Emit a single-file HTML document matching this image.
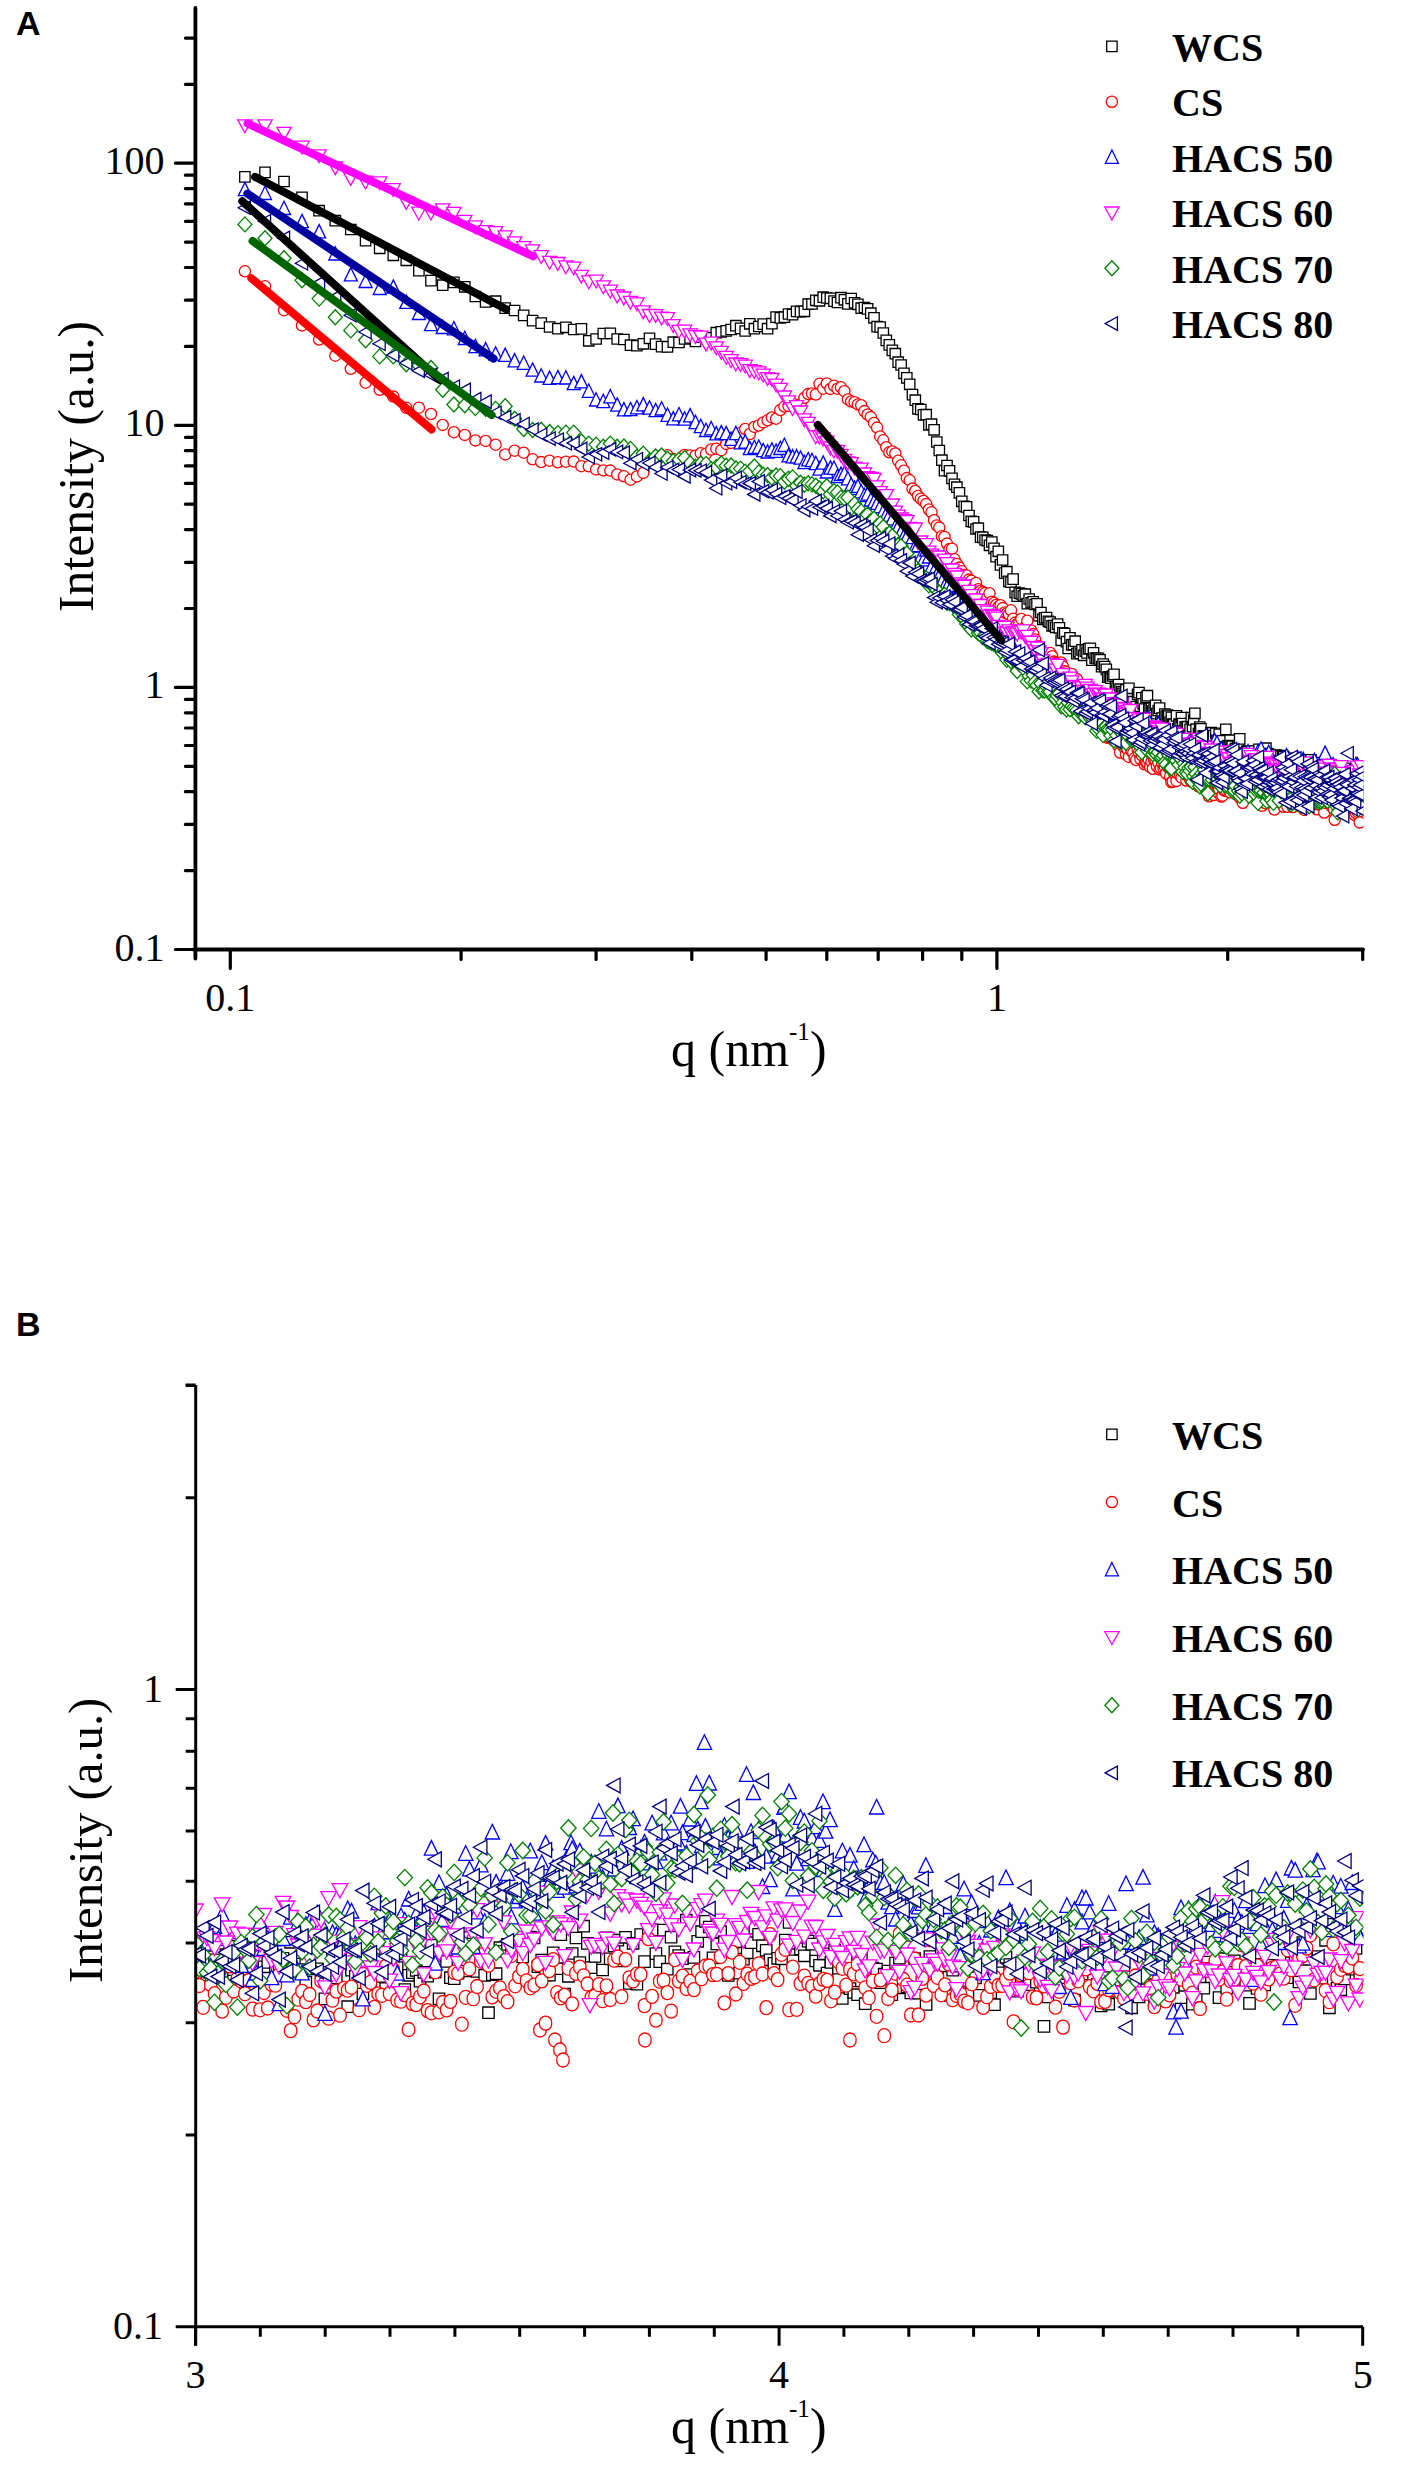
<!DOCTYPE html>
<html><head><meta charset="utf-8"><style>
html,body{margin:0;padding:0;background:#fff;}
body{width:1404px;height:2480px;overflow:hidden;}
svg{display:block;}
.tk{font-family:"Liberation Serif",serif;font-size:40px;fill:#000;}
.lg{font-family:"Liberation Serif",serif;font-size:40px;font-weight:bold;fill:#000;}
.ti{font-family:"Liberation Serif",serif;font-size:50px;fill:#000;}
.pl{font-family:"Liberation Sans",sans-serif;font-size:34px;font-weight:bold;fill:#000;}
.mk path{fill:#fff;stroke-width:1.3;}
.mb path{fill:#fff;stroke-width:1.3;}
</style></head><body>
<svg width="1404" height="2480" viewBox="0 0 1404 2480">
<defs>
<clipPath id="ca"><rect x="195" y="0" width="1168.5" height="950"/></clipPath>
<clipPath id="cb"><rect x="195" y="1380" width="1168.5" height="947"/></clipPath>
</defs>
<rect x="0" y="0" width="1404" height="2480" fill="#fff"/>
<rect x="0" y="1242" width="1404" height="1238" fill="#fefefe"/>
<text class="pl" x="16" y="35">A</text>
<text class="pl" x="16" y="1335.5">B</text>
<!-- Panel A -->
<g class="mk" clip-path="url(#ca)">
<g stroke="#000"><path d="M239.7 171.7h10.4v10.4h-10.4z"/><path d="M259.8 167.2h10.4v10.4h-10.4z"/><path d="M278.8 176.3h10.4v10.4h-10.4z"/><path d="M296.8 192.2h10.4v10.4h-10.4z"/><path d="M313.9 205.5h10.4v10.4h-10.4z"/><path d="M330.1 215.4h10.4v10.4h-10.4z"/><path d="M345.6 224.3h10.4v10.4h-10.4z"/><path d="M360.4 235.4h10.4v10.4h-10.4z"/><path d="M374.5 243.1h10.4v10.4h-10.4z"/><path d="M388.1 250.1h10.4v10.4h-10.4z"/><path d="M401.1 255.1h10.4v10.4h-10.4z"/><path d="M413.7 265.5h10.4v10.4h-10.4z"/><path d="M425.8 275.4h10.4v10.4h-10.4z"/><path d="M437.5 280h10.4v10.4h-10.4z"/><path d="M448.7 277.2h10.4v10.4h-10.4z"/><path d="M459.6 281.6h10.4v10.4h-10.4z"/><path d="M470.2 291.3h10.4v10.4h-10.4z"/><path d="M480.4 296.7h10.4v10.4h-10.4z"/><path d="M490.4 296h10.4v10.4h-10.4z"/><path d="M500 302.9h10.4v10.4h-10.4z"/><path d="M509.4 305.3h10.4v10.4h-10.4z"/><path d="M518.5 310.2h10.4v10.4h-10.4z"/><path d="M527.4 315.4h10.4v10.4h-10.4z"/><path d="M536 317.9h10.4v10.4h-10.4z"/><path d="M544.4 321.8h10.4v10.4h-10.4z"/><path d="M552.7 323.5h10.4v10.4h-10.4z"/><path d="M560.7 322.1h10.4v10.4h-10.4z"/><path d="M568.5 324.3h10.4v10.4h-10.4z"/><path d="M576.2 323.7h10.4v10.4h-10.4z"/><path d="M583.6 335.6h10.4v10.4h-10.4z"/><path d="M590.9 333.8h10.4v10.4h-10.4z"/><path d="M598.1 328.3h10.4v10.4h-10.4z"/><path d="M605.1 328.2h10.4v10.4h-10.4z"/><path d="M612 333.8h10.4v10.4h-10.4z"/><path d="M618.7 334.3h10.4v10.4h-10.4z"/><path d="M625.3 340h10.4v10.4h-10.4z"/><path d="M631.7 340.5h10.4v10.4h-10.4z"/><path d="M638.1 338.6h10.4v10.4h-10.4z"/><path d="M644.3 333.1h10.4v10.4h-10.4z"/><path d="M650.4 338.9h10.4v10.4h-10.4z"/><path d="M656.4 341.4h10.4v10.4h-10.4z"/><path d="M662.3 341.7h10.4v10.4h-10.4z"/><path d="M668.1 337h10.4v10.4h-10.4z"/><path d="M673.8 337.3h10.4v10.4h-10.4z"/><path d="M679.4 333.8h10.4v10.4h-10.4z"/><path d="M684.9 332.7h10.4v10.4h-10.4z"/><path d="M690.3 336.2h10.4v10.4h-10.4z"/><path d="M695.6 331.9h10.4v10.4h-10.4z"/><path d="M700.8 332.6h10.4v10.4h-10.4z"/><path d="M706 332.7h10.4v10.4h-10.4z"/><path d="M711.1 327.5h10.4v10.4h-10.4z"/><path d="M716.1 326.7h10.4v10.4h-10.4z"/><path d="M721 325.7h10.4v10.4h-10.4z"/><path d="M725.9 324.3h10.4v10.4h-10.4z"/><path d="M730.7 320.5h10.4v10.4h-10.4z"/><path d="M735.4 323.2h10.4v10.4h-10.4z"/><path d="M740 325.8h10.4v10.4h-10.4z"/><path d="M744.6 318.6h10.4v10.4h-10.4z"/><path d="M749.2 323.5h10.4v10.4h-10.4z"/><path d="M753.6 321.3h10.4v10.4h-10.4z"/><path d="M758 318.9h10.4v10.4h-10.4z"/><path d="M762.4 323.5h10.4v10.4h-10.4z"/><path d="M766.7 318.5h10.4v10.4h-10.4z"/><path d="M770.9 311.9h10.4v10.4h-10.4z"/><path d="M775.1 312.7h10.4v10.4h-10.4z"/><path d="M779.2 312h10.4v10.4h-10.4z"/><path d="M783.3 308.8h10.4v10.4h-10.4z"/><path d="M787.4 309.4h10.4v10.4h-10.4z"/><path d="M791.4 306.2h10.4v10.4h-10.4z"/><path d="M795.3 306.5h10.4v10.4h-10.4z"/><path d="M799.2 306.1h10.4v10.4h-10.4z"/><path d="M803 299h10.4v10.4h-10.4z"/><path d="M806.8 298.8h10.4v10.4h-10.4z"/><path d="M810.6 295.1h10.4v10.4h-10.4z"/><path d="M814.3 295.6h10.4v10.4h-10.4z"/><path d="M818 292h10.4v10.4h-10.4z"/><path d="M821.6 292.8h10.4v10.4h-10.4z"/><path d="M825.2 293.1h10.4v10.4h-10.4z"/><path d="M828.8 295.9h10.4v10.4h-10.4z"/><path d="M832.3 297.3h10.4v10.4h-10.4z"/><path d="M835.8 292.5h10.4v10.4h-10.4z"/><path d="M839.2 294.6h10.4v10.4h-10.4z"/><path d="M842.7 298.7h10.4v10.4h-10.4z"/><path d="M846 293.3h10.4v10.4h-10.4z"/><path d="M849.4 297.6h10.4v10.4h-10.4z"/><path d="M852.7 299.1h10.4v10.4h-10.4z"/><path d="M856 303h10.4v10.4h-10.4z"/><path d="M859.2 302.3h10.4v10.4h-10.4z"/><path d="M862.4 303.7h10.4v10.4h-10.4z"/><path d="M865.6 308h10.4v10.4h-10.4z"/><path d="M868.8 312.6h10.4v10.4h-10.4z"/><path d="M871.9 321.4h10.4v10.4h-10.4z"/><path d="M875 321.8h10.4v10.4h-10.4z"/><path d="M878.1 327.8h10.4v10.4h-10.4z"/><path d="M881.1 335.2h10.4v10.4h-10.4z"/><path d="M884.1 339.7h10.4v10.4h-10.4z"/><path d="M887.1 345.2h10.4v10.4h-10.4z"/><path d="M890.1 348.5h10.4v10.4h-10.4z"/><path d="M893 357h10.4v10.4h-10.4z"/><path d="M895.9 359.8h10.4v10.4h-10.4z"/><path d="M898.8 368.1h10.4v10.4h-10.4z"/><path d="M901.6 372.6h10.4v10.4h-10.4z"/><path d="M904.5 379.1h10.4v10.4h-10.4z"/><path d="M907.3 389.4h10.4v10.4h-10.4z"/><path d="M910.1 395h10.4v10.4h-10.4z"/><path d="M912.8 403.6h10.4v10.4h-10.4z"/><path d="M915.6 404.3h10.4v10.4h-10.4z"/><path d="M918.3 409.6h10.4v10.4h-10.4z"/><path d="M921 409.5h10.4v10.4h-10.4z"/><path d="M923.7 419.6h10.4v10.4h-10.4z"/><path d="M926.3 419h10.4v10.4h-10.4z"/><path d="M928.9 424.6h10.4v10.4h-10.4z"/><path d="M931.6 436.8h10.4v10.4h-10.4z"/><path d="M934.1 445.3h10.4v10.4h-10.4z"/><path d="M936.7 455h10.4v10.4h-10.4z"/><path d="M939.3 465.5h10.4v10.4h-10.4z"/><path d="M941.8 460.3h10.4v10.4h-10.4z"/><path d="M944.3 465.6h10.4v10.4h-10.4z"/><path d="M946.8 473.2h10.4v10.4h-10.4z"/><path d="M949.3 479.1h10.4v10.4h-10.4z"/><path d="M951.7 482h10.4v10.4h-10.4z"/><path d="M954.2 487.6h10.4v10.4h-10.4z"/><path d="M956.6 496.1h10.4v10.4h-10.4z"/><path d="M959 501.1h10.4v10.4h-10.4z"/><path d="M961.4 501.7h10.4v10.4h-10.4z"/><path d="M963.8 510.3h10.4v10.4h-10.4z"/><path d="M966.1 516.2h10.4v10.4h-10.4z"/><path d="M968.4 516.6h10.4v10.4h-10.4z"/><path d="M970.8 523.8h10.4v10.4h-10.4z"/><path d="M973.1 523h10.4v10.4h-10.4z"/><path d="M975.4 531.9h10.4v10.4h-10.4z"/><path d="M977.6 532.1h10.4v10.4h-10.4z"/><path d="M979.9 534.8h10.4v10.4h-10.4z"/><path d="M982.1 535.5h10.4v10.4h-10.4z"/><path d="M984.3 540.1h10.4v10.4h-10.4z"/><path d="M986.6 536.8h10.4v10.4h-10.4z"/><path d="M988.8 543.1h10.4v10.4h-10.4z"/><path d="M990.9 551.5h10.4v10.4h-10.4z"/><path d="M993.1 546.1h10.4v10.4h-10.4z"/><path d="M995.3 559.7h10.4v10.4h-10.4z"/><path d="M997.4 554.8h10.4v10.4h-10.4z"/><path d="M999.5 567.9h10.4v10.4h-10.4z"/><path d="M1001.6 566.5h10.4v10.4h-10.4z"/><path d="M1003.7 576.1h10.4v10.4h-10.4z"/><path d="M1005.8 576.9h10.4v10.4h-10.4z"/><path d="M1007.9 573.9h10.4v10.4h-10.4z"/><path d="M1010 587.2h10.4v10.4h-10.4z"/><path d="M1012 591h10.4v10.4h-10.4z"/><path d="M1014.1 587.9h10.4v10.4h-10.4z"/><path d="M1016.1 588.7h10.4v10.4h-10.4z"/><path d="M1018.1 590.6h10.4v10.4h-10.4z"/><path d="M1020.1 589h10.4v10.4h-10.4z"/><path d="M1022.1 598.4h10.4v10.4h-10.4z"/><path d="M1024 593.8h10.4v10.4h-10.4z"/><path d="M1026 597.6h10.4v10.4h-10.4z"/><path d="M1028 596.7h10.4v10.4h-10.4z"/><path d="M1029.9 599.3h10.4v10.4h-10.4z"/><path d="M1031.8 598.6h10.4v10.4h-10.4z"/><path d="M1033.8 610.5h10.4v10.4h-10.4z"/><path d="M1035.7 607.3h10.4v10.4h-10.4z"/><path d="M1037.6 614.2h10.4v10.4h-10.4z"/><path d="M1039.4 612.7h10.4v10.4h-10.4z"/><path d="M1041.3 612.3h10.4v10.4h-10.4z"/><path d="M1043.2 616.1h10.4v10.4h-10.4z"/><path d="M1045 616.9h10.4v10.4h-10.4z"/><path d="M1046.9 620.6h10.4v10.4h-10.4z"/><path d="M1048.7 620.4h10.4v10.4h-10.4z"/><path d="M1050.5 622.1h10.4v10.4h-10.4z"/><path d="M1052.4 618.9h10.4v10.4h-10.4z"/><path d="M1054.2 622.6h10.4v10.4h-10.4z"/><path d="M1056 635.1h10.4v10.4h-10.4z"/><path d="M1057.7 627.7h10.4v10.4h-10.4z"/><path d="M1059.5 628.3h10.4v10.4h-10.4z"/><path d="M1061.3 636.5h10.4v10.4h-10.4z"/><path d="M1063 643.3h10.4v10.4h-10.4z"/><path d="M1064.8 632.7h10.4v10.4h-10.4z"/><path d="M1066.5 639.6h10.4v10.4h-10.4z"/><path d="M1068.3 639.3h10.4v10.4h-10.4z"/><path d="M1070 636h10.4v10.4h-10.4z"/><path d="M1071.7 648.4h10.4v10.4h-10.4z"/><path d="M1073.4 646.6h10.4v10.4h-10.4z"/><path d="M1075.1 648.2h10.4v10.4h-10.4z"/><path d="M1076.8 644.7h10.4v10.4h-10.4z"/><path d="M1078.4 650.1h10.4v10.4h-10.4z"/><path d="M1080.1 645.9h10.4v10.4h-10.4z"/><path d="M1081.8 647.8h10.4v10.4h-10.4z"/><path d="M1083.4 643.6h10.4v10.4h-10.4z"/><path d="M1085.1 643.2h10.4v10.4h-10.4z"/><path d="M1086.7 654.9h10.4v10.4h-10.4z"/><path d="M1088.3 647.6h10.4v10.4h-10.4z"/><path d="M1090 653h10.4v10.4h-10.4z"/><path d="M1091.6 653.3h10.4v10.4h-10.4z"/><path d="M1093.2 653.1h10.4v10.4h-10.4z"/><path d="M1094.8 654.6h10.4v10.4h-10.4z"/><path d="M1096.4 661.5h10.4v10.4h-10.4z"/><path d="M1097.9 658.9h10.4v10.4h-10.4z"/><path d="M1099.5 661.3h10.4v10.4h-10.4z"/><path d="M1101.1 664.2h10.4v10.4h-10.4z"/><path d="M1102.6 672h10.4v10.4h-10.4z"/><path d="M1104.2 672h10.4v10.4h-10.4z"/><path d="M1105.7 673h10.4v10.4h-10.4z"/><path d="M1107.3 670.8h10.4v10.4h-10.4z"/><path d="M1108.8 669.2h10.4v10.4h-10.4z"/><path d="M1110.3 681.7h10.4v10.4h-10.4z"/><path d="M1111.8 683.2h10.4v10.4h-10.4z"/><path d="M1113.4 679.3h10.4v10.4h-10.4z"/><path d="M1114.9 684h10.4v10.4h-10.4z"/><path d="M1116.3 686.5h10.4v10.4h-10.4z"/><path d="M1117.8 688.1h10.4v10.4h-10.4z"/><path d="M1119.3 689.9h10.4v10.4h-10.4z"/><path d="M1120.8 684.6h10.4v10.4h-10.4z"/><path d="M1122.3 695.6h10.4v10.4h-10.4z"/><path d="M1123.7 683.1h10.4v10.4h-10.4z"/><path d="M1125.2 694.5h10.4v10.4h-10.4z"/><path d="M1126.6 693.6h10.4v10.4h-10.4z"/><path d="M1128.1 696.5h10.4v10.4h-10.4z"/><path d="M1129.5 702.4h10.4v10.4h-10.4z"/><path d="M1131 701.4h10.4v10.4h-10.4z"/><path d="M1132.4 689.2h10.4v10.4h-10.4z"/><path d="M1133.8 687.4h10.4v10.4h-10.4z"/><path d="M1135.2 700.9h10.4v10.4h-10.4z"/><path d="M1136.6 692.6h10.4v10.4h-10.4z"/><path d="M1138 698.6h10.4v10.4h-10.4z"/><path d="M1139.4 703.8h10.4v10.4h-10.4z"/><path d="M1140.8 692.1h10.4v10.4h-10.4z"/><path d="M1142.2 690.5h10.4v10.4h-10.4z"/><path d="M1143.6 703.6h10.4v10.4h-10.4z"/><path d="M1144.9 703.5h10.4v10.4h-10.4z"/><path d="M1146.3 703.2h10.4v10.4h-10.4z"/><path d="M1147.7 705.9h10.4v10.4h-10.4z"/><path d="M1149 702.4h10.4v10.4h-10.4z"/><path d="M1150.4 700.2h10.4v10.4h-10.4z"/><path d="M1151.7 708.4h10.4v10.4h-10.4z"/><path d="M1153.1 705.3h10.4v10.4h-10.4z"/><path d="M1154.4 702.9h10.4v10.4h-10.4z"/><path d="M1155.7 715.4h10.4v10.4h-10.4z"/><path d="M1157 712.9h10.4v10.4h-10.4z"/><path d="M1158.4 715.9h10.4v10.4h-10.4z"/><path d="M1159.7 708.9h10.4v10.4h-10.4z"/><path d="M1161 711.1h10.4v10.4h-10.4z"/><path d="M1162.3 709.8h10.4v10.4h-10.4z"/><path d="M1163.6 710.8h10.4v10.4h-10.4z"/><path d="M1164.9 717.1h10.4v10.4h-10.4z"/><path d="M1166.2 712.2h10.4v10.4h-10.4z"/><path d="M1167.5 718.8h10.4v10.4h-10.4z"/><path d="M1168.7 719.2h10.4v10.4h-10.4z"/><path d="M1170 728.8h10.4v10.4h-10.4z"/><path d="M1171.3 710.7h10.4v10.4h-10.4z"/><path d="M1172.5 723.6h10.4v10.4h-10.4z"/><path d="M1173.8 718.8h10.4v10.4h-10.4z"/><path d="M1175 719.7h10.4v10.4h-10.4z"/><path d="M1176.3 712.4h10.4v10.4h-10.4z"/><path d="M1177.5 718.4h10.4v10.4h-10.4z"/><path d="M1178.8 725.6h10.4v10.4h-10.4z"/><path d="M1180 721.6h10.4v10.4h-10.4z"/><path d="M1181.2 723.1h10.4v10.4h-10.4z"/><path d="M1182.5 721.5h10.4v10.4h-10.4z"/><path d="M1183.7 730.1h10.4v10.4h-10.4z"/><path d="M1184.9 724.1h10.4v10.4h-10.4z"/><path d="M1186.1 712.5h10.4v10.4h-10.4z"/><path d="M1187.3 721.4h10.4v10.4h-10.4z"/><path d="M1188.5 714.8h10.4v10.4h-10.4z"/><path d="M1189.7 708.1h10.4v10.4h-10.4z"/><path d="M1190.9 724h10.4v10.4h-10.4z"/><path d="M1192.1 735.1h10.4v10.4h-10.4z"/><path d="M1193.3 728.3h10.4v10.4h-10.4z"/><path d="M1194.5 721.8h10.4v10.4h-10.4z"/><path d="M1195.7 723.7h10.4v10.4h-10.4z"/><path d="M1196.8 736h10.4v10.4h-10.4z"/><path d="M1198 731h10.4v10.4h-10.4z"/><path d="M1199.2 730.8h10.4v10.4h-10.4z"/><path d="M1200.3 730.8h10.4v10.4h-10.4z"/><path d="M1201.5 731.8h10.4v10.4h-10.4z"/><path d="M1202.7 736.7h10.4v10.4h-10.4z"/><path d="M1203.8 735.8h10.4v10.4h-10.4z"/><path d="M1205 734.3h10.4v10.4h-10.4z"/><path d="M1206.1 727.5h10.4v10.4h-10.4z"/><path d="M1207.2 737h10.4v10.4h-10.4z"/><path d="M1208.4 730.5h10.4v10.4h-10.4z"/><path d="M1209.5 741.5h10.4v10.4h-10.4z"/><path d="M1210.6 728.1h10.4v10.4h-10.4z"/><path d="M1211.7 735.2h10.4v10.4h-10.4z"/><path d="M1212.9 736.5h10.4v10.4h-10.4z"/><path d="M1214 729.1h10.4v10.4h-10.4z"/><path d="M1215.1 747.7h10.4v10.4h-10.4z"/><path d="M1216.2 746.6h10.4v10.4h-10.4z"/><path d="M1217.3 735.7h10.4v10.4h-10.4z"/><path d="M1218.4 743.5h10.4v10.4h-10.4z"/><path d="M1219.5 741.6h10.4v10.4h-10.4z"/><path d="M1220.6 724.2h10.4v10.4h-10.4z"/><path d="M1221.7 741.8h10.4v10.4h-10.4z"/><path d="M1222.8 740.4h10.4v10.4h-10.4z"/><path d="M1223.9 741.7h10.4v10.4h-10.4z"/><path d="M1224.9 735h10.4v10.4h-10.4z"/><path d="M1226 740.3h10.4v10.4h-10.4z"/><path d="M1227.1 741.2h10.4v10.4h-10.4z"/><path d="M1228.1 749.9h10.4v10.4h-10.4z"/><path d="M1229.2 745.1h10.4v10.4h-10.4z"/><path d="M1230.3 743.4h10.4v10.4h-10.4z"/><path d="M1231.3 753.1h10.4v10.4h-10.4z"/><path d="M1232.4 740.7h10.4v10.4h-10.4z"/><path d="M1233.4 742.1h10.4v10.4h-10.4z"/><path d="M1234.5 733.7h10.4v10.4h-10.4z"/><path d="M1235.5 754.9h10.4v10.4h-10.4z"/><path d="M1236.6 751.5h10.4v10.4h-10.4z"/><path d="M1237.6 751.6h10.4v10.4h-10.4z"/><path d="M1238.6 750.4h10.4v10.4h-10.4z"/><path d="M1239.7 747.3h10.4v10.4h-10.4z"/><path d="M1240.7 748.3h10.4v10.4h-10.4z"/><path d="M1241.7 745.8h10.4v10.4h-10.4z"/><path d="M1242.8 746.4h10.4v10.4h-10.4z"/><path d="M1243.8 748.4h10.4v10.4h-10.4z"/><path d="M1244.8 757.9h10.4v10.4h-10.4z"/><path d="M1245.8 752.2h10.4v10.4h-10.4z"/><path d="M1246.8 748.7h10.4v10.4h-10.4z"/><path d="M1247.8 745.8h10.4v10.4h-10.4z"/><path d="M1248.8 745.8h10.4v10.4h-10.4z"/><path d="M1249.8 760.2h10.4v10.4h-10.4z"/><path d="M1250.8 753.6h10.4v10.4h-10.4z"/><path d="M1251.8 751.1h10.4v10.4h-10.4z"/><path d="M1252.8 748.8h10.4v10.4h-10.4z"/><path d="M1253.8 744.2h10.4v10.4h-10.4z"/><path d="M1254.8 751.1h10.4v10.4h-10.4z"/><path d="M1255.8 757.4h10.4v10.4h-10.4z"/><path d="M1256.8 749.6h10.4v10.4h-10.4z"/><path d="M1257.7 751h10.4v10.4h-10.4z"/><path d="M1258.7 751.3h10.4v10.4h-10.4z"/><path d="M1259.7 753.7h10.4v10.4h-10.4z"/><path d="M1260.7 743h10.4v10.4h-10.4z"/><path d="M1261.6 752h10.4v10.4h-10.4z"/><path d="M1262.6 748.3h10.4v10.4h-10.4z"/><path d="M1263.5 759.8h10.4v10.4h-10.4z"/><path d="M1264.5 749.4h10.4v10.4h-10.4z"/><path d="M1265.5 758.4h10.4v10.4h-10.4z"/><path d="M1266.4 764.8h10.4v10.4h-10.4z"/><path d="M1267.4 753.2h10.4v10.4h-10.4z"/><path d="M1268.3 751.6h10.4v10.4h-10.4z"/><path d="M1269.2 757h10.4v10.4h-10.4z"/><path d="M1270.2 756h10.4v10.4h-10.4z"/><path d="M1271.1 749.8h10.4v10.4h-10.4z"/><path d="M1272.1 759.6h10.4v10.4h-10.4z"/><path d="M1273 770.1h10.4v10.4h-10.4z"/><path d="M1273.9 755.5h10.4v10.4h-10.4z"/><path d="M1274.9 756.2h10.4v10.4h-10.4z"/><path d="M1275.8 751h10.4v10.4h-10.4z"/><path d="M1276.7 760.3h10.4v10.4h-10.4z"/><path d="M1277.6 750.3h10.4v10.4h-10.4z"/><path d="M1278.5 751.6h10.4v10.4h-10.4z"/><path d="M1279.5 767.7h10.4v10.4h-10.4z"/><path d="M1280.4 753.5h10.4v10.4h-10.4z"/><path d="M1281.3 767.1h10.4v10.4h-10.4z"/><path d="M1282.2 770.4h10.4v10.4h-10.4z"/><path d="M1283.1 762.3h10.4v10.4h-10.4z"/><path d="M1284 764.6h10.4v10.4h-10.4z"/><path d="M1284.9 774.3h10.4v10.4h-10.4z"/><path d="M1285.8 760.2h10.4v10.4h-10.4z"/><path d="M1286.7 757.9h10.4v10.4h-10.4z"/><path d="M1287.6 753.1h10.4v10.4h-10.4z"/><path d="M1288.5 762.8h10.4v10.4h-10.4z"/><path d="M1289.4 772.8h10.4v10.4h-10.4z"/><path d="M1290.3 769.6h10.4v10.4h-10.4z"/><path d="M1291.1 757.1h10.4v10.4h-10.4z"/><path d="M1292 758h10.4v10.4h-10.4z"/><path d="M1292.9 760.7h10.4v10.4h-10.4z"/><path d="M1293.8 766.4h10.4v10.4h-10.4z"/><path d="M1294.7 763.4h10.4v10.4h-10.4z"/><path d="M1295.5 766.5h10.4v10.4h-10.4z"/><path d="M1296.4 767.3h10.4v10.4h-10.4z"/><path d="M1297.3 763.5h10.4v10.4h-10.4z"/><path d="M1298.1 765.5h10.4v10.4h-10.4z"/><path d="M1299 767.5h10.4v10.4h-10.4z"/><path d="M1299.9 765.7h10.4v10.4h-10.4z"/><path d="M1300.7 770h10.4v10.4h-10.4z"/><path d="M1301.6 779.7h10.4v10.4h-10.4z"/><path d="M1302.4 771.2h10.4v10.4h-10.4z"/><path d="M1303.3 767.7h10.4v10.4h-10.4z"/><path d="M1304.1 756h10.4v10.4h-10.4z"/><path d="M1305 770.5h10.4v10.4h-10.4z"/><path d="M1305.8 754.6h10.4v10.4h-10.4z"/><path d="M1306.7 758.6h10.4v10.4h-10.4z"/><path d="M1307.5 774.6h10.4v10.4h-10.4z"/><path d="M1308.4 773.8h10.4v10.4h-10.4z"/><path d="M1309.2 768.1h10.4v10.4h-10.4z"/><path d="M1310 757.4h10.4v10.4h-10.4z"/><path d="M1310.9 767h10.4v10.4h-10.4z"/><path d="M1311.7 765.1h10.4v10.4h-10.4z"/><path d="M1312.5 774.6h10.4v10.4h-10.4z"/><path d="M1313.3 786.2h10.4v10.4h-10.4z"/><path d="M1314.2 772.1h10.4v10.4h-10.4z"/><path d="M1315 765.4h10.4v10.4h-10.4z"/><path d="M1315.8 762.9h10.4v10.4h-10.4z"/><path d="M1316.6 771h10.4v10.4h-10.4z"/><path d="M1317.5 770.3h10.4v10.4h-10.4z"/><path d="M1318.3 763.7h10.4v10.4h-10.4z"/><path d="M1319.1 772.9h10.4v10.4h-10.4z"/><path d="M1319.9 764.2h10.4v10.4h-10.4z"/><path d="M1320.7 780.5h10.4v10.4h-10.4z"/><path d="M1321.5 780.4h10.4v10.4h-10.4z"/><path d="M1322.3 780.8h10.4v10.4h-10.4z"/><path d="M1323.1 769.9h10.4v10.4h-10.4z"/><path d="M1323.9 777.2h10.4v10.4h-10.4z"/><path d="M1324.7 772.8h10.4v10.4h-10.4z"/><path d="M1325.5 771.2h10.4v10.4h-10.4z"/><path d="M1326.3 771.7h10.4v10.4h-10.4z"/><path d="M1327.1 765h10.4v10.4h-10.4z"/><path d="M1327.9 764.1h10.4v10.4h-10.4z"/><path d="M1328.7 780.3h10.4v10.4h-10.4z"/><path d="M1329.5 773.4h10.4v10.4h-10.4z"/><path d="M1330.3 776.5h10.4v10.4h-10.4z"/><path d="M1331 782.3h10.4v10.4h-10.4z"/><path d="M1331.8 762.8h10.4v10.4h-10.4z"/><path d="M1332.6 769.8h10.4v10.4h-10.4z"/><path d="M1333.4 776.9h10.4v10.4h-10.4z"/><path d="M1334.2 778.6h10.4v10.4h-10.4z"/><path d="M1334.9 773.2h10.4v10.4h-10.4z"/><path d="M1335.7 783.6h10.4v10.4h-10.4z"/><path d="M1336.5 777.8h10.4v10.4h-10.4z"/><path d="M1337.3 767.6h10.4v10.4h-10.4z"/><path d="M1338 769.8h10.4v10.4h-10.4z"/><path d="M1338.8 782.6h10.4v10.4h-10.4z"/><path d="M1339.6 780.3h10.4v10.4h-10.4z"/><path d="M1340.3 763.2h10.4v10.4h-10.4z"/><path d="M1341.1 787.1h10.4v10.4h-10.4z"/><path d="M1341.8 781.8h10.4v10.4h-10.4z"/><path d="M1342.6 787.4h10.4v10.4h-10.4z"/><path d="M1343.3 774.9h10.4v10.4h-10.4z"/><path d="M1344.1 775.7h10.4v10.4h-10.4z"/><path d="M1344.9 769.8h10.4v10.4h-10.4z"/><path d="M1345.6 796.9h10.4v10.4h-10.4z"/><path d="M1346.4 777.1h10.4v10.4h-10.4z"/><path d="M1347.1 790.2h10.4v10.4h-10.4z"/><path d="M1347.8 773.9h10.4v10.4h-10.4z"/><path d="M1348.6 780.1h10.4v10.4h-10.4z"/><path d="M1349.3 766.6h10.4v10.4h-10.4z"/><path d="M1350.1 776.3h10.4v10.4h-10.4z"/><path d="M1350.8 786.6h10.4v10.4h-10.4z"/><path d="M1351.5 770.2h10.4v10.4h-10.4z"/><path d="M1352.3 787.6h10.4v10.4h-10.4z"/><path d="M1353 782.3h10.4v10.4h-10.4z"/><path d="M1353.8 772.2h10.4v10.4h-10.4z"/><path d="M1354.5 776.4h10.4v10.4h-10.4z"/><path d="M1355.2 776.8h10.4v10.4h-10.4z"/><path d="M1355.9 780h10.4v10.4h-10.4z"/><path d="M1356.7 776.5h10.4v10.4h-10.4z"/><path d="M1357.4 774.5h10.4v10.4h-10.4z"/></g>
<g stroke="#f00"><path d="M239.3 271.3a5.6 5.6 0 1 0 11.2 0a5.6 5.6 0 1 0 -11.2 0z"/><path d="M259.4 286.3a5.6 5.6 0 1 0 11.2 0a5.6 5.6 0 1 0 -11.2 0z"/><path d="M278.4 310.2a5.6 5.6 0 1 0 11.2 0a5.6 5.6 0 1 0 -11.2 0z"/><path d="M296.4 325.4a5.6 5.6 0 1 0 11.2 0a5.6 5.6 0 1 0 -11.2 0z"/><path d="M313.5 339.6a5.6 5.6 0 1 0 11.2 0a5.6 5.6 0 1 0 -11.2 0z"/><path d="M329.7 355.7a5.6 5.6 0 1 0 11.2 0a5.6 5.6 0 1 0 -11.2 0z"/><path d="M345.2 368.8a5.6 5.6 0 1 0 11.2 0a5.6 5.6 0 1 0 -11.2 0z"/><path d="M360 382.7a5.6 5.6 0 1 0 11.2 0a5.6 5.6 0 1 0 -11.2 0z"/><path d="M374.1 389.8a5.6 5.6 0 1 0 11.2 0a5.6 5.6 0 1 0 -11.2 0z"/><path d="M387.7 396.6a5.6 5.6 0 1 0 11.2 0a5.6 5.6 0 1 0 -11.2 0z"/><path d="M400.7 407.8a5.6 5.6 0 1 0 11.2 0a5.6 5.6 0 1 0 -11.2 0z"/><path d="M413.3 407.7a5.6 5.6 0 1 0 11.2 0a5.6 5.6 0 1 0 -11.2 0z"/><path d="M425.4 414a5.6 5.6 0 1 0 11.2 0a5.6 5.6 0 1 0 -11.2 0z"/><path d="M437.1 424.9a5.6 5.6 0 1 0 11.2 0a5.6 5.6 0 1 0 -11.2 0z"/><path d="M448.3 432.2a5.6 5.6 0 1 0 11.2 0a5.6 5.6 0 1 0 -11.2 0z"/><path d="M459.2 434.9a5.6 5.6 0 1 0 11.2 0a5.6 5.6 0 1 0 -11.2 0z"/><path d="M469.8 440.4a5.6 5.6 0 1 0 11.2 0a5.6 5.6 0 1 0 -11.2 0z"/><path d="M480 440.9a5.6 5.6 0 1 0 11.2 0a5.6 5.6 0 1 0 -11.2 0z"/><path d="M490 444.7a5.6 5.6 0 1 0 11.2 0a5.6 5.6 0 1 0 -11.2 0z"/><path d="M499.6 454.4a5.6 5.6 0 1 0 11.2 0a5.6 5.6 0 1 0 -11.2 0z"/><path d="M509 450.7a5.6 5.6 0 1 0 11.2 0a5.6 5.6 0 1 0 -11.2 0z"/><path d="M518.1 452.7a5.6 5.6 0 1 0 11.2 0a5.6 5.6 0 1 0 -11.2 0z"/><path d="M527 459.3a5.6 5.6 0 1 0 11.2 0a5.6 5.6 0 1 0 -11.2 0z"/><path d="M535.6 462.1a5.6 5.6 0 1 0 11.2 0a5.6 5.6 0 1 0 -11.2 0z"/><path d="M544 460.7a5.6 5.6 0 1 0 11.2 0a5.6 5.6 0 1 0 -11.2 0z"/><path d="M552.3 462.3a5.6 5.6 0 1 0 11.2 0a5.6 5.6 0 1 0 -11.2 0z"/><path d="M560.3 461.7a5.6 5.6 0 1 0 11.2 0a5.6 5.6 0 1 0 -11.2 0z"/><path d="M568.1 461.6a5.6 5.6 0 1 0 11.2 0a5.6 5.6 0 1 0 -11.2 0z"/><path d="M575.8 466.2a5.6 5.6 0 1 0 11.2 0a5.6 5.6 0 1 0 -11.2 0z"/><path d="M583.2 466.3a5.6 5.6 0 1 0 11.2 0a5.6 5.6 0 1 0 -11.2 0z"/><path d="M590.5 469.4a5.6 5.6 0 1 0 11.2 0a5.6 5.6 0 1 0 -11.2 0z"/><path d="M597.7 470.4a5.6 5.6 0 1 0 11.2 0a5.6 5.6 0 1 0 -11.2 0z"/><path d="M604.7 470.6a5.6 5.6 0 1 0 11.2 0a5.6 5.6 0 1 0 -11.2 0z"/><path d="M611.6 474.4a5.6 5.6 0 1 0 11.2 0a5.6 5.6 0 1 0 -11.2 0z"/><path d="M618.3 476.3a5.6 5.6 0 1 0 11.2 0a5.6 5.6 0 1 0 -11.2 0z"/><path d="M624.9 479.7a5.6 5.6 0 1 0 11.2 0a5.6 5.6 0 1 0 -11.2 0z"/><path d="M631.3 476.4a5.6 5.6 0 1 0 11.2 0a5.6 5.6 0 1 0 -11.2 0z"/><path d="M637.7 472.9a5.6 5.6 0 1 0 11.2 0a5.6 5.6 0 1 0 -11.2 0z"/><path d="M643.9 462.3a5.6 5.6 0 1 0 11.2 0a5.6 5.6 0 1 0 -11.2 0z"/><path d="M650 459.9a5.6 5.6 0 1 0 11.2 0a5.6 5.6 0 1 0 -11.2 0z"/><path d="M656 455.7a5.6 5.6 0 1 0 11.2 0a5.6 5.6 0 1 0 -11.2 0z"/><path d="M661.9 455.3a5.6 5.6 0 1 0 11.2 0a5.6 5.6 0 1 0 -11.2 0z"/><path d="M667.7 459a5.6 5.6 0 1 0 11.2 0a5.6 5.6 0 1 0 -11.2 0z"/><path d="M673.4 460.9a5.6 5.6 0 1 0 11.2 0a5.6 5.6 0 1 0 -11.2 0z"/><path d="M679 454.9a5.6 5.6 0 1 0 11.2 0a5.6 5.6 0 1 0 -11.2 0z"/><path d="M684.5 455.4a5.6 5.6 0 1 0 11.2 0a5.6 5.6 0 1 0 -11.2 0z"/><path d="M689.9 455.7a5.6 5.6 0 1 0 11.2 0a5.6 5.6 0 1 0 -11.2 0z"/><path d="M695.2 453.2a5.6 5.6 0 1 0 11.2 0a5.6 5.6 0 1 0 -11.2 0z"/><path d="M700.4 453.7a5.6 5.6 0 1 0 11.2 0a5.6 5.6 0 1 0 -11.2 0z"/><path d="M705.6 449.5a5.6 5.6 0 1 0 11.2 0a5.6 5.6 0 1 0 -11.2 0z"/><path d="M710.7 448.7a5.6 5.6 0 1 0 11.2 0a5.6 5.6 0 1 0 -11.2 0z"/><path d="M715.7 450.2a5.6 5.6 0 1 0 11.2 0a5.6 5.6 0 1 0 -11.2 0z"/><path d="M720.6 443.9a5.6 5.6 0 1 0 11.2 0a5.6 5.6 0 1 0 -11.2 0z"/><path d="M725.5 442.9a5.6 5.6 0 1 0 11.2 0a5.6 5.6 0 1 0 -11.2 0z"/><path d="M730.3 436.6a5.6 5.6 0 1 0 11.2 0a5.6 5.6 0 1 0 -11.2 0z"/><path d="M735 433a5.6 5.6 0 1 0 11.2 0a5.6 5.6 0 1 0 -11.2 0z"/><path d="M739.6 429a5.6 5.6 0 1 0 11.2 0a5.6 5.6 0 1 0 -11.2 0z"/><path d="M744.2 434a5.6 5.6 0 1 0 11.2 0a5.6 5.6 0 1 0 -11.2 0z"/><path d="M748.8 426.9a5.6 5.6 0 1 0 11.2 0a5.6 5.6 0 1 0 -11.2 0z"/><path d="M753.2 425.5a5.6 5.6 0 1 0 11.2 0a5.6 5.6 0 1 0 -11.2 0z"/><path d="M757.6 422.4a5.6 5.6 0 1 0 11.2 0a5.6 5.6 0 1 0 -11.2 0z"/><path d="M762 420.3a5.6 5.6 0 1 0 11.2 0a5.6 5.6 0 1 0 -11.2 0z"/><path d="M766.3 417.4a5.6 5.6 0 1 0 11.2 0a5.6 5.6 0 1 0 -11.2 0z"/><path d="M770.5 418.7a5.6 5.6 0 1 0 11.2 0a5.6 5.6 0 1 0 -11.2 0z"/><path d="M774.7 410.1a5.6 5.6 0 1 0 11.2 0a5.6 5.6 0 1 0 -11.2 0z"/><path d="M778.8 406.6a5.6 5.6 0 1 0 11.2 0a5.6 5.6 0 1 0 -11.2 0z"/><path d="M782.9 405.9a5.6 5.6 0 1 0 11.2 0a5.6 5.6 0 1 0 -11.2 0z"/><path d="M787 403.5a5.6 5.6 0 1 0 11.2 0a5.6 5.6 0 1 0 -11.2 0z"/><path d="M791 406.1a5.6 5.6 0 1 0 11.2 0a5.6 5.6 0 1 0 -11.2 0z"/><path d="M794.9 404.3a5.6 5.6 0 1 0 11.2 0a5.6 5.6 0 1 0 -11.2 0z"/><path d="M798.8 397.8a5.6 5.6 0 1 0 11.2 0a5.6 5.6 0 1 0 -11.2 0z"/><path d="M802.6 394.1a5.6 5.6 0 1 0 11.2 0a5.6 5.6 0 1 0 -11.2 0z"/><path d="M806.4 393.4a5.6 5.6 0 1 0 11.2 0a5.6 5.6 0 1 0 -11.2 0z"/><path d="M810.2 394.5a5.6 5.6 0 1 0 11.2 0a5.6 5.6 0 1 0 -11.2 0z"/><path d="M813.9 383.8a5.6 5.6 0 1 0 11.2 0a5.6 5.6 0 1 0 -11.2 0z"/><path d="M817.6 388.7a5.6 5.6 0 1 0 11.2 0a5.6 5.6 0 1 0 -11.2 0z"/><path d="M821.2 383.5a5.6 5.6 0 1 0 11.2 0a5.6 5.6 0 1 0 -11.2 0z"/><path d="M824.8 388.9a5.6 5.6 0 1 0 11.2 0a5.6 5.6 0 1 0 -11.2 0z"/><path d="M828.4 385.8a5.6 5.6 0 1 0 11.2 0a5.6 5.6 0 1 0 -11.2 0z"/><path d="M831.9 388.7a5.6 5.6 0 1 0 11.2 0a5.6 5.6 0 1 0 -11.2 0z"/><path d="M835.4 387.3a5.6 5.6 0 1 0 11.2 0a5.6 5.6 0 1 0 -11.2 0z"/><path d="M838.8 391.2a5.6 5.6 0 1 0 11.2 0a5.6 5.6 0 1 0 -11.2 0z"/><path d="M842.3 399.4a5.6 5.6 0 1 0 11.2 0a5.6 5.6 0 1 0 -11.2 0z"/><path d="M845.6 401.5a5.6 5.6 0 1 0 11.2 0a5.6 5.6 0 1 0 -11.2 0z"/><path d="M849 402.2a5.6 5.6 0 1 0 11.2 0a5.6 5.6 0 1 0 -11.2 0z"/><path d="M852.3 404.4a5.6 5.6 0 1 0 11.2 0a5.6 5.6 0 1 0 -11.2 0z"/><path d="M855.6 405.2a5.6 5.6 0 1 0 11.2 0a5.6 5.6 0 1 0 -11.2 0z"/><path d="M858.8 411.1a5.6 5.6 0 1 0 11.2 0a5.6 5.6 0 1 0 -11.2 0z"/><path d="M862 414.5a5.6 5.6 0 1 0 11.2 0a5.6 5.6 0 1 0 -11.2 0z"/><path d="M865.2 417.1a5.6 5.6 0 1 0 11.2 0a5.6 5.6 0 1 0 -11.2 0z"/><path d="M868.4 422.9a5.6 5.6 0 1 0 11.2 0a5.6 5.6 0 1 0 -11.2 0z"/><path d="M871.5 427.6a5.6 5.6 0 1 0 11.2 0a5.6 5.6 0 1 0 -11.2 0z"/><path d="M874.6 436.4a5.6 5.6 0 1 0 11.2 0a5.6 5.6 0 1 0 -11.2 0z"/><path d="M877.7 440.3a5.6 5.6 0 1 0 11.2 0a5.6 5.6 0 1 0 -11.2 0z"/><path d="M880.7 447.2a5.6 5.6 0 1 0 11.2 0a5.6 5.6 0 1 0 -11.2 0z"/><path d="M883.7 452.3a5.6 5.6 0 1 0 11.2 0a5.6 5.6 0 1 0 -11.2 0z"/><path d="M886.7 451.4a5.6 5.6 0 1 0 11.2 0a5.6 5.6 0 1 0 -11.2 0z"/><path d="M889.7 453.5a5.6 5.6 0 1 0 11.2 0a5.6 5.6 0 1 0 -11.2 0z"/><path d="M892.6 460.8a5.6 5.6 0 1 0 11.2 0a5.6 5.6 0 1 0 -11.2 0z"/><path d="M895.5 465.3a5.6 5.6 0 1 0 11.2 0a5.6 5.6 0 1 0 -11.2 0z"/><path d="M898.4 470.7a5.6 5.6 0 1 0 11.2 0a5.6 5.6 0 1 0 -11.2 0z"/><path d="M901.2 478.1a5.6 5.6 0 1 0 11.2 0a5.6 5.6 0 1 0 -11.2 0z"/><path d="M904.1 480.3a5.6 5.6 0 1 0 11.2 0a5.6 5.6 0 1 0 -11.2 0z"/><path d="M906.9 488.6a5.6 5.6 0 1 0 11.2 0a5.6 5.6 0 1 0 -11.2 0z"/><path d="M909.7 491a5.6 5.6 0 1 0 11.2 0a5.6 5.6 0 1 0 -11.2 0z"/><path d="M912.4 496a5.6 5.6 0 1 0 11.2 0a5.6 5.6 0 1 0 -11.2 0z"/><path d="M915.2 498.8a5.6 5.6 0 1 0 11.2 0a5.6 5.6 0 1 0 -11.2 0z"/><path d="M917.9 501a5.6 5.6 0 1 0 11.2 0a5.6 5.6 0 1 0 -11.2 0z"/><path d="M920.6 504.1a5.6 5.6 0 1 0 11.2 0a5.6 5.6 0 1 0 -11.2 0z"/><path d="M923.3 509.5a5.6 5.6 0 1 0 11.2 0a5.6 5.6 0 1 0 -11.2 0z"/><path d="M925.9 512.3a5.6 5.6 0 1 0 11.2 0a5.6 5.6 0 1 0 -11.2 0z"/><path d="M928.5 520.2a5.6 5.6 0 1 0 11.2 0a5.6 5.6 0 1 0 -11.2 0z"/><path d="M931.2 525.4a5.6 5.6 0 1 0 11.2 0a5.6 5.6 0 1 0 -11.2 0z"/><path d="M933.7 527.6a5.6 5.6 0 1 0 11.2 0a5.6 5.6 0 1 0 -11.2 0z"/><path d="M936.3 536.2a5.6 5.6 0 1 0 11.2 0a5.6 5.6 0 1 0 -11.2 0z"/><path d="M938.9 537a5.6 5.6 0 1 0 11.2 0a5.6 5.6 0 1 0 -11.2 0z"/><path d="M941.4 543.6a5.6 5.6 0 1 0 11.2 0a5.6 5.6 0 1 0 -11.2 0z"/><path d="M943.9 549.1a5.6 5.6 0 1 0 11.2 0a5.6 5.6 0 1 0 -11.2 0z"/><path d="M946.4 548.7a5.6 5.6 0 1 0 11.2 0a5.6 5.6 0 1 0 -11.2 0z"/><path d="M948.9 559.3a5.6 5.6 0 1 0 11.2 0a5.6 5.6 0 1 0 -11.2 0z"/><path d="M951.3 564a5.6 5.6 0 1 0 11.2 0a5.6 5.6 0 1 0 -11.2 0z"/><path d="M953.8 567.6a5.6 5.6 0 1 0 11.2 0a5.6 5.6 0 1 0 -11.2 0z"/><path d="M956.2 571.3a5.6 5.6 0 1 0 11.2 0a5.6 5.6 0 1 0 -11.2 0z"/><path d="M958.6 575.1a5.6 5.6 0 1 0 11.2 0a5.6 5.6 0 1 0 -11.2 0z"/><path d="M961 575.4a5.6 5.6 0 1 0 11.2 0a5.6 5.6 0 1 0 -11.2 0z"/><path d="M963.4 579.6a5.6 5.6 0 1 0 11.2 0a5.6 5.6 0 1 0 -11.2 0z"/><path d="M965.7 580.8a5.6 5.6 0 1 0 11.2 0a5.6 5.6 0 1 0 -11.2 0z"/><path d="M968 584.7a5.6 5.6 0 1 0 11.2 0a5.6 5.6 0 1 0 -11.2 0z"/><path d="M970.4 582.9a5.6 5.6 0 1 0 11.2 0a5.6 5.6 0 1 0 -11.2 0z"/><path d="M972.7 589.2a5.6 5.6 0 1 0 11.2 0a5.6 5.6 0 1 0 -11.2 0z"/><path d="M975 590.9a5.6 5.6 0 1 0 11.2 0a5.6 5.6 0 1 0 -11.2 0z"/><path d="M977.2 592.1a5.6 5.6 0 1 0 11.2 0a5.6 5.6 0 1 0 -11.2 0z"/><path d="M979.5 593.1a5.6 5.6 0 1 0 11.2 0a5.6 5.6 0 1 0 -11.2 0z"/><path d="M981.7 598.1a5.6 5.6 0 1 0 11.2 0a5.6 5.6 0 1 0 -11.2 0z"/><path d="M983.9 593.3a5.6 5.6 0 1 0 11.2 0a5.6 5.6 0 1 0 -11.2 0z"/><path d="M986.2 601.7a5.6 5.6 0 1 0 11.2 0a5.6 5.6 0 1 0 -11.2 0z"/><path d="M988.4 603a5.6 5.6 0 1 0 11.2 0a5.6 5.6 0 1 0 -11.2 0z"/><path d="M990.5 604.9a5.6 5.6 0 1 0 11.2 0a5.6 5.6 0 1 0 -11.2 0z"/><path d="M992.7 606.9a5.6 5.6 0 1 0 11.2 0a5.6 5.6 0 1 0 -11.2 0z"/><path d="M994.9 605.2a5.6 5.6 0 1 0 11.2 0a5.6 5.6 0 1 0 -11.2 0z"/><path d="M997 608.1a5.6 5.6 0 1 0 11.2 0a5.6 5.6 0 1 0 -11.2 0z"/><path d="M999.1 612.5a5.6 5.6 0 1 0 11.2 0a5.6 5.6 0 1 0 -11.2 0z"/><path d="M1001.2 613.4a5.6 5.6 0 1 0 11.2 0a5.6 5.6 0 1 0 -11.2 0z"/><path d="M1003.3 614.3a5.6 5.6 0 1 0 11.2 0a5.6 5.6 0 1 0 -11.2 0z"/><path d="M1005.4 610.3a5.6 5.6 0 1 0 11.2 0a5.6 5.6 0 1 0 -11.2 0z"/><path d="M1007.5 618.7a5.6 5.6 0 1 0 11.2 0a5.6 5.6 0 1 0 -11.2 0z"/><path d="M1009.6 622.6a5.6 5.6 0 1 0 11.2 0a5.6 5.6 0 1 0 -11.2 0z"/><path d="M1011.6 623.9a5.6 5.6 0 1 0 11.2 0a5.6 5.6 0 1 0 -11.2 0z"/><path d="M1013.7 623.1a5.6 5.6 0 1 0 11.2 0a5.6 5.6 0 1 0 -11.2 0z"/><path d="M1015.7 618.9a5.6 5.6 0 1 0 11.2 0a5.6 5.6 0 1 0 -11.2 0z"/><path d="M1017.7 629.1a5.6 5.6 0 1 0 11.2 0a5.6 5.6 0 1 0 -11.2 0z"/><path d="M1019.7 627.1a5.6 5.6 0 1 0 11.2 0a5.6 5.6 0 1 0 -11.2 0z"/><path d="M1021.7 620.7a5.6 5.6 0 1 0 11.2 0a5.6 5.6 0 1 0 -11.2 0z"/><path d="M1023.6 633.7a5.6 5.6 0 1 0 11.2 0a5.6 5.6 0 1 0 -11.2 0z"/><path d="M1025.6 630.4a5.6 5.6 0 1 0 11.2 0a5.6 5.6 0 1 0 -11.2 0z"/><path d="M1027.6 634.1a5.6 5.6 0 1 0 11.2 0a5.6 5.6 0 1 0 -11.2 0z"/><path d="M1029.5 639.4a5.6 5.6 0 1 0 11.2 0a5.6 5.6 0 1 0 -11.2 0z"/><path d="M1031.4 649.1a5.6 5.6 0 1 0 11.2 0a5.6 5.6 0 1 0 -11.2 0z"/><path d="M1033.4 646.3a5.6 5.6 0 1 0 11.2 0a5.6 5.6 0 1 0 -11.2 0z"/><path d="M1035.3 651.6a5.6 5.6 0 1 0 11.2 0a5.6 5.6 0 1 0 -11.2 0z"/><path d="M1037.2 658.6a5.6 5.6 0 1 0 11.2 0a5.6 5.6 0 1 0 -11.2 0z"/><path d="M1039 659.3a5.6 5.6 0 1 0 11.2 0a5.6 5.6 0 1 0 -11.2 0z"/><path d="M1040.9 654.5a5.6 5.6 0 1 0 11.2 0a5.6 5.6 0 1 0 -11.2 0z"/><path d="M1042.8 655.3a5.6 5.6 0 1 0 11.2 0a5.6 5.6 0 1 0 -11.2 0z"/><path d="M1044.6 652.9a5.6 5.6 0 1 0 11.2 0a5.6 5.6 0 1 0 -11.2 0z"/><path d="M1046.5 656.2a5.6 5.6 0 1 0 11.2 0a5.6 5.6 0 1 0 -11.2 0z"/><path d="M1048.3 661.6a5.6 5.6 0 1 0 11.2 0a5.6 5.6 0 1 0 -11.2 0z"/><path d="M1050.1 662.8a5.6 5.6 0 1 0 11.2 0a5.6 5.6 0 1 0 -11.2 0z"/><path d="M1052 663a5.6 5.6 0 1 0 11.2 0a5.6 5.6 0 1 0 -11.2 0z"/><path d="M1053.8 667.5a5.6 5.6 0 1 0 11.2 0a5.6 5.6 0 1 0 -11.2 0z"/><path d="M1055.6 662.4a5.6 5.6 0 1 0 11.2 0a5.6 5.6 0 1 0 -11.2 0z"/><path d="M1057.3 666.6a5.6 5.6 0 1 0 11.2 0a5.6 5.6 0 1 0 -11.2 0z"/><path d="M1059.1 671.2a5.6 5.6 0 1 0 11.2 0a5.6 5.6 0 1 0 -11.2 0z"/><path d="M1060.9 672.2a5.6 5.6 0 1 0 11.2 0a5.6 5.6 0 1 0 -11.2 0z"/><path d="M1062.6 675.6a5.6 5.6 0 1 0 11.2 0a5.6 5.6 0 1 0 -11.2 0z"/><path d="M1064.4 674.6a5.6 5.6 0 1 0 11.2 0a5.6 5.6 0 1 0 -11.2 0z"/><path d="M1066.1 674a5.6 5.6 0 1 0 11.2 0a5.6 5.6 0 1 0 -11.2 0z"/><path d="M1067.9 680.1a5.6 5.6 0 1 0 11.2 0a5.6 5.6 0 1 0 -11.2 0z"/><path d="M1069.6 678.3a5.6 5.6 0 1 0 11.2 0a5.6 5.6 0 1 0 -11.2 0z"/><path d="M1071.3 679.2a5.6 5.6 0 1 0 11.2 0a5.6 5.6 0 1 0 -11.2 0z"/><path d="M1073 691.4a5.6 5.6 0 1 0 11.2 0a5.6 5.6 0 1 0 -11.2 0z"/><path d="M1074.7 692.2a5.6 5.6 0 1 0 11.2 0a5.6 5.6 0 1 0 -11.2 0z"/><path d="M1076.4 696.2a5.6 5.6 0 1 0 11.2 0a5.6 5.6 0 1 0 -11.2 0z"/><path d="M1078 690.7a5.6 5.6 0 1 0 11.2 0a5.6 5.6 0 1 0 -11.2 0z"/><path d="M1079.7 698.5a5.6 5.6 0 1 0 11.2 0a5.6 5.6 0 1 0 -11.2 0z"/><path d="M1081.4 700.1a5.6 5.6 0 1 0 11.2 0a5.6 5.6 0 1 0 -11.2 0z"/><path d="M1083 701.5a5.6 5.6 0 1 0 11.2 0a5.6 5.6 0 1 0 -11.2 0z"/><path d="M1084.7 698.3a5.6 5.6 0 1 0 11.2 0a5.6 5.6 0 1 0 -11.2 0z"/><path d="M1086.3 708.5a5.6 5.6 0 1 0 11.2 0a5.6 5.6 0 1 0 -11.2 0z"/><path d="M1087.9 716a5.6 5.6 0 1 0 11.2 0a5.6 5.6 0 1 0 -11.2 0z"/><path d="M1089.6 716.3a5.6 5.6 0 1 0 11.2 0a5.6 5.6 0 1 0 -11.2 0z"/><path d="M1091.2 714.7a5.6 5.6 0 1 0 11.2 0a5.6 5.6 0 1 0 -11.2 0z"/><path d="M1092.8 719.5a5.6 5.6 0 1 0 11.2 0a5.6 5.6 0 1 0 -11.2 0z"/><path d="M1094.4 725.1a5.6 5.6 0 1 0 11.2 0a5.6 5.6 0 1 0 -11.2 0z"/><path d="M1096 712.2a5.6 5.6 0 1 0 11.2 0a5.6 5.6 0 1 0 -11.2 0z"/><path d="M1097.5 724.9a5.6 5.6 0 1 0 11.2 0a5.6 5.6 0 1 0 -11.2 0z"/><path d="M1099.1 729.5a5.6 5.6 0 1 0 11.2 0a5.6 5.6 0 1 0 -11.2 0z"/><path d="M1100.7 731.8a5.6 5.6 0 1 0 11.2 0a5.6 5.6 0 1 0 -11.2 0z"/><path d="M1102.2 737.8a5.6 5.6 0 1 0 11.2 0a5.6 5.6 0 1 0 -11.2 0z"/><path d="M1103.8 737.1a5.6 5.6 0 1 0 11.2 0a5.6 5.6 0 1 0 -11.2 0z"/><path d="M1105.3 735.4a5.6 5.6 0 1 0 11.2 0a5.6 5.6 0 1 0 -11.2 0z"/><path d="M1106.9 737a5.6 5.6 0 1 0 11.2 0a5.6 5.6 0 1 0 -11.2 0z"/><path d="M1108.4 740.8a5.6 5.6 0 1 0 11.2 0a5.6 5.6 0 1 0 -11.2 0z"/><path d="M1109.9 736.8a5.6 5.6 0 1 0 11.2 0a5.6 5.6 0 1 0 -11.2 0z"/><path d="M1111.4 740.6a5.6 5.6 0 1 0 11.2 0a5.6 5.6 0 1 0 -11.2 0z"/><path d="M1113 746.3a5.6 5.6 0 1 0 11.2 0a5.6 5.6 0 1 0 -11.2 0z"/><path d="M1114.5 752.5a5.6 5.6 0 1 0 11.2 0a5.6 5.6 0 1 0 -11.2 0z"/><path d="M1115.9 744.4a5.6 5.6 0 1 0 11.2 0a5.6 5.6 0 1 0 -11.2 0z"/><path d="M1117.4 746a5.6 5.6 0 1 0 11.2 0a5.6 5.6 0 1 0 -11.2 0z"/><path d="M1118.9 748.1a5.6 5.6 0 1 0 11.2 0a5.6 5.6 0 1 0 -11.2 0z"/><path d="M1120.4 754.2a5.6 5.6 0 1 0 11.2 0a5.6 5.6 0 1 0 -11.2 0z"/><path d="M1121.9 749.2a5.6 5.6 0 1 0 11.2 0a5.6 5.6 0 1 0 -11.2 0z"/><path d="M1123.3 756.9a5.6 5.6 0 1 0 11.2 0a5.6 5.6 0 1 0 -11.2 0z"/><path d="M1124.8 747.2a5.6 5.6 0 1 0 11.2 0a5.6 5.6 0 1 0 -11.2 0z"/><path d="M1126.2 751.7a5.6 5.6 0 1 0 11.2 0a5.6 5.6 0 1 0 -11.2 0z"/><path d="M1127.7 752.7a5.6 5.6 0 1 0 11.2 0a5.6 5.6 0 1 0 -11.2 0z"/><path d="M1129.1 758.1a5.6 5.6 0 1 0 11.2 0a5.6 5.6 0 1 0 -11.2 0z"/><path d="M1130.6 760.1a5.6 5.6 0 1 0 11.2 0a5.6 5.6 0 1 0 -11.2 0z"/><path d="M1132 749.3a5.6 5.6 0 1 0 11.2 0a5.6 5.6 0 1 0 -11.2 0z"/><path d="M1133.4 752.7a5.6 5.6 0 1 0 11.2 0a5.6 5.6 0 1 0 -11.2 0z"/><path d="M1134.8 759a5.6 5.6 0 1 0 11.2 0a5.6 5.6 0 1 0 -11.2 0z"/><path d="M1136.2 755.2a5.6 5.6 0 1 0 11.2 0a5.6 5.6 0 1 0 -11.2 0z"/><path d="M1137.6 751.9a5.6 5.6 0 1 0 11.2 0a5.6 5.6 0 1 0 -11.2 0z"/><path d="M1139 764.3a5.6 5.6 0 1 0 11.2 0a5.6 5.6 0 1 0 -11.2 0z"/><path d="M1140.4 762.5a5.6 5.6 0 1 0 11.2 0a5.6 5.6 0 1 0 -11.2 0z"/><path d="M1141.8 763.2a5.6 5.6 0 1 0 11.2 0a5.6 5.6 0 1 0 -11.2 0z"/><path d="M1143.2 759.4a5.6 5.6 0 1 0 11.2 0a5.6 5.6 0 1 0 -11.2 0z"/><path d="M1144.5 767a5.6 5.6 0 1 0 11.2 0a5.6 5.6 0 1 0 -11.2 0z"/><path d="M1145.9 761.8a5.6 5.6 0 1 0 11.2 0a5.6 5.6 0 1 0 -11.2 0z"/><path d="M1147.3 768.7a5.6 5.6 0 1 0 11.2 0a5.6 5.6 0 1 0 -11.2 0z"/><path d="M1148.6 759.9a5.6 5.6 0 1 0 11.2 0a5.6 5.6 0 1 0 -11.2 0z"/><path d="M1150 760.7a5.6 5.6 0 1 0 11.2 0a5.6 5.6 0 1 0 -11.2 0z"/><path d="M1151.3 766.3a5.6 5.6 0 1 0 11.2 0a5.6 5.6 0 1 0 -11.2 0z"/><path d="M1152.7 762.5a5.6 5.6 0 1 0 11.2 0a5.6 5.6 0 1 0 -11.2 0z"/><path d="M1154 769.6a5.6 5.6 0 1 0 11.2 0a5.6 5.6 0 1 0 -11.2 0z"/><path d="M1155.3 768.2a5.6 5.6 0 1 0 11.2 0a5.6 5.6 0 1 0 -11.2 0z"/><path d="M1156.6 763.1a5.6 5.6 0 1 0 11.2 0a5.6 5.6 0 1 0 -11.2 0z"/><path d="M1158 768.4a5.6 5.6 0 1 0 11.2 0a5.6 5.6 0 1 0 -11.2 0z"/><path d="M1159.3 766.9a5.6 5.6 0 1 0 11.2 0a5.6 5.6 0 1 0 -11.2 0z"/><path d="M1160.6 773.5a5.6 5.6 0 1 0 11.2 0a5.6 5.6 0 1 0 -11.2 0z"/><path d="M1161.9 766.6a5.6 5.6 0 1 0 11.2 0a5.6 5.6 0 1 0 -11.2 0z"/><path d="M1163.2 768.1a5.6 5.6 0 1 0 11.2 0a5.6 5.6 0 1 0 -11.2 0z"/><path d="M1164.5 776.6a5.6 5.6 0 1 0 11.2 0a5.6 5.6 0 1 0 -11.2 0z"/><path d="M1165.8 782.1a5.6 5.6 0 1 0 11.2 0a5.6 5.6 0 1 0 -11.2 0z"/><path d="M1167.1 781.5a5.6 5.6 0 1 0 11.2 0a5.6 5.6 0 1 0 -11.2 0z"/><path d="M1168.3 772.6a5.6 5.6 0 1 0 11.2 0a5.6 5.6 0 1 0 -11.2 0z"/><path d="M1169.6 773.9a5.6 5.6 0 1 0 11.2 0a5.6 5.6 0 1 0 -11.2 0z"/><path d="M1170.9 780.9a5.6 5.6 0 1 0 11.2 0a5.6 5.6 0 1 0 -11.2 0z"/><path d="M1172.1 773.3a5.6 5.6 0 1 0 11.2 0a5.6 5.6 0 1 0 -11.2 0z"/><path d="M1173.4 769.6a5.6 5.6 0 1 0 11.2 0a5.6 5.6 0 1 0 -11.2 0z"/><path d="M1174.6 775.5a5.6 5.6 0 1 0 11.2 0a5.6 5.6 0 1 0 -11.2 0z"/><path d="M1175.9 777.7a5.6 5.6 0 1 0 11.2 0a5.6 5.6 0 1 0 -11.2 0z"/><path d="M1177.1 771.9a5.6 5.6 0 1 0 11.2 0a5.6 5.6 0 1 0 -11.2 0z"/><path d="M1178.4 768.3a5.6 5.6 0 1 0 11.2 0a5.6 5.6 0 1 0 -11.2 0z"/><path d="M1179.6 769.8a5.6 5.6 0 1 0 11.2 0a5.6 5.6 0 1 0 -11.2 0z"/><path d="M1180.8 780.6a5.6 5.6 0 1 0 11.2 0a5.6 5.6 0 1 0 -11.2 0z"/><path d="M1182.1 773.8a5.6 5.6 0 1 0 11.2 0a5.6 5.6 0 1 0 -11.2 0z"/><path d="M1183.3 777.2a5.6 5.6 0 1 0 11.2 0a5.6 5.6 0 1 0 -11.2 0z"/><path d="M1184.5 779.3a5.6 5.6 0 1 0 11.2 0a5.6 5.6 0 1 0 -11.2 0z"/><path d="M1185.7 781.7a5.6 5.6 0 1 0 11.2 0a5.6 5.6 0 1 0 -11.2 0z"/><path d="M1186.9 777.2a5.6 5.6 0 1 0 11.2 0a5.6 5.6 0 1 0 -11.2 0z"/><path d="M1188.1 781.7a5.6 5.6 0 1 0 11.2 0a5.6 5.6 0 1 0 -11.2 0z"/><path d="M1189.3 775a5.6 5.6 0 1 0 11.2 0a5.6 5.6 0 1 0 -11.2 0z"/><path d="M1190.5 777.9a5.6 5.6 0 1 0 11.2 0a5.6 5.6 0 1 0 -11.2 0z"/><path d="M1191.7 774.9a5.6 5.6 0 1 0 11.2 0a5.6 5.6 0 1 0 -11.2 0z"/><path d="M1192.9 786.2a5.6 5.6 0 1 0 11.2 0a5.6 5.6 0 1 0 -11.2 0z"/><path d="M1194.1 780.6a5.6 5.6 0 1 0 11.2 0a5.6 5.6 0 1 0 -11.2 0z"/><path d="M1195.3 777.2a5.6 5.6 0 1 0 11.2 0a5.6 5.6 0 1 0 -11.2 0z"/><path d="M1196.4 779.5a5.6 5.6 0 1 0 11.2 0a5.6 5.6 0 1 0 -11.2 0z"/><path d="M1197.6 780.5a5.6 5.6 0 1 0 11.2 0a5.6 5.6 0 1 0 -11.2 0z"/><path d="M1198.8 785.5a5.6 5.6 0 1 0 11.2 0a5.6 5.6 0 1 0 -11.2 0z"/><path d="M1199.9 773.9a5.6 5.6 0 1 0 11.2 0a5.6 5.6 0 1 0 -11.2 0z"/><path d="M1201.1 777.1a5.6 5.6 0 1 0 11.2 0a5.6 5.6 0 1 0 -11.2 0z"/><path d="M1202.3 780.8a5.6 5.6 0 1 0 11.2 0a5.6 5.6 0 1 0 -11.2 0z"/><path d="M1203.4 796.3a5.6 5.6 0 1 0 11.2 0a5.6 5.6 0 1 0 -11.2 0z"/><path d="M1204.6 788.4a5.6 5.6 0 1 0 11.2 0a5.6 5.6 0 1 0 -11.2 0z"/><path d="M1205.7 783.1a5.6 5.6 0 1 0 11.2 0a5.6 5.6 0 1 0 -11.2 0z"/><path d="M1206.8 787.7a5.6 5.6 0 1 0 11.2 0a5.6 5.6 0 1 0 -11.2 0z"/><path d="M1208 795.1a5.6 5.6 0 1 0 11.2 0a5.6 5.6 0 1 0 -11.2 0z"/><path d="M1209.1 783.3a5.6 5.6 0 1 0 11.2 0a5.6 5.6 0 1 0 -11.2 0z"/><path d="M1210.2 782.9a5.6 5.6 0 1 0 11.2 0a5.6 5.6 0 1 0 -11.2 0z"/><path d="M1211.3 791.5a5.6 5.6 0 1 0 11.2 0a5.6 5.6 0 1 0 -11.2 0z"/><path d="M1212.5 788a5.6 5.6 0 1 0 11.2 0a5.6 5.6 0 1 0 -11.2 0z"/><path d="M1213.6 789.2a5.6 5.6 0 1 0 11.2 0a5.6 5.6 0 1 0 -11.2 0z"/><path d="M1214.7 783.2a5.6 5.6 0 1 0 11.2 0a5.6 5.6 0 1 0 -11.2 0z"/><path d="M1215.8 796.5a5.6 5.6 0 1 0 11.2 0a5.6 5.6 0 1 0 -11.2 0z"/><path d="M1216.9 795.7a5.6 5.6 0 1 0 11.2 0a5.6 5.6 0 1 0 -11.2 0z"/><path d="M1218 789.8a5.6 5.6 0 1 0 11.2 0a5.6 5.6 0 1 0 -11.2 0z"/><path d="M1219.1 790.8a5.6 5.6 0 1 0 11.2 0a5.6 5.6 0 1 0 -11.2 0z"/><path d="M1220.2 776.4a5.6 5.6 0 1 0 11.2 0a5.6 5.6 0 1 0 -11.2 0z"/><path d="M1221.3 791.1a5.6 5.6 0 1 0 11.2 0a5.6 5.6 0 1 0 -11.2 0z"/><path d="M1222.4 786.9a5.6 5.6 0 1 0 11.2 0a5.6 5.6 0 1 0 -11.2 0z"/><path d="M1223.5 790.5a5.6 5.6 0 1 0 11.2 0a5.6 5.6 0 1 0 -11.2 0z"/><path d="M1224.5 792.2a5.6 5.6 0 1 0 11.2 0a5.6 5.6 0 1 0 -11.2 0z"/><path d="M1225.6 786.9a5.6 5.6 0 1 0 11.2 0a5.6 5.6 0 1 0 -11.2 0z"/><path d="M1226.7 779.8a5.6 5.6 0 1 0 11.2 0a5.6 5.6 0 1 0 -11.2 0z"/><path d="M1227.7 791.3a5.6 5.6 0 1 0 11.2 0a5.6 5.6 0 1 0 -11.2 0z"/><path d="M1228.8 785.5a5.6 5.6 0 1 0 11.2 0a5.6 5.6 0 1 0 -11.2 0z"/><path d="M1229.9 788a5.6 5.6 0 1 0 11.2 0a5.6 5.6 0 1 0 -11.2 0z"/><path d="M1230.9 786.8a5.6 5.6 0 1 0 11.2 0a5.6 5.6 0 1 0 -11.2 0z"/><path d="M1232 788.5a5.6 5.6 0 1 0 11.2 0a5.6 5.6 0 1 0 -11.2 0z"/><path d="M1233 777.9a5.6 5.6 0 1 0 11.2 0a5.6 5.6 0 1 0 -11.2 0z"/><path d="M1234.1 797.6a5.6 5.6 0 1 0 11.2 0a5.6 5.6 0 1 0 -11.2 0z"/><path d="M1235.1 792.6a5.6 5.6 0 1 0 11.2 0a5.6 5.6 0 1 0 -11.2 0z"/><path d="M1236.2 797.6a5.6 5.6 0 1 0 11.2 0a5.6 5.6 0 1 0 -11.2 0z"/><path d="M1237.2 802.7a5.6 5.6 0 1 0 11.2 0a5.6 5.6 0 1 0 -11.2 0z"/><path d="M1238.2 792.1a5.6 5.6 0 1 0 11.2 0a5.6 5.6 0 1 0 -11.2 0z"/><path d="M1239.3 782.1a5.6 5.6 0 1 0 11.2 0a5.6 5.6 0 1 0 -11.2 0z"/><path d="M1240.3 787.3a5.6 5.6 0 1 0 11.2 0a5.6 5.6 0 1 0 -11.2 0z"/><path d="M1241.3 785.6a5.6 5.6 0 1 0 11.2 0a5.6 5.6 0 1 0 -11.2 0z"/><path d="M1242.4 789.7a5.6 5.6 0 1 0 11.2 0a5.6 5.6 0 1 0 -11.2 0z"/><path d="M1243.4 793.1a5.6 5.6 0 1 0 11.2 0a5.6 5.6 0 1 0 -11.2 0z"/><path d="M1244.4 781.5a5.6 5.6 0 1 0 11.2 0a5.6 5.6 0 1 0 -11.2 0z"/><path d="M1245.4 794.9a5.6 5.6 0 1 0 11.2 0a5.6 5.6 0 1 0 -11.2 0z"/><path d="M1246.4 784.6a5.6 5.6 0 1 0 11.2 0a5.6 5.6 0 1 0 -11.2 0z"/><path d="M1247.4 794.9a5.6 5.6 0 1 0 11.2 0a5.6 5.6 0 1 0 -11.2 0z"/><path d="M1248.4 792.7a5.6 5.6 0 1 0 11.2 0a5.6 5.6 0 1 0 -11.2 0z"/><path d="M1249.4 791.7a5.6 5.6 0 1 0 11.2 0a5.6 5.6 0 1 0 -11.2 0z"/><path d="M1250.4 793.2a5.6 5.6 0 1 0 11.2 0a5.6 5.6 0 1 0 -11.2 0z"/><path d="M1251.4 790.7a5.6 5.6 0 1 0 11.2 0a5.6 5.6 0 1 0 -11.2 0z"/><path d="M1252.4 790.4a5.6 5.6 0 1 0 11.2 0a5.6 5.6 0 1 0 -11.2 0z"/><path d="M1253.4 784.4a5.6 5.6 0 1 0 11.2 0a5.6 5.6 0 1 0 -11.2 0z"/><path d="M1254.4 794a5.6 5.6 0 1 0 11.2 0a5.6 5.6 0 1 0 -11.2 0z"/><path d="M1255.4 804.9a5.6 5.6 0 1 0 11.2 0a5.6 5.6 0 1 0 -11.2 0z"/><path d="M1256.4 805.8a5.6 5.6 0 1 0 11.2 0a5.6 5.6 0 1 0 -11.2 0z"/><path d="M1257.3 802.2a5.6 5.6 0 1 0 11.2 0a5.6 5.6 0 1 0 -11.2 0z"/><path d="M1258.3 798.8a5.6 5.6 0 1 0 11.2 0a5.6 5.6 0 1 0 -11.2 0z"/><path d="M1259.3 790.9a5.6 5.6 0 1 0 11.2 0a5.6 5.6 0 1 0 -11.2 0z"/><path d="M1260.3 803.3a5.6 5.6 0 1 0 11.2 0a5.6 5.6 0 1 0 -11.2 0z"/><path d="M1261.2 794.8a5.6 5.6 0 1 0 11.2 0a5.6 5.6 0 1 0 -11.2 0z"/><path d="M1262.2 794.8a5.6 5.6 0 1 0 11.2 0a5.6 5.6 0 1 0 -11.2 0z"/><path d="M1263.1 793.7a5.6 5.6 0 1 0 11.2 0a5.6 5.6 0 1 0 -11.2 0z"/><path d="M1264.1 796a5.6 5.6 0 1 0 11.2 0a5.6 5.6 0 1 0 -11.2 0z"/><path d="M1265.1 793.1a5.6 5.6 0 1 0 11.2 0a5.6 5.6 0 1 0 -11.2 0z"/><path d="M1266 795.3a5.6 5.6 0 1 0 11.2 0a5.6 5.6 0 1 0 -11.2 0z"/><path d="M1267 789.5a5.6 5.6 0 1 0 11.2 0a5.6 5.6 0 1 0 -11.2 0z"/><path d="M1267.9 793.8a5.6 5.6 0 1 0 11.2 0a5.6 5.6 0 1 0 -11.2 0z"/><path d="M1268.8 809.5a5.6 5.6 0 1 0 11.2 0a5.6 5.6 0 1 0 -11.2 0z"/><path d="M1269.8 795.8a5.6 5.6 0 1 0 11.2 0a5.6 5.6 0 1 0 -11.2 0z"/><path d="M1270.7 795a5.6 5.6 0 1 0 11.2 0a5.6 5.6 0 1 0 -11.2 0z"/><path d="M1271.7 799.7a5.6 5.6 0 1 0 11.2 0a5.6 5.6 0 1 0 -11.2 0z"/><path d="M1272.6 800.8a5.6 5.6 0 1 0 11.2 0a5.6 5.6 0 1 0 -11.2 0z"/><path d="M1273.5 790.2a5.6 5.6 0 1 0 11.2 0a5.6 5.6 0 1 0 -11.2 0z"/><path d="M1274.5 795.7a5.6 5.6 0 1 0 11.2 0a5.6 5.6 0 1 0 -11.2 0z"/><path d="M1275.4 802.5a5.6 5.6 0 1 0 11.2 0a5.6 5.6 0 1 0 -11.2 0z"/><path d="M1276.3 798.7a5.6 5.6 0 1 0 11.2 0a5.6 5.6 0 1 0 -11.2 0z"/><path d="M1277.2 798a5.6 5.6 0 1 0 11.2 0a5.6 5.6 0 1 0 -11.2 0z"/><path d="M1278.1 806.7a5.6 5.6 0 1 0 11.2 0a5.6 5.6 0 1 0 -11.2 0z"/><path d="M1279.1 793.5a5.6 5.6 0 1 0 11.2 0a5.6 5.6 0 1 0 -11.2 0z"/><path d="M1280 798.1a5.6 5.6 0 1 0 11.2 0a5.6 5.6 0 1 0 -11.2 0z"/><path d="M1280.9 794.6a5.6 5.6 0 1 0 11.2 0a5.6 5.6 0 1 0 -11.2 0z"/><path d="M1281.8 806.8a5.6 5.6 0 1 0 11.2 0a5.6 5.6 0 1 0 -11.2 0z"/><path d="M1282.7 786.3a5.6 5.6 0 1 0 11.2 0a5.6 5.6 0 1 0 -11.2 0z"/><path d="M1283.6 794.1a5.6 5.6 0 1 0 11.2 0a5.6 5.6 0 1 0 -11.2 0z"/><path d="M1284.5 795.1a5.6 5.6 0 1 0 11.2 0a5.6 5.6 0 1 0 -11.2 0z"/><path d="M1285.4 802.4a5.6 5.6 0 1 0 11.2 0a5.6 5.6 0 1 0 -11.2 0z"/><path d="M1286.3 802.2a5.6 5.6 0 1 0 11.2 0a5.6 5.6 0 1 0 -11.2 0z"/><path d="M1287.2 807.1a5.6 5.6 0 1 0 11.2 0a5.6 5.6 0 1 0 -11.2 0z"/><path d="M1288.1 789.2a5.6 5.6 0 1 0 11.2 0a5.6 5.6 0 1 0 -11.2 0z"/><path d="M1289 803.4a5.6 5.6 0 1 0 11.2 0a5.6 5.6 0 1 0 -11.2 0z"/><path d="M1289.9 797.2a5.6 5.6 0 1 0 11.2 0a5.6 5.6 0 1 0 -11.2 0z"/><path d="M1290.7 795a5.6 5.6 0 1 0 11.2 0a5.6 5.6 0 1 0 -11.2 0z"/><path d="M1291.6 802.5a5.6 5.6 0 1 0 11.2 0a5.6 5.6 0 1 0 -11.2 0z"/><path d="M1292.5 793.7a5.6 5.6 0 1 0 11.2 0a5.6 5.6 0 1 0 -11.2 0z"/><path d="M1293.4 786.8a5.6 5.6 0 1 0 11.2 0a5.6 5.6 0 1 0 -11.2 0z"/><path d="M1294.3 797.3a5.6 5.6 0 1 0 11.2 0a5.6 5.6 0 1 0 -11.2 0z"/><path d="M1295.1 790.5a5.6 5.6 0 1 0 11.2 0a5.6 5.6 0 1 0 -11.2 0z"/><path d="M1296 795.8a5.6 5.6 0 1 0 11.2 0a5.6 5.6 0 1 0 -11.2 0z"/><path d="M1296.9 802.2a5.6 5.6 0 1 0 11.2 0a5.6 5.6 0 1 0 -11.2 0z"/><path d="M1297.7 802a5.6 5.6 0 1 0 11.2 0a5.6 5.6 0 1 0 -11.2 0z"/><path d="M1298.6 809.9a5.6 5.6 0 1 0 11.2 0a5.6 5.6 0 1 0 -11.2 0z"/><path d="M1299.5 799a5.6 5.6 0 1 0 11.2 0a5.6 5.6 0 1 0 -11.2 0z"/><path d="M1300.3 790.8a5.6 5.6 0 1 0 11.2 0a5.6 5.6 0 1 0 -11.2 0z"/><path d="M1301.2 795.7a5.6 5.6 0 1 0 11.2 0a5.6 5.6 0 1 0 -11.2 0z"/><path d="M1302 794.8a5.6 5.6 0 1 0 11.2 0a5.6 5.6 0 1 0 -11.2 0z"/><path d="M1302.9 793a5.6 5.6 0 1 0 11.2 0a5.6 5.6 0 1 0 -11.2 0z"/><path d="M1303.7 803.3a5.6 5.6 0 1 0 11.2 0a5.6 5.6 0 1 0 -11.2 0z"/><path d="M1304.6 796.7a5.6 5.6 0 1 0 11.2 0a5.6 5.6 0 1 0 -11.2 0z"/><path d="M1305.4 788.5a5.6 5.6 0 1 0 11.2 0a5.6 5.6 0 1 0 -11.2 0z"/><path d="M1306.3 805.2a5.6 5.6 0 1 0 11.2 0a5.6 5.6 0 1 0 -11.2 0z"/><path d="M1307.1 800.3a5.6 5.6 0 1 0 11.2 0a5.6 5.6 0 1 0 -11.2 0z"/><path d="M1308 803.3a5.6 5.6 0 1 0 11.2 0a5.6 5.6 0 1 0 -11.2 0z"/><path d="M1308.8 801.8a5.6 5.6 0 1 0 11.2 0a5.6 5.6 0 1 0 -11.2 0z"/><path d="M1309.6 805.2a5.6 5.6 0 1 0 11.2 0a5.6 5.6 0 1 0 -11.2 0z"/><path d="M1310.5 801.5a5.6 5.6 0 1 0 11.2 0a5.6 5.6 0 1 0 -11.2 0z"/><path d="M1311.3 809.2a5.6 5.6 0 1 0 11.2 0a5.6 5.6 0 1 0 -11.2 0z"/><path d="M1312.1 804.2a5.6 5.6 0 1 0 11.2 0a5.6 5.6 0 1 0 -11.2 0z"/><path d="M1312.9 804a5.6 5.6 0 1 0 11.2 0a5.6 5.6 0 1 0 -11.2 0z"/><path d="M1313.8 804.2a5.6 5.6 0 1 0 11.2 0a5.6 5.6 0 1 0 -11.2 0z"/><path d="M1314.6 792.5a5.6 5.6 0 1 0 11.2 0a5.6 5.6 0 1 0 -11.2 0z"/><path d="M1315.4 800.8a5.6 5.6 0 1 0 11.2 0a5.6 5.6 0 1 0 -11.2 0z"/><path d="M1316.2 800.2a5.6 5.6 0 1 0 11.2 0a5.6 5.6 0 1 0 -11.2 0z"/><path d="M1317.1 803.3a5.6 5.6 0 1 0 11.2 0a5.6 5.6 0 1 0 -11.2 0z"/><path d="M1317.9 793.4a5.6 5.6 0 1 0 11.2 0a5.6 5.6 0 1 0 -11.2 0z"/><path d="M1318.7 812.5a5.6 5.6 0 1 0 11.2 0a5.6 5.6 0 1 0 -11.2 0z"/><path d="M1319.5 802.9a5.6 5.6 0 1 0 11.2 0a5.6 5.6 0 1 0 -11.2 0z"/><path d="M1320.3 794.6a5.6 5.6 0 1 0 11.2 0a5.6 5.6 0 1 0 -11.2 0z"/><path d="M1321.1 791.5a5.6 5.6 0 1 0 11.2 0a5.6 5.6 0 1 0 -11.2 0z"/><path d="M1321.9 800.7a5.6 5.6 0 1 0 11.2 0a5.6 5.6 0 1 0 -11.2 0z"/><path d="M1322.7 802a5.6 5.6 0 1 0 11.2 0a5.6 5.6 0 1 0 -11.2 0z"/><path d="M1323.5 798a5.6 5.6 0 1 0 11.2 0a5.6 5.6 0 1 0 -11.2 0z"/><path d="M1324.3 803.3a5.6 5.6 0 1 0 11.2 0a5.6 5.6 0 1 0 -11.2 0z"/><path d="M1325.1 798.6a5.6 5.6 0 1 0 11.2 0a5.6 5.6 0 1 0 -11.2 0z"/><path d="M1325.9 806.4a5.6 5.6 0 1 0 11.2 0a5.6 5.6 0 1 0 -11.2 0z"/><path d="M1326.7 798.3a5.6 5.6 0 1 0 11.2 0a5.6 5.6 0 1 0 -11.2 0z"/><path d="M1327.5 802.8a5.6 5.6 0 1 0 11.2 0a5.6 5.6 0 1 0 -11.2 0z"/><path d="M1328.3 809.4a5.6 5.6 0 1 0 11.2 0a5.6 5.6 0 1 0 -11.2 0z"/><path d="M1329.1 819.8a5.6 5.6 0 1 0 11.2 0a5.6 5.6 0 1 0 -11.2 0z"/><path d="M1329.9 796.7a5.6 5.6 0 1 0 11.2 0a5.6 5.6 0 1 0 -11.2 0z"/><path d="M1330.6 800.3a5.6 5.6 0 1 0 11.2 0a5.6 5.6 0 1 0 -11.2 0z"/><path d="M1331.4 798a5.6 5.6 0 1 0 11.2 0a5.6 5.6 0 1 0 -11.2 0z"/><path d="M1332.2 808.6a5.6 5.6 0 1 0 11.2 0a5.6 5.6 0 1 0 -11.2 0z"/><path d="M1333 796.1a5.6 5.6 0 1 0 11.2 0a5.6 5.6 0 1 0 -11.2 0z"/><path d="M1333.8 800.5a5.6 5.6 0 1 0 11.2 0a5.6 5.6 0 1 0 -11.2 0z"/><path d="M1334.5 803.5a5.6 5.6 0 1 0 11.2 0a5.6 5.6 0 1 0 -11.2 0z"/><path d="M1335.3 797.4a5.6 5.6 0 1 0 11.2 0a5.6 5.6 0 1 0 -11.2 0z"/><path d="M1336.1 797.6a5.6 5.6 0 1 0 11.2 0a5.6 5.6 0 1 0 -11.2 0z"/><path d="M1336.9 800.8a5.6 5.6 0 1 0 11.2 0a5.6 5.6 0 1 0 -11.2 0z"/><path d="M1337.6 790.3a5.6 5.6 0 1 0 11.2 0a5.6 5.6 0 1 0 -11.2 0z"/><path d="M1338.4 794.6a5.6 5.6 0 1 0 11.2 0a5.6 5.6 0 1 0 -11.2 0z"/><path d="M1339.2 801.5a5.6 5.6 0 1 0 11.2 0a5.6 5.6 0 1 0 -11.2 0z"/><path d="M1339.9 805.2a5.6 5.6 0 1 0 11.2 0a5.6 5.6 0 1 0 -11.2 0z"/><path d="M1340.7 803.1a5.6 5.6 0 1 0 11.2 0a5.6 5.6 0 1 0 -11.2 0z"/><path d="M1341.4 792.7a5.6 5.6 0 1 0 11.2 0a5.6 5.6 0 1 0 -11.2 0z"/><path d="M1342.2 801.4a5.6 5.6 0 1 0 11.2 0a5.6 5.6 0 1 0 -11.2 0z"/><path d="M1342.9 809.8a5.6 5.6 0 1 0 11.2 0a5.6 5.6 0 1 0 -11.2 0z"/><path d="M1343.7 808.3a5.6 5.6 0 1 0 11.2 0a5.6 5.6 0 1 0 -11.2 0z"/><path d="M1344.5 804.2a5.6 5.6 0 1 0 11.2 0a5.6 5.6 0 1 0 -11.2 0z"/><path d="M1345.2 798.9a5.6 5.6 0 1 0 11.2 0a5.6 5.6 0 1 0 -11.2 0z"/><path d="M1346 809a5.6 5.6 0 1 0 11.2 0a5.6 5.6 0 1 0 -11.2 0z"/><path d="M1346.7 801.1a5.6 5.6 0 1 0 11.2 0a5.6 5.6 0 1 0 -11.2 0z"/><path d="M1347.4 797.2a5.6 5.6 0 1 0 11.2 0a5.6 5.6 0 1 0 -11.2 0z"/><path d="M1348.2 799.7a5.6 5.6 0 1 0 11.2 0a5.6 5.6 0 1 0 -11.2 0z"/><path d="M1348.9 814.8a5.6 5.6 0 1 0 11.2 0a5.6 5.6 0 1 0 -11.2 0z"/><path d="M1349.7 806.7a5.6 5.6 0 1 0 11.2 0a5.6 5.6 0 1 0 -11.2 0z"/><path d="M1350.4 813a5.6 5.6 0 1 0 11.2 0a5.6 5.6 0 1 0 -11.2 0z"/><path d="M1351.1 802.2a5.6 5.6 0 1 0 11.2 0a5.6 5.6 0 1 0 -11.2 0z"/><path d="M1351.9 811.7a5.6 5.6 0 1 0 11.2 0a5.6 5.6 0 1 0 -11.2 0z"/><path d="M1352.6 801.5a5.6 5.6 0 1 0 11.2 0a5.6 5.6 0 1 0 -11.2 0z"/><path d="M1353.4 804.5a5.6 5.6 0 1 0 11.2 0a5.6 5.6 0 1 0 -11.2 0z"/><path d="M1354.1 822.4a5.6 5.6 0 1 0 11.2 0a5.6 5.6 0 1 0 -11.2 0z"/><path d="M1354.8 810.9a5.6 5.6 0 1 0 11.2 0a5.6 5.6 0 1 0 -11.2 0z"/><path d="M1355.5 802.4a5.6 5.6 0 1 0 11.2 0a5.6 5.6 0 1 0 -11.2 0z"/><path d="M1356.3 805.3a5.6 5.6 0 1 0 11.2 0a5.6 5.6 0 1 0 -11.2 0z"/><path d="M1357 808.2a5.6 5.6 0 1 0 11.2 0a5.6 5.6 0 1 0 -11.2 0z"/></g>
<g stroke="#00f"><path d="M244.9 182.4l6.5 13.3h-13z"/><path d="M265 186.2l6.5 13.3h-13z"/><path d="M284 201.2l6.5 13.3h-13z"/><path d="M302 214.4l6.5 13.3h-13z"/><path d="M319.1 224.6l6.5 13.3h-13z"/><path d="M335.3 246.7l6.5 13.3h-13z"/><path d="M350.8 267.6l6.5 13.3h-13z"/><path d="M365.6 274.2l6.5 13.3h-13z"/><path d="M379.7 281.2l6.5 13.3h-13z"/><path d="M393.3 279.9l6.5 13.3h-13z"/><path d="M406.3 295.1l6.5 13.3h-13z"/><path d="M418.9 306.2l6.5 13.3h-13z"/><path d="M431 317.3l6.5 13.3h-13z"/><path d="M442.7 320.2l6.5 13.3h-13z"/><path d="M453.9 321.5l6.5 13.3h-13z"/><path d="M464.8 331.2l6.5 13.3h-13z"/><path d="M475.4 339.3l6.5 13.3h-13z"/><path d="M485.6 342.6l6.5 13.3h-13z"/><path d="M495.6 346.8l6.5 13.3h-13z"/><path d="M505.2 348.1l6.5 13.3h-13z"/><path d="M514.6 353.6l6.5 13.3h-13z"/><path d="M523.7 356l6.5 13.3h-13z"/><path d="M532.6 362.9l6.5 13.3h-13z"/><path d="M541.2 368.7l6.5 13.3h-13z"/><path d="M549.6 371.1l6.5 13.3h-13z"/><path d="M557.9 370.4l6.5 13.3h-13z"/><path d="M565.9 370.7l6.5 13.3h-13z"/><path d="M573.7 376.4l6.5 13.3h-13z"/><path d="M581.4 374.6l6.5 13.3h-13z"/><path d="M588.8 384l6.5 13.3h-13z"/><path d="M596.1 392.7l6.5 13.3h-13z"/><path d="M603.3 394.3l6.5 13.3h-13z"/><path d="M610.3 389.5l6.5 13.3h-13z"/><path d="M617.2 397.9l6.5 13.3h-13z"/><path d="M623.9 402.6l6.5 13.3h-13z"/><path d="M630.5 402.4l6.5 13.3h-13z"/><path d="M636.9 400.5l6.5 13.3h-13z"/><path d="M643.3 397.6l6.5 13.3h-13z"/><path d="M649.5 400.8l6.5 13.3h-13z"/><path d="M655.6 403.4l6.5 13.3h-13z"/><path d="M661.6 401.7l6.5 13.3h-13z"/><path d="M667.5 408l6.5 13.3h-13z"/><path d="M673.3 411.6l6.5 13.3h-13z"/><path d="M679 407.5l6.5 13.3h-13z"/><path d="M684.6 411.8l6.5 13.3h-13z"/><path d="M690.1 408.6l6.5 13.3h-13z"/><path d="M695.5 415.3l6.5 13.3h-13z"/><path d="M700.8 419.3l6.5 13.3h-13z"/><path d="M706 423.2l6.5 13.3h-13z"/><path d="M711.2 421.5l6.5 13.3h-13z"/><path d="M716.3 426.6l6.5 13.3h-13z"/><path d="M721.3 425.6l6.5 13.3h-13z"/><path d="M726.2 426.4l6.5 13.3h-13z"/><path d="M731.1 432.1l6.5 13.3h-13z"/><path d="M735.9 426.3l6.5 13.3h-13z"/><path d="M740.6 435.5l6.5 13.3h-13z"/><path d="M745.2 434.8l6.5 13.3h-13z"/><path d="M749.8 441.4l6.5 13.3h-13z"/><path d="M754.4 440.2l6.5 13.3h-13z"/><path d="M758.8 440l6.5 13.3h-13z"/><path d="M763.2 443.4l6.5 13.3h-13z"/><path d="M767.6 444.7l6.5 13.3h-13z"/><path d="M771.9 442.7l6.5 13.3h-13z"/><path d="M776.1 444l6.5 13.3h-13z"/><path d="M780.3 441.2l6.5 13.3h-13z"/><path d="M784.4 438.2l6.5 13.3h-13z"/><path d="M788.5 448.6l6.5 13.3h-13z"/><path d="M792.6 449.6l6.5 13.3h-13z"/><path d="M796.6 449.6l6.5 13.3h-13z"/><path d="M800.5 450.9l6.5 13.3h-13z"/><path d="M804.4 455.3l6.5 13.3h-13z"/><path d="M808.2 452.5l6.5 13.3h-13z"/><path d="M812 453.3l6.5 13.3h-13z"/><path d="M815.8 456.3l6.5 13.3h-13z"/><path d="M819.5 461.8l6.5 13.3h-13z"/><path d="M823.2 455.9l6.5 13.3h-13z"/><path d="M826.8 464.7l6.5 13.3h-13z"/><path d="M830.4 460.9l6.5 13.3h-13z"/><path d="M834 461l6.5 13.3h-13z"/><path d="M837.5 469.2l6.5 13.3h-13z"/><path d="M841 467.1l6.5 13.3h-13z"/><path d="M844.4 466.3l6.5 13.3h-13z"/><path d="M847.9 471.5l6.5 13.3h-13z"/><path d="M851.2 477.8l6.5 13.3h-13z"/><path d="M854.6 481.1l6.5 13.3h-13z"/><path d="M857.9 479.1l6.5 13.3h-13z"/><path d="M861.2 484.5l6.5 13.3h-13z"/><path d="M864.4 488.2l6.5 13.3h-13z"/><path d="M867.6 486.9l6.5 13.3h-13z"/><path d="M870.8 492.7l6.5 13.3h-13z"/><path d="M874 494.6l6.5 13.3h-13z"/><path d="M877.1 496.1l6.5 13.3h-13z"/><path d="M880.2 499.3l6.5 13.3h-13z"/><path d="M883.3 504.2l6.5 13.3h-13z"/><path d="M886.3 507.1l6.5 13.3h-13z"/><path d="M889.3 508.2l6.5 13.3h-13z"/><path d="M892.3 511.6l6.5 13.3h-13z"/><path d="M895.3 519.7l6.5 13.3h-13z"/><path d="M898.2 519.6l6.5 13.3h-13z"/><path d="M901.1 524.8l6.5 13.3h-13z"/><path d="M904 528.8l6.5 13.3h-13z"/><path d="M906.8 529.6l6.5 13.3h-13z"/><path d="M909.7 538.2l6.5 13.3h-13z"/><path d="M912.5 530.3l6.5 13.3h-13z"/><path d="M915.3 538.8l6.5 13.3h-13z"/><path d="M918 538.3l6.5 13.3h-13z"/><path d="M920.8 549.5l6.5 13.3h-13z"/><path d="M923.5 552.5l6.5 13.3h-13z"/><path d="M926.2 542.7l6.5 13.3h-13z"/><path d="M928.9 549.7l6.5 13.3h-13z"/><path d="M931.5 559.4l6.5 13.3h-13z"/><path d="M934.1 563.8l6.5 13.3h-13z"/><path d="M936.8 567.6l6.5 13.3h-13z"/><path d="M939.3 568.4l6.5 13.3h-13z"/><path d="M941.9 574.3l6.5 13.3h-13z"/><path d="M944.5 578.9l6.5 13.3h-13z"/><path d="M947 579.9l6.5 13.3h-13z"/><path d="M949.5 587.9l6.5 13.3h-13z"/><path d="M952 578.2l6.5 13.3h-13z"/><path d="M954.5 592.3l6.5 13.3h-13z"/><path d="M956.9 588.6l6.5 13.3h-13z"/><path d="M959.4 599.3l6.5 13.3h-13z"/><path d="M961.8 597.3l6.5 13.3h-13z"/><path d="M964.2 597.4l6.5 13.3h-13z"/><path d="M966.6 605.3l6.5 13.3h-13z"/><path d="M969 602.8l6.5 13.3h-13z"/><path d="M971.3 605l6.5 13.3h-13z"/><path d="M973.6 604.3l6.5 13.3h-13z"/><path d="M976 612.5l6.5 13.3h-13z"/><path d="M978.3 616.6l6.5 13.3h-13z"/><path d="M980.6 620.8l6.5 13.3h-13z"/><path d="M982.8 617.8l6.5 13.3h-13z"/><path d="M985.1 624.7l6.5 13.3h-13z"/><path d="M987.3 622.2l6.5 13.3h-13z"/><path d="M989.5 623.6l6.5 13.3h-13z"/><path d="M991.8 628.3l6.5 13.3h-13z"/><path d="M994 632.2l6.5 13.3h-13z"/><path d="M996.1 628l6.5 13.3h-13z"/><path d="M998.3 630.2l6.5 13.3h-13z"/><path d="M1000.5 632.3l6.5 13.3h-13z"/><path d="M1002.6 635l6.5 13.3h-13z"/><path d="M1004.7 632.3l6.5 13.3h-13z"/><path d="M1006.8 642.5l6.5 13.3h-13z"/><path d="M1008.9 637.7l6.5 13.3h-13z"/><path d="M1011 643.2l6.5 13.3h-13z"/><path d="M1013.1 639l6.5 13.3h-13z"/><path d="M1015.2 646l6.5 13.3h-13z"/><path d="M1017.2 647.7l6.5 13.3h-13z"/><path d="M1019.3 645.5l6.5 13.3h-13z"/><path d="M1021.3 658.4l6.5 13.3h-13z"/><path d="M1023.3 652.3l6.5 13.3h-13z"/><path d="M1025.3 660.5l6.5 13.3h-13z"/><path d="M1027.3 658.2l6.5 13.3h-13z"/><path d="M1029.2 651.9l6.5 13.3h-13z"/><path d="M1031.2 654.7l6.5 13.3h-13z"/><path d="M1033.2 660.1l6.5 13.3h-13z"/><path d="M1035.1 659.7l6.5 13.3h-13z"/><path d="M1037 661.1l6.5 13.3h-13z"/><path d="M1039 660.8l6.5 13.3h-13z"/><path d="M1040.9 654.7l6.5 13.3h-13z"/><path d="M1042.8 663.9l6.5 13.3h-13z"/><path d="M1044.6 655.4l6.5 13.3h-13z"/><path d="M1046.5 669.7l6.5 13.3h-13z"/><path d="M1048.4 665.5l6.5 13.3h-13z"/><path d="M1050.2 666.9l6.5 13.3h-13z"/><path d="M1052.1 670.8l6.5 13.3h-13z"/><path d="M1053.9 674.6l6.5 13.3h-13z"/><path d="M1055.7 667.2l6.5 13.3h-13z"/><path d="M1057.6 666.9l6.5 13.3h-13z"/><path d="M1059.4 671.7l6.5 13.3h-13z"/><path d="M1061.2 667.8l6.5 13.3h-13z"/><path d="M1062.9 674.6l6.5 13.3h-13z"/><path d="M1064.7 689.2l6.5 13.3h-13z"/><path d="M1066.5 676.4l6.5 13.3h-13z"/><path d="M1068.2 686.6l6.5 13.3h-13z"/><path d="M1070 677l6.5 13.3h-13z"/><path d="M1071.7 687.1l6.5 13.3h-13z"/><path d="M1073.5 684.9l6.5 13.3h-13z"/><path d="M1075.2 687.5l6.5 13.3h-13z"/><path d="M1076.9 692l6.5 13.3h-13z"/><path d="M1078.6 699.7l6.5 13.3h-13z"/><path d="M1080.3 692.3l6.5 13.3h-13z"/><path d="M1082 693l6.5 13.3h-13z"/><path d="M1083.6 688.1l6.5 13.3h-13z"/><path d="M1085.3 697.8l6.5 13.3h-13z"/><path d="M1087 694.3l6.5 13.3h-13z"/><path d="M1088.6 701.4l6.5 13.3h-13z"/><path d="M1090.3 697.6l6.5 13.3h-13z"/><path d="M1091.9 708.5l6.5 13.3h-13z"/><path d="M1093.5 688.2l6.5 13.3h-13z"/><path d="M1095.2 698.6l6.5 13.3h-13z"/><path d="M1096.8 706.1l6.5 13.3h-13z"/><path d="M1098.4 699.9l6.5 13.3h-13z"/><path d="M1100 698.1l6.5 13.3h-13z"/><path d="M1101.6 701.9l6.5 13.3h-13z"/><path d="M1103.1 696.3l6.5 13.3h-13z"/><path d="M1104.7 705.7l6.5 13.3h-13z"/><path d="M1106.3 720.1l6.5 13.3h-13z"/><path d="M1107.8 713.3l6.5 13.3h-13z"/><path d="M1109.4 700.9l6.5 13.3h-13z"/><path d="M1110.9 703l6.5 13.3h-13z"/><path d="M1112.5 706.5l6.5 13.3h-13z"/><path d="M1114 715.7l6.5 13.3h-13z"/><path d="M1115.5 705.5l6.5 13.3h-13z"/><path d="M1117 707.1l6.5 13.3h-13z"/><path d="M1118.6 717.3l6.5 13.3h-13z"/><path d="M1120.1 717.9l6.5 13.3h-13z"/><path d="M1121.5 711.2l6.5 13.3h-13z"/><path d="M1123 707.4l6.5 13.3h-13z"/><path d="M1124.5 705.5l6.5 13.3h-13z"/><path d="M1126 711.4l6.5 13.3h-13z"/><path d="M1127.5 702.7l6.5 13.3h-13z"/><path d="M1128.9 721.8l6.5 13.3h-13z"/><path d="M1130.4 714l6.5 13.3h-13z"/><path d="M1131.8 721.6l6.5 13.3h-13z"/><path d="M1133.3 730.9l6.5 13.3h-13z"/><path d="M1134.7 727.4l6.5 13.3h-13z"/><path d="M1136.2 713.6l6.5 13.3h-13z"/><path d="M1137.6 726.9l6.5 13.3h-13z"/><path d="M1139 729.5l6.5 13.3h-13z"/><path d="M1140.4 718.2l6.5 13.3h-13z"/><path d="M1141.8 717.6l6.5 13.3h-13z"/><path d="M1143.2 723.6l6.5 13.3h-13z"/><path d="M1144.6 714.8l6.5 13.3h-13z"/><path d="M1146 735.1l6.5 13.3h-13z"/><path d="M1147.4 711l6.5 13.3h-13z"/><path d="M1148.8 720l6.5 13.3h-13z"/><path d="M1150.1 726l6.5 13.3h-13z"/><path d="M1151.5 726.8l6.5 13.3h-13z"/><path d="M1152.9 729.8l6.5 13.3h-13z"/><path d="M1154.2 731l6.5 13.3h-13z"/><path d="M1155.6 728.3l6.5 13.3h-13z"/><path d="M1156.9 737.7l6.5 13.3h-13z"/><path d="M1158.3 716.7l6.5 13.3h-13z"/><path d="M1159.6 731.2l6.5 13.3h-13z"/><path d="M1160.9 727l6.5 13.3h-13z"/><path d="M1162.2 733.1l6.5 13.3h-13z"/><path d="M1163.6 734.1l6.5 13.3h-13z"/><path d="M1164.9 727.1l6.5 13.3h-13z"/><path d="M1166.2 729.3l6.5 13.3h-13z"/><path d="M1167.5 739.4l6.5 13.3h-13z"/><path d="M1168.8 736.9l6.5 13.3h-13z"/><path d="M1170.1 730.5l6.5 13.3h-13z"/><path d="M1171.4 749.3l6.5 13.3h-13z"/><path d="M1172.7 751.6l6.5 13.3h-13z"/><path d="M1173.9 726.6l6.5 13.3h-13z"/><path d="M1175.2 739l6.5 13.3h-13z"/><path d="M1176.5 754.5l6.5 13.3h-13z"/><path d="M1177.7 743.2l6.5 13.3h-13z"/><path d="M1179 739.8l6.5 13.3h-13z"/><path d="M1180.2 737.4l6.5 13.3h-13z"/><path d="M1181.5 735.5l6.5 13.3h-13z"/><path d="M1182.7 738.2l6.5 13.3h-13z"/><path d="M1184 736.4l6.5 13.3h-13z"/><path d="M1185.2 745.8l6.5 13.3h-13z"/><path d="M1186.4 738.3l6.5 13.3h-13z"/><path d="M1187.7 738.5l6.5 13.3h-13z"/><path d="M1188.9 733.6l6.5 13.3h-13z"/><path d="M1190.1 742.1l6.5 13.3h-13z"/><path d="M1191.3 736.7l6.5 13.3h-13z"/><path d="M1192.5 742.1l6.5 13.3h-13z"/><path d="M1193.7 751.2l6.5 13.3h-13z"/><path d="M1194.9 746.9l6.5 13.3h-13z"/><path d="M1196.1 748.3l6.5 13.3h-13z"/><path d="M1197.3 747.7l6.5 13.3h-13z"/><path d="M1198.5 746l6.5 13.3h-13z"/><path d="M1199.7 745.2l6.5 13.3h-13z"/><path d="M1200.9 744.3l6.5 13.3h-13z"/><path d="M1202 752.4l6.5 13.3h-13z"/><path d="M1203.2 739.6l6.5 13.3h-13z"/><path d="M1204.4 757.4l6.5 13.3h-13z"/><path d="M1205.5 748.3l6.5 13.3h-13z"/><path d="M1206.7 742.9l6.5 13.3h-13z"/><path d="M1207.9 745l6.5 13.3h-13z"/><path d="M1209 743.9l6.5 13.3h-13z"/><path d="M1210.2 750.2l6.5 13.3h-13z"/><path d="M1211.3 744.1l6.5 13.3h-13z"/><path d="M1212.4 757.9l6.5 13.3h-13z"/><path d="M1213.6 744.1l6.5 13.3h-13z"/><path d="M1214.7 733.4l6.5 13.3h-13z"/><path d="M1215.8 745l6.5 13.3h-13z"/><path d="M1216.9 735.8l6.5 13.3h-13z"/><path d="M1218.1 750.6l6.5 13.3h-13z"/><path d="M1219.2 758.9l6.5 13.3h-13z"/><path d="M1220.3 756.1l6.5 13.3h-13z"/><path d="M1221.4 741.7l6.5 13.3h-13z"/><path d="M1222.5 746.2l6.5 13.3h-13z"/><path d="M1223.6 765.4l6.5 13.3h-13z"/><path d="M1224.7 754.7l6.5 13.3h-13z"/><path d="M1225.8 752.6l6.5 13.3h-13z"/><path d="M1226.9 760.8l6.5 13.3h-13z"/><path d="M1228 771.5l6.5 13.3h-13z"/><path d="M1229.1 763.1l6.5 13.3h-13z"/><path d="M1230.1 754.6l6.5 13.3h-13z"/><path d="M1231.2 756.5l6.5 13.3h-13z"/><path d="M1232.3 758.7l6.5 13.3h-13z"/><path d="M1233.3 749.6l6.5 13.3h-13z"/><path d="M1234.4 746.5l6.5 13.3h-13z"/><path d="M1235.5 755.2l6.5 13.3h-13z"/><path d="M1236.5 747.8l6.5 13.3h-13z"/><path d="M1237.6 754.8l6.5 13.3h-13z"/><path d="M1238.6 756.2l6.5 13.3h-13z"/><path d="M1239.7 773.7l6.5 13.3h-13z"/><path d="M1240.7 749.4l6.5 13.3h-13z"/><path d="M1241.8 755.2l6.5 13.3h-13z"/><path d="M1242.8 755.1l6.5 13.3h-13z"/><path d="M1243.8 760l6.5 13.3h-13z"/><path d="M1244.9 764.9l6.5 13.3h-13z"/><path d="M1245.9 753.2l6.5 13.3h-13z"/><path d="M1246.9 750.7l6.5 13.3h-13z"/><path d="M1248 744.5l6.5 13.3h-13z"/><path d="M1249 750.2l6.5 13.3h-13z"/><path d="M1250 761.8l6.5 13.3h-13z"/><path d="M1251 758.1l6.5 13.3h-13z"/><path d="M1252 749.9l6.5 13.3h-13z"/><path d="M1253 755.1l6.5 13.3h-13z"/><path d="M1254 758.4l6.5 13.3h-13z"/><path d="M1255 762.3l6.5 13.3h-13z"/><path d="M1256 753.8l6.5 13.3h-13z"/><path d="M1257 756.7l6.5 13.3h-13z"/><path d="M1258 744.4l6.5 13.3h-13z"/><path d="M1259 749.8l6.5 13.3h-13z"/><path d="M1260 772l6.5 13.3h-13z"/><path d="M1261 741.8l6.5 13.3h-13z"/><path d="M1262 756.7l6.5 13.3h-13z"/><path d="M1262.9 761.3l6.5 13.3h-13z"/><path d="M1263.9 756.7l6.5 13.3h-13z"/><path d="M1264.9 753.3l6.5 13.3h-13z"/><path d="M1265.9 759.5l6.5 13.3h-13z"/><path d="M1266.8 760.1l6.5 13.3h-13z"/><path d="M1267.8 759.6l6.5 13.3h-13z"/><path d="M1268.7 745.2l6.5 13.3h-13z"/><path d="M1269.7 759.3l6.5 13.3h-13z"/><path d="M1270.7 753.8l6.5 13.3h-13z"/><path d="M1271.6 756.4l6.5 13.3h-13z"/><path d="M1272.6 762.8l6.5 13.3h-13z"/><path d="M1273.5 766.3l6.5 13.3h-13z"/><path d="M1274.4 768.6l6.5 13.3h-13z"/><path d="M1275.4 757.3l6.5 13.3h-13z"/><path d="M1276.3 769.1l6.5 13.3h-13z"/><path d="M1277.3 771.3l6.5 13.3h-13z"/><path d="M1278.2 771.1l6.5 13.3h-13z"/><path d="M1279.1 773.4l6.5 13.3h-13z"/><path d="M1280.1 760.9l6.5 13.3h-13z"/><path d="M1281 760.8l6.5 13.3h-13z"/><path d="M1281.9 769.2l6.5 13.3h-13z"/><path d="M1282.8 751.2l6.5 13.3h-13z"/><path d="M1283.7 764.4l6.5 13.3h-13z"/><path d="M1284.7 758.4l6.5 13.3h-13z"/><path d="M1285.6 759.8l6.5 13.3h-13z"/><path d="M1286.5 748.5l6.5 13.3h-13z"/><path d="M1287.4 755.7l6.5 13.3h-13z"/><path d="M1288.3 763.1l6.5 13.3h-13z"/><path d="M1289.2 770.8l6.5 13.3h-13z"/><path d="M1290.1 771.8l6.5 13.3h-13z"/><path d="M1291 762.9l6.5 13.3h-13z"/><path d="M1291.9 762.1l6.5 13.3h-13z"/><path d="M1292.8 756.8l6.5 13.3h-13z"/><path d="M1293.7 767.3l6.5 13.3h-13z"/><path d="M1294.6 762l6.5 13.3h-13z"/><path d="M1295.5 769.3l6.5 13.3h-13z"/><path d="M1296.3 779.1l6.5 13.3h-13z"/><path d="M1297.2 764.1l6.5 13.3h-13z"/><path d="M1298.1 751.8l6.5 13.3h-13z"/><path d="M1299 757.3l6.5 13.3h-13z"/><path d="M1299.9 752.3l6.5 13.3h-13z"/><path d="M1300.7 754.6l6.5 13.3h-13z"/><path d="M1301.6 776.1l6.5 13.3h-13z"/><path d="M1302.5 767l6.5 13.3h-13z"/><path d="M1303.3 752.2l6.5 13.3h-13z"/><path d="M1304.2 770.9l6.5 13.3h-13z"/><path d="M1305.1 776.2l6.5 13.3h-13z"/><path d="M1305.9 762.4l6.5 13.3h-13z"/><path d="M1306.8 759.8l6.5 13.3h-13z"/><path d="M1307.6 762.8l6.5 13.3h-13z"/><path d="M1308.5 768.3l6.5 13.3h-13z"/><path d="M1309.3 771.5l6.5 13.3h-13z"/><path d="M1310.2 776.3l6.5 13.3h-13z"/><path d="M1311 776.6l6.5 13.3h-13z"/><path d="M1311.9 776.5l6.5 13.3h-13z"/><path d="M1312.7 778.2l6.5 13.3h-13z"/><path d="M1313.6 772.2l6.5 13.3h-13z"/><path d="M1314.4 753.3l6.5 13.3h-13z"/><path d="M1315.2 765.5l6.5 13.3h-13z"/><path d="M1316.1 769.5l6.5 13.3h-13z"/><path d="M1316.9 763.6l6.5 13.3h-13z"/><path d="M1317.7 775l6.5 13.3h-13z"/><path d="M1318.5 764l6.5 13.3h-13z"/><path d="M1319.4 759.1l6.5 13.3h-13z"/><path d="M1320.2 780l6.5 13.3h-13z"/><path d="M1321 773.3l6.5 13.3h-13z"/><path d="M1321.8 769.5l6.5 13.3h-13z"/><path d="M1322.7 775.8l6.5 13.3h-13z"/><path d="M1323.5 777.1l6.5 13.3h-13z"/><path d="M1324.3 770.8l6.5 13.3h-13z"/><path d="M1325.1 746.1l6.5 13.3h-13z"/><path d="M1325.9 762l6.5 13.3h-13z"/><path d="M1326.7 764l6.5 13.3h-13z"/><path d="M1327.5 759.4l6.5 13.3h-13z"/><path d="M1328.3 770l6.5 13.3h-13z"/><path d="M1329.1 778.9l6.5 13.3h-13z"/><path d="M1329.9 764.1l6.5 13.3h-13z"/><path d="M1330.7 758.3l6.5 13.3h-13z"/><path d="M1331.5 786.7l6.5 13.3h-13z"/><path d="M1332.3 764.6l6.5 13.3h-13z"/><path d="M1333.1 757.6l6.5 13.3h-13z"/><path d="M1333.9 770.9l6.5 13.3h-13z"/><path d="M1334.7 772.7l6.5 13.3h-13z"/><path d="M1335.5 762.6l6.5 13.3h-13z"/><path d="M1336.2 776.1l6.5 13.3h-13z"/><path d="M1337 764.7l6.5 13.3h-13z"/><path d="M1337.8 760.8l6.5 13.3h-13z"/><path d="M1338.6 770.9l6.5 13.3h-13z"/><path d="M1339.4 776.3l6.5 13.3h-13z"/><path d="M1340.1 763.7l6.5 13.3h-13z"/><path d="M1340.9 772.5l6.5 13.3h-13z"/><path d="M1341.7 768.7l6.5 13.3h-13z"/><path d="M1342.5 795.3l6.5 13.3h-13z"/><path d="M1343.2 763.3l6.5 13.3h-13z"/><path d="M1344 782.4l6.5 13.3h-13z"/><path d="M1344.8 769.4l6.5 13.3h-13z"/><path d="M1345.5 768.8l6.5 13.3h-13z"/><path d="M1346.3 776.6l6.5 13.3h-13z"/><path d="M1347 778.3l6.5 13.3h-13z"/><path d="M1347.8 781.8l6.5 13.3h-13z"/><path d="M1348.5 773.3l6.5 13.3h-13z"/><path d="M1349.3 764.8l6.5 13.3h-13z"/><path d="M1350.1 765.4l6.5 13.3h-13z"/><path d="M1350.8 775.2l6.5 13.3h-13z"/><path d="M1351.6 775.9l6.5 13.3h-13z"/><path d="M1352.3 783.5l6.5 13.3h-13z"/><path d="M1353 774.6l6.5 13.3h-13z"/><path d="M1353.8 780.6l6.5 13.3h-13z"/><path d="M1354.5 784.9l6.5 13.3h-13z"/><path d="M1355.3 772.4l6.5 13.3h-13z"/><path d="M1356 757.2l6.5 13.3h-13z"/><path d="M1356.7 760.1l6.5 13.3h-13z"/><path d="M1357.5 757.8l6.5 13.3h-13z"/><path d="M1358.2 786l6.5 13.3h-13z"/><path d="M1359 763.4l6.5 13.3h-13z"/><path d="M1359.7 782.8l6.5 13.3h-13z"/><path d="M1360.4 776.9l6.5 13.3h-13z"/><path d="M1361.1 787.5l6.5 13.3h-13z"/><path d="M1361.9 781l6.5 13.3h-13z"/><path d="M1362.6 770.7l6.5 13.3h-13z"/></g>
<g stroke="#f0f"><path d="M237.7 119.8h14.3l-7.2 12.8z"/><path d="M257.9 119.8h14.3l-7.2 12.8z"/><path d="M276.9 127.3h14.3l-7.2 12.8z"/><path d="M294.9 141.2h14.3l-7.2 12.8z"/><path d="M311.9 149.9h14.3l-7.2 12.8z"/><path d="M328.2 161.8h14.3l-7.2 12.8z"/><path d="M343.6 172.6h14.3l-7.2 12.8z"/><path d="M358.4 176.2h14.3l-7.2 12.8z"/><path d="M372.6 176.8h14.3l-7.2 12.8z"/><path d="M386.1 183.7h14.3l-7.2 12.8z"/><path d="M399.2 196.6h14.3l-7.2 12.8z"/><path d="M411.7 207.2h14.3l-7.2 12.8z"/><path d="M423.8 207.1h14.3l-7.2 12.8z"/><path d="M435.5 203.8h14.3l-7.2 12.8z"/><path d="M446.8 207.3h14.3l-7.2 12.8z"/><path d="M457.7 215.4h14.3l-7.2 12.8z"/><path d="M468.3 220.8h14.3l-7.2 12.8z"/><path d="M478.5 225.6h14.3l-7.2 12.8z"/><path d="M488.4 226.6h14.3l-7.2 12.8z"/><path d="M498.1 230.9h14.3l-7.2 12.8z"/><path d="M507.4 236.9h14.3l-7.2 12.8z"/><path d="M516.6 241.7h14.3l-7.2 12.8z"/><path d="M525.4 244.9h14.3l-7.2 12.8z"/><path d="M534.1 250.7h14.3l-7.2 12.8z"/><path d="M542.5 256.4h14.3l-7.2 12.8z"/><path d="M550.7 257.5h14.3l-7.2 12.8z"/><path d="M558.7 260.9h14.3l-7.2 12.8z"/><path d="M566.6 262.2h14.3l-7.2 12.8z"/><path d="M574.2 270.3h14.3l-7.2 12.8z"/><path d="M581.7 275.9h14.3l-7.2 12.8z"/><path d="M589 275.2h14.3l-7.2 12.8z"/><path d="M596.2 280.9h14.3l-7.2 12.8z"/><path d="M603.2 285.2h14.3l-7.2 12.8z"/><path d="M610 290h14.3l-7.2 12.8z"/><path d="M616.7 292h14.3l-7.2 12.8z"/><path d="M623.3 296.3h14.3l-7.2 12.8z"/><path d="M629.8 297.9h14.3l-7.2 12.8z"/><path d="M636.1 305.8h14.3l-7.2 12.8z"/><path d="M642.4 309.5h14.3l-7.2 12.8z"/><path d="M648.5 309.6h14.3l-7.2 12.8z"/><path d="M654.5 312.1h14.3l-7.2 12.8z"/><path d="M660.3 312.7h14.3l-7.2 12.8z"/><path d="M666.1 319.6h14.3l-7.2 12.8z"/><path d="M671.8 325.4h14.3l-7.2 12.8z"/><path d="M677.4 325.2h14.3l-7.2 12.8z"/><path d="M682.9 328.9h14.3l-7.2 12.8z"/><path d="M688.3 330.5h14.3l-7.2 12.8z"/><path d="M693.7 331.1h14.3l-7.2 12.8z"/><path d="M698.9 338.1h14.3l-7.2 12.8z"/><path d="M704.1 337.1h14.3l-7.2 12.8z"/><path d="M709.1 341.9h14.3l-7.2 12.8z"/><path d="M714.1 346.3h14.3l-7.2 12.8z"/><path d="M719.1 351.4h14.3l-7.2 12.8z"/><path d="M723.9 354.7h14.3l-7.2 12.8z"/><path d="M728.7 358h14.3l-7.2 12.8z"/><path d="M733.4 358.6h14.3l-7.2 12.8z"/><path d="M738.1 360.2h14.3l-7.2 12.8z"/><path d="M742.7 364.6h14.3l-7.2 12.8z"/><path d="M747.2 365.7h14.3l-7.2 12.8z"/><path d="M751.7 366.9h14.3l-7.2 12.8z"/><path d="M756.1 369.2h14.3l-7.2 12.8z"/><path d="M760.4 372.6h14.3l-7.2 12.8z"/><path d="M764.7 373.5h14.3l-7.2 12.8z"/><path d="M769 379.1h14.3l-7.2 12.8z"/><path d="M773.2 383.4h14.3l-7.2 12.8z"/><path d="M777.3 391h14.3l-7.2 12.8z"/><path d="M781.4 395.9h14.3l-7.2 12.8z"/><path d="M785.4 402.7h14.3l-7.2 12.8z"/><path d="M789.4 400.7h14.3l-7.2 12.8z"/><path d="M793.3 406h14.3l-7.2 12.8z"/><path d="M797.2 413.9h14.3l-7.2 12.8z"/><path d="M801.1 417.4h14.3l-7.2 12.8z"/><path d="M804.9 422.4h14.3l-7.2 12.8z"/><path d="M808.6 430.9h14.3l-7.2 12.8z"/><path d="M812.4 431h14.3l-7.2 12.8z"/><path d="M816 433h14.3l-7.2 12.8z"/><path d="M819.7 436.1h14.3l-7.2 12.8z"/><path d="M823.3 442h14.3l-7.2 12.8z"/><path d="M826.8 445.2h14.3l-7.2 12.8z"/><path d="M830.4 445.7h14.3l-7.2 12.8z"/><path d="M833.8 449.4h14.3l-7.2 12.8z"/><path d="M837.3 454.4h14.3l-7.2 12.8z"/><path d="M840.7 457h14.3l-7.2 12.8z"/><path d="M844.1 457.6h14.3l-7.2 12.8z"/><path d="M847.4 462.2h14.3l-7.2 12.8z"/><path d="M850.7 464.6h14.3l-7.2 12.8z"/><path d="M854 463.1h14.3l-7.2 12.8z"/><path d="M857.3 468h14.3l-7.2 12.8z"/><path d="M860.5 471.7h14.3l-7.2 12.8z"/><path d="M863.7 472.4h14.3l-7.2 12.8z"/><path d="M866.8 473.4h14.3l-7.2 12.8z"/><path d="M870 480.8h14.3l-7.2 12.8z"/><path d="M873.1 486.7h14.3l-7.2 12.8z"/><path d="M876.1 492.3h14.3l-7.2 12.8z"/><path d="M879.2 489.6h14.3l-7.2 12.8z"/><path d="M882.2 502.3h14.3l-7.2 12.8z"/><path d="M885.2 499h14.3l-7.2 12.8z"/><path d="M888.1 506.2h14.3l-7.2 12.8z"/><path d="M891 510.1h14.3l-7.2 12.8z"/><path d="M894 513h14.3l-7.2 12.8z"/><path d="M896.8 514.7h14.3l-7.2 12.8z"/><path d="M899.7 515.6h14.3l-7.2 12.8z"/><path d="M902.5 522.5h14.3l-7.2 12.8z"/><path d="M905.3 523.2h14.3l-7.2 12.8z"/><path d="M908.1 523h14.3l-7.2 12.8z"/><path d="M910.9 536.9h14.3l-7.2 12.8z"/><path d="M913.6 536h14.3l-7.2 12.8z"/><path d="M916.3 541.5h14.3l-7.2 12.8z"/><path d="M919 538.7h14.3l-7.2 12.8z"/><path d="M921.7 546.2h14.3l-7.2 12.8z"/><path d="M924.4 549.1h14.3l-7.2 12.8z"/><path d="M927 551.7h14.3l-7.2 12.8z"/><path d="M929.6 551h14.3l-7.2 12.8z"/><path d="M932.2 551.1h14.3l-7.2 12.8z"/><path d="M934.8 555.9h14.3l-7.2 12.8z"/><path d="M937.3 554.1h14.3l-7.2 12.8z"/><path d="M939.8 557.7h14.3l-7.2 12.8z"/><path d="M942.4 564h14.3l-7.2 12.8z"/><path d="M944.9 564.2h14.3l-7.2 12.8z"/><path d="M947.3 568.5h14.3l-7.2 12.8z"/><path d="M949.8 571h14.3l-7.2 12.8z"/><path d="M952.2 578h14.3l-7.2 12.8z"/><path d="M954.6 580h14.3l-7.2 12.8z"/><path d="M957 580.3h14.3l-7.2 12.8z"/><path d="M959.4 586.5h14.3l-7.2 12.8z"/><path d="M961.8 585.3h14.3l-7.2 12.8z"/><path d="M964.2 589.6h14.3l-7.2 12.8z"/><path d="M966.5 595.7h14.3l-7.2 12.8z"/><path d="M968.8 594h14.3l-7.2 12.8z"/><path d="M971.1 599.4h14.3l-7.2 12.8z"/><path d="M973.4 599.5h14.3l-7.2 12.8z"/><path d="M975.7 604.7h14.3l-7.2 12.8z"/><path d="M977.9 610.1h14.3l-7.2 12.8z"/><path d="M980.2 606.2h14.3l-7.2 12.8z"/><path d="M982.4 610.3h14.3l-7.2 12.8z"/><path d="M984.6 609.4h14.3l-7.2 12.8z"/><path d="M986.8 610.6h14.3l-7.2 12.8z"/><path d="M989 612.1h14.3l-7.2 12.8z"/><path d="M991.2 620.4h14.3l-7.2 12.8z"/><path d="M993.3 624.6h14.3l-7.2 12.8z"/><path d="M995.5 622.2h14.3l-7.2 12.8z"/><path d="M997.6 621.4h14.3l-7.2 12.8z"/><path d="M999.7 627.1h14.3l-7.2 12.8z"/><path d="M1001.8 624.9h14.3l-7.2 12.8z"/><path d="M1003.9 628h14.3l-7.2 12.8z"/><path d="M1006 626.9h14.3l-7.2 12.8z"/><path d="M1008 627.1h14.3l-7.2 12.8z"/><path d="M1010.1 628.2h14.3l-7.2 12.8z"/><path d="M1012.1 625.3h14.3l-7.2 12.8z"/><path d="M1014.1 626h14.3l-7.2 12.8z"/><path d="M1016.1 624.8h14.3l-7.2 12.8z"/><path d="M1018.1 630.6h14.3l-7.2 12.8z"/><path d="M1020.1 630.3h14.3l-7.2 12.8z"/><path d="M1022.1 636.1h14.3l-7.2 12.8z"/><path d="M1024.1 636.3h14.3l-7.2 12.8z"/><path d="M1026 641.5h14.3l-7.2 12.8z"/><path d="M1028 644.8h14.3l-7.2 12.8z"/><path d="M1029.9 642h14.3l-7.2 12.8z"/><path d="M1031.8 645.9h14.3l-7.2 12.8z"/><path d="M1033.7 647.8h14.3l-7.2 12.8z"/><path d="M1035.6 654.8h14.3l-7.2 12.8z"/><path d="M1037.5 659.7h14.3l-7.2 12.8z"/><path d="M1039.4 659.6h14.3l-7.2 12.8z"/><path d="M1041.2 658.4h14.3l-7.2 12.8z"/><path d="M1043.1 665.7h14.3l-7.2 12.8z"/><path d="M1044.9 658.7h14.3l-7.2 12.8z"/><path d="M1046.8 668.7h14.3l-7.2 12.8z"/><path d="M1048.6 664h14.3l-7.2 12.8z"/><path d="M1050.4 659.3h14.3l-7.2 12.8z"/><path d="M1052.2 676.5h14.3l-7.2 12.8z"/><path d="M1054 674.8h14.3l-7.2 12.8z"/><path d="M1055.8 668.6h14.3l-7.2 12.8z"/><path d="M1057.6 673.5h14.3l-7.2 12.8z"/><path d="M1059.3 673.6h14.3l-7.2 12.8z"/><path d="M1061.1 675.8h14.3l-7.2 12.8z"/><path d="M1062.8 672.2h14.3l-7.2 12.8z"/><path d="M1064.6 675.9h14.3l-7.2 12.8z"/><path d="M1066.3 680.5h14.3l-7.2 12.8z"/><path d="M1068 681h14.3l-7.2 12.8z"/><path d="M1069.7 685.2h14.3l-7.2 12.8z"/><path d="M1071.4 682.9h14.3l-7.2 12.8z"/><path d="M1073.1 690.5h14.3l-7.2 12.8z"/><path d="M1074.8 681.8h14.3l-7.2 12.8z"/><path d="M1076.5 685.5h14.3l-7.2 12.8z"/><path d="M1078.2 679.4h14.3l-7.2 12.8z"/><path d="M1079.8 682.1h14.3l-7.2 12.8z"/><path d="M1081.5 690.8h14.3l-7.2 12.8z"/><path d="M1083.1 684.3h14.3l-7.2 12.8z"/><path d="M1084.8 689.6h14.3l-7.2 12.8z"/><path d="M1086.4 688.3h14.3l-7.2 12.8z"/><path d="M1088 685.6h14.3l-7.2 12.8z"/><path d="M1089.6 688.3h14.3l-7.2 12.8z"/><path d="M1091.2 688.2h14.3l-7.2 12.8z"/><path d="M1092.8 688.7h14.3l-7.2 12.8z"/><path d="M1094.4 693.1h14.3l-7.2 12.8z"/><path d="M1096 693.2h14.3l-7.2 12.8z"/><path d="M1097.6 689.7h14.3l-7.2 12.8z"/><path d="M1099.1 689h14.3l-7.2 12.8z"/><path d="M1100.7 693.3h14.3l-7.2 12.8z"/><path d="M1102.2 693h14.3l-7.2 12.8z"/><path d="M1103.8 697.9h14.3l-7.2 12.8z"/><path d="M1105.3 704.5h14.3l-7.2 12.8z"/><path d="M1106.9 699.6h14.3l-7.2 12.8z"/><path d="M1108.4 697.8h14.3l-7.2 12.8z"/><path d="M1109.9 698.5h14.3l-7.2 12.8z"/><path d="M1111.4 697.3h14.3l-7.2 12.8z"/><path d="M1112.9 698.3h14.3l-7.2 12.8z"/><path d="M1114.4 699.1h14.3l-7.2 12.8z"/><path d="M1115.9 702.3h14.3l-7.2 12.8z"/><path d="M1117.4 703.2h14.3l-7.2 12.8z"/><path d="M1118.8 708.3h14.3l-7.2 12.8z"/><path d="M1120.3 705.4h14.3l-7.2 12.8z"/><path d="M1121.8 707.1h14.3l-7.2 12.8z"/><path d="M1123.2 704.6h14.3l-7.2 12.8z"/><path d="M1124.7 715.5h14.3l-7.2 12.8z"/><path d="M1126.1 712.6h14.3l-7.2 12.8z"/><path d="M1127.6 718.1h14.3l-7.2 12.8z"/><path d="M1129 715.6h14.3l-7.2 12.8z"/><path d="M1130.4 719.1h14.3l-7.2 12.8z"/><path d="M1131.8 713.9h14.3l-7.2 12.8z"/><path d="M1133.3 718.3h14.3l-7.2 12.8z"/><path d="M1134.7 726.4h14.3l-7.2 12.8z"/><path d="M1136.1 713.4h14.3l-7.2 12.8z"/><path d="M1137.5 722.9h14.3l-7.2 12.8z"/><path d="M1138.9 725.8h14.3l-7.2 12.8z"/><path d="M1140.2 722.2h14.3l-7.2 12.8z"/><path d="M1141.6 724.4h14.3l-7.2 12.8z"/><path d="M1143 727.1h14.3l-7.2 12.8z"/><path d="M1144.4 720.8h14.3l-7.2 12.8z"/><path d="M1145.7 725.4h14.3l-7.2 12.8z"/><path d="M1147.1 721.3h14.3l-7.2 12.8z"/><path d="M1148.4 722.7h14.3l-7.2 12.8z"/><path d="M1149.8 723.5h14.3l-7.2 12.8z"/><path d="M1151.1 726h14.3l-7.2 12.8z"/><path d="M1152.4 727.7h14.3l-7.2 12.8z"/><path d="M1153.8 729.5h14.3l-7.2 12.8z"/><path d="M1155.1 723.1h14.3l-7.2 12.8z"/><path d="M1156.4 736.6h14.3l-7.2 12.8z"/><path d="M1157.7 734.2h14.3l-7.2 12.8z"/><path d="M1159 733.2h14.3l-7.2 12.8z"/><path d="M1160.3 729.7h14.3l-7.2 12.8z"/><path d="M1161.6 731.4h14.3l-7.2 12.8z"/><path d="M1162.9 734.4h14.3l-7.2 12.8z"/><path d="M1164.2 734.6h14.3l-7.2 12.8z"/><path d="M1165.5 727.1h14.3l-7.2 12.8z"/><path d="M1166.8 737.1h14.3l-7.2 12.8z"/><path d="M1168.1 746.2h14.3l-7.2 12.8z"/><path d="M1169.3 728.3h14.3l-7.2 12.8z"/><path d="M1170.6 740h14.3l-7.2 12.8z"/><path d="M1171.8 738.1h14.3l-7.2 12.8z"/><path d="M1173.1 736.6h14.3l-7.2 12.8z"/><path d="M1174.3 743h14.3l-7.2 12.8z"/><path d="M1175.6 733.3h14.3l-7.2 12.8z"/><path d="M1176.8 739.1h14.3l-7.2 12.8z"/><path d="M1178.1 744.8h14.3l-7.2 12.8z"/><path d="M1179.3 738.6h14.3l-7.2 12.8z"/><path d="M1180.5 738.2h14.3l-7.2 12.8z"/><path d="M1181.7 740.8h14.3l-7.2 12.8z"/><path d="M1183 739h14.3l-7.2 12.8z"/><path d="M1184.2 747.5h14.3l-7.2 12.8z"/><path d="M1185.4 738h14.3l-7.2 12.8z"/><path d="M1186.6 745.7h14.3l-7.2 12.8z"/><path d="M1187.8 737.5h14.3l-7.2 12.8z"/><path d="M1189 745.7h14.3l-7.2 12.8z"/><path d="M1190.2 743h14.3l-7.2 12.8z"/><path d="M1191.4 733.3h14.3l-7.2 12.8z"/><path d="M1192.5 744.3h14.3l-7.2 12.8z"/><path d="M1193.7 740.3h14.3l-7.2 12.8z"/><path d="M1194.9 743.2h14.3l-7.2 12.8z"/><path d="M1196.1 751.7h14.3l-7.2 12.8z"/><path d="M1197.2 741.1h14.3l-7.2 12.8z"/><path d="M1198.4 741.6h14.3l-7.2 12.8z"/><path d="M1199.6 752.4h14.3l-7.2 12.8z"/><path d="M1200.7 747.2h14.3l-7.2 12.8z"/><path d="M1201.9 753.5h14.3l-7.2 12.8z"/><path d="M1203 748.7h14.3l-7.2 12.8z"/><path d="M1204.1 744h14.3l-7.2 12.8z"/><path d="M1205.3 747.8h14.3l-7.2 12.8z"/><path d="M1206.4 753.5h14.3l-7.2 12.8z"/><path d="M1207.5 752.7h14.3l-7.2 12.8z"/><path d="M1208.7 749h14.3l-7.2 12.8z"/><path d="M1209.8 749.6h14.3l-7.2 12.8z"/><path d="M1210.9 749.2h14.3l-7.2 12.8z"/><path d="M1212 747.5h14.3l-7.2 12.8z"/><path d="M1213.1 758.6h14.3l-7.2 12.8z"/><path d="M1214.2 750.7h14.3l-7.2 12.8z"/><path d="M1215.4 746.1h14.3l-7.2 12.8z"/><path d="M1216.5 749.2h14.3l-7.2 12.8z"/><path d="M1217.5 754.7h14.3l-7.2 12.8z"/><path d="M1218.6 754.7h14.3l-7.2 12.8z"/><path d="M1219.7 751.7h14.3l-7.2 12.8z"/><path d="M1220.8 749.7h14.3l-7.2 12.8z"/><path d="M1221.9 753h14.3l-7.2 12.8z"/><path d="M1223 745.9h14.3l-7.2 12.8z"/><path d="M1224.1 747.8h14.3l-7.2 12.8z"/><path d="M1225.1 757.3h14.3l-7.2 12.8z"/><path d="M1226.2 752h14.3l-7.2 12.8z"/><path d="M1227.3 756h14.3l-7.2 12.8z"/><path d="M1228.3 760h14.3l-7.2 12.8z"/><path d="M1229.4 757.7h14.3l-7.2 12.8z"/><path d="M1230.4 755.2h14.3l-7.2 12.8z"/><path d="M1231.5 764.7h14.3l-7.2 12.8z"/><path d="M1232.5 758.5h14.3l-7.2 12.8z"/><path d="M1233.6 754.2h14.3l-7.2 12.8z"/><path d="M1234.6 759.3h14.3l-7.2 12.8z"/><path d="M1235.7 758.1h14.3l-7.2 12.8z"/><path d="M1236.7 752.7h14.3l-7.2 12.8z"/><path d="M1237.7 757.1h14.3l-7.2 12.8z"/><path d="M1238.8 756.2h14.3l-7.2 12.8z"/><path d="M1239.8 748.4h14.3l-7.2 12.8z"/><path d="M1240.8 756.6h14.3l-7.2 12.8z"/><path d="M1241.8 756.4h14.3l-7.2 12.8z"/><path d="M1242.8 755.9h14.3l-7.2 12.8z"/><path d="M1243.9 750.7h14.3l-7.2 12.8z"/><path d="M1244.9 756.7h14.3l-7.2 12.8z"/><path d="M1245.9 758.4h14.3l-7.2 12.8z"/><path d="M1246.9 759.2h14.3l-7.2 12.8z"/><path d="M1247.9 753.8h14.3l-7.2 12.8z"/><path d="M1248.9 762.1h14.3l-7.2 12.8z"/><path d="M1249.9 753.9h14.3l-7.2 12.8z"/><path d="M1250.9 758.6h14.3l-7.2 12.8z"/><path d="M1251.9 765.8h14.3l-7.2 12.8z"/><path d="M1252.8 756.9h14.3l-7.2 12.8z"/><path d="M1253.8 758h14.3l-7.2 12.8z"/><path d="M1254.8 765.5h14.3l-7.2 12.8z"/><path d="M1255.8 759h14.3l-7.2 12.8z"/><path d="M1256.8 759.6h14.3l-7.2 12.8z"/><path d="M1257.7 762.2h14.3l-7.2 12.8z"/><path d="M1258.7 766.3h14.3l-7.2 12.8z"/><path d="M1259.7 751.4h14.3l-7.2 12.8z"/><path d="M1260.6 758h14.3l-7.2 12.8z"/><path d="M1261.6 757.4h14.3l-7.2 12.8z"/><path d="M1262.6 757.2h14.3l-7.2 12.8z"/><path d="M1263.5 758.4h14.3l-7.2 12.8z"/><path d="M1264.5 758.6h14.3l-7.2 12.8z"/><path d="M1265.4 764.1h14.3l-7.2 12.8z"/><path d="M1266.4 758.6h14.3l-7.2 12.8z"/><path d="M1267.3 763.5h14.3l-7.2 12.8z"/><path d="M1268.2 765h14.3l-7.2 12.8z"/><path d="M1269.2 759.8h14.3l-7.2 12.8z"/><path d="M1270.1 764h14.3l-7.2 12.8z"/><path d="M1271.1 771.2h14.3l-7.2 12.8z"/><path d="M1272 765.1h14.3l-7.2 12.8z"/><path d="M1272.9 760.7h14.3l-7.2 12.8z"/><path d="M1273.8 763.6h14.3l-7.2 12.8z"/><path d="M1274.8 759.7h14.3l-7.2 12.8z"/><path d="M1275.7 765.4h14.3l-7.2 12.8z"/><path d="M1276.6 768.4h14.3l-7.2 12.8z"/><path d="M1277.5 760.5h14.3l-7.2 12.8z"/><path d="M1278.4 763.5h14.3l-7.2 12.8z"/><path d="M1279.3 770h14.3l-7.2 12.8z"/><path d="M1280.2 762.4h14.3l-7.2 12.8z"/><path d="M1281.2 765.8h14.3l-7.2 12.8z"/><path d="M1282.1 760.2h14.3l-7.2 12.8z"/><path d="M1283 761.3h14.3l-7.2 12.8z"/><path d="M1283.9 762.8h14.3l-7.2 12.8z"/><path d="M1284.8 775.7h14.3l-7.2 12.8z"/><path d="M1285.6 763.6h14.3l-7.2 12.8z"/><path d="M1286.5 763.2h14.3l-7.2 12.8z"/><path d="M1287.4 763.2h14.3l-7.2 12.8z"/><path d="M1288.3 765.2h14.3l-7.2 12.8z"/><path d="M1289.2 769.2h14.3l-7.2 12.8z"/><path d="M1290.1 767.1h14.3l-7.2 12.8z"/><path d="M1291 776.1h14.3l-7.2 12.8z"/><path d="M1291.8 767.5h14.3l-7.2 12.8z"/><path d="M1292.7 773.5h14.3l-7.2 12.8z"/><path d="M1293.6 768h14.3l-7.2 12.8z"/><path d="M1294.5 769.7h14.3l-7.2 12.8z"/><path d="M1295.3 760h14.3l-7.2 12.8z"/><path d="M1296.2 766.5h14.3l-7.2 12.8z"/><path d="M1297.1 766.9h14.3l-7.2 12.8z"/><path d="M1297.9 766.2h14.3l-7.2 12.8z"/><path d="M1298.8 757.1h14.3l-7.2 12.8z"/><path d="M1299.6 771.8h14.3l-7.2 12.8z"/><path d="M1300.5 765.8h14.3l-7.2 12.8z"/><path d="M1301.3 765.7h14.3l-7.2 12.8z"/><path d="M1302.2 766.7h14.3l-7.2 12.8z"/><path d="M1303 766.9h14.3l-7.2 12.8z"/><path d="M1303.9 770.1h14.3l-7.2 12.8z"/><path d="M1304.7 762.1h14.3l-7.2 12.8z"/><path d="M1305.6 763.8h14.3l-7.2 12.8z"/><path d="M1306.4 769.9h14.3l-7.2 12.8z"/><path d="M1307.2 769.2h14.3l-7.2 12.8z"/><path d="M1308.1 766.8h14.3l-7.2 12.8z"/><path d="M1308.9 765.9h14.3l-7.2 12.8z"/><path d="M1309.7 764.7h14.3l-7.2 12.8z"/><path d="M1310.6 768.6h14.3l-7.2 12.8z"/><path d="M1311.4 774.7h14.3l-7.2 12.8z"/><path d="M1312.2 763.8h14.3l-7.2 12.8z"/><path d="M1313 776.6h14.3l-7.2 12.8z"/><path d="M1313.9 773.3h14.3l-7.2 12.8z"/><path d="M1314.7 767h14.3l-7.2 12.8z"/><path d="M1315.5 773.2h14.3l-7.2 12.8z"/><path d="M1316.3 762.2h14.3l-7.2 12.8z"/><path d="M1317.1 760.9h14.3l-7.2 12.8z"/><path d="M1317.9 763.2h14.3l-7.2 12.8z"/><path d="M1318.8 767.6h14.3l-7.2 12.8z"/><path d="M1319.6 768.1h14.3l-7.2 12.8z"/><path d="M1320.4 767.2h14.3l-7.2 12.8z"/><path d="M1321.2 770.4h14.3l-7.2 12.8z"/><path d="M1322 759.3h14.3l-7.2 12.8z"/><path d="M1322.8 772.5h14.3l-7.2 12.8z"/><path d="M1323.6 763h14.3l-7.2 12.8z"/><path d="M1324.4 766.9h14.3l-7.2 12.8z"/><path d="M1325.2 768.2h14.3l-7.2 12.8z"/><path d="M1325.9 764.5h14.3l-7.2 12.8z"/><path d="M1326.7 763.5h14.3l-7.2 12.8z"/><path d="M1327.5 765.4h14.3l-7.2 12.8z"/><path d="M1328.3 770.5h14.3l-7.2 12.8z"/><path d="M1329.1 773.6h14.3l-7.2 12.8z"/><path d="M1329.9 773.6h14.3l-7.2 12.8z"/><path d="M1330.7 765.8h14.3l-7.2 12.8z"/><path d="M1331.4 766.9h14.3l-7.2 12.8z"/><path d="M1332.2 766.3h14.3l-7.2 12.8z"/><path d="M1333 773.3h14.3l-7.2 12.8z"/><path d="M1333.8 760.7h14.3l-7.2 12.8z"/><path d="M1334.5 777.5h14.3l-7.2 12.8z"/><path d="M1335.3 768.8h14.3l-7.2 12.8z"/><path d="M1336.1 767.3h14.3l-7.2 12.8z"/><path d="M1336.8 773.1h14.3l-7.2 12.8z"/><path d="M1337.6 776.7h14.3l-7.2 12.8z"/><path d="M1338.4 773.3h14.3l-7.2 12.8z"/><path d="M1339.1 777h14.3l-7.2 12.8z"/><path d="M1339.9 772.4h14.3l-7.2 12.8z"/><path d="M1340.6 778.1h14.3l-7.2 12.8z"/><path d="M1341.4 778.2h14.3l-7.2 12.8z"/><path d="M1342.2 771.4h14.3l-7.2 12.8z"/><path d="M1342.9 779.4h14.3l-7.2 12.8z"/><path d="M1343.7 772.9h14.3l-7.2 12.8z"/><path d="M1344.4 772.6h14.3l-7.2 12.8z"/><path d="M1345.2 767.4h14.3l-7.2 12.8z"/><path d="M1345.9 770.8h14.3l-7.2 12.8z"/><path d="M1346.6 776.4h14.3l-7.2 12.8z"/><path d="M1347.4 765.6h14.3l-7.2 12.8z"/><path d="M1348.1 775.9h14.3l-7.2 12.8z"/><path d="M1348.9 774.4h14.3l-7.2 12.8z"/><path d="M1349.6 774.1h14.3l-7.2 12.8z"/><path d="M1350.3 761.2h14.3l-7.2 12.8z"/><path d="M1351.1 772.2h14.3l-7.2 12.8z"/><path d="M1351.8 776.2h14.3l-7.2 12.8z"/><path d="M1352.5 768.9h14.3l-7.2 12.8z"/><path d="M1353.3 773.5h14.3l-7.2 12.8z"/><path d="M1354 760.6h14.3l-7.2 12.8z"/><path d="M1354.7 776.6h14.3l-7.2 12.8z"/><path d="M1355.4 769.7h14.3l-7.2 12.8z"/></g>
<g stroke="#008000"><path d="M244.9 216.9l7 7.5l-7 7.5l-7 -7.5z"/><path d="M265 230.8l7 7.5l-7 7.5l-7 -7.5z"/><path d="M284 250.8l7 7.5l-7 7.5l-7 -7.5z"/><path d="M302 272.8l7 7.5l-7 7.5l-7 -7.5z"/><path d="M319.1 291.1l7 7.5l-7 7.5l-7 -7.5z"/><path d="M335.3 309.8l7 7.5l-7 7.5l-7 -7.5z"/><path d="M350.8 322.9l7 7.5l-7 7.5l-7 -7.5z"/><path d="M365.6 332.7l7 7.5l-7 7.5l-7 -7.5z"/><path d="M379.7 348.9l7 7.5l-7 7.5l-7 -7.5z"/><path d="M393.3 348.9l7 7.5l-7 7.5l-7 -7.5z"/><path d="M406.3 356.7l7 7.5l-7 7.5l-7 -7.5z"/><path d="M418.9 358l7 7.5l-7 7.5l-7 -7.5z"/><path d="M431 360.5l7 7.5l-7 7.5l-7 -7.5z"/><path d="M442.7 382.2l7 7.5l-7 7.5l-7 -7.5z"/><path d="M453.9 397l7 7.5l-7 7.5l-7 -7.5z"/><path d="M464.8 397.7l7 7.5l-7 7.5l-7 -7.5z"/><path d="M475.4 400.6l7 7.5l-7 7.5l-7 -7.5z"/><path d="M485.6 401.4l7 7.5l-7 7.5l-7 -7.5z"/><path d="M495.6 401.4l7 7.5l-7 7.5l-7 -7.5z"/><path d="M505.2 398.7l7 7.5l-7 7.5l-7 -7.5z"/><path d="M514.6 411.3l7 7.5l-7 7.5l-7 -7.5z"/><path d="M523.7 421.5l7 7.5l-7 7.5l-7 -7.5z"/><path d="M532.6 422.5l7 7.5l-7 7.5l-7 -7.5z"/><path d="M541.2 422.3l7 7.5l-7 7.5l-7 -7.5z"/><path d="M549.6 424.5l7 7.5l-7 7.5l-7 -7.5z"/><path d="M557.9 425.6l7 7.5l-7 7.5l-7 -7.5z"/><path d="M565.9 425.1l7 7.5l-7 7.5l-7 -7.5z"/><path d="M573.7 425.1l7 7.5l-7 7.5l-7 -7.5z"/><path d="M581.4 434l7 7.5l-7 7.5l-7 -7.5z"/><path d="M588.8 436.1l7 7.5l-7 7.5l-7 -7.5z"/><path d="M596.1 437.1l7 7.5l-7 7.5l-7 -7.5z"/><path d="M603.3 439.3l7 7.5l-7 7.5l-7 -7.5z"/><path d="M610.3 436.1l7 7.5l-7 7.5l-7 -7.5z"/><path d="M617.2 439.3l7 7.5l-7 7.5l-7 -7.5z"/><path d="M623.9 439l7 7.5l-7 7.5l-7 -7.5z"/><path d="M630.5 441.4l7 7.5l-7 7.5l-7 -7.5z"/><path d="M636.9 449.2l7 7.5l-7 7.5l-7 -7.5z"/><path d="M643.3 446.1l7 7.5l-7 7.5l-7 -7.5z"/><path d="M649.5 453.5l7 7.5l-7 7.5l-7 -7.5z"/><path d="M655.6 449l7 7.5l-7 7.5l-7 -7.5z"/><path d="M661.6 448l7 7.5l-7 7.5l-7 -7.5z"/><path d="M667.5 451.3l7 7.5l-7 7.5l-7 -7.5z"/><path d="M673.3 453.6l7 7.5l-7 7.5l-7 -7.5z"/><path d="M679 452.2l7 7.5l-7 7.5l-7 -7.5z"/><path d="M684.6 450.5l7 7.5l-7 7.5l-7 -7.5z"/><path d="M690.1 455.8l7 7.5l-7 7.5l-7 -7.5z"/><path d="M695.5 459.2l7 7.5l-7 7.5l-7 -7.5z"/><path d="M700.8 456l7 7.5l-7 7.5l-7 -7.5z"/><path d="M706 456.4l7 7.5l-7 7.5l-7 -7.5z"/><path d="M711.2 461.6l7 7.5l-7 7.5l-7 -7.5z"/><path d="M716.3 459.6l7 7.5l-7 7.5l-7 -7.5z"/><path d="M721.3 456l7 7.5l-7 7.5l-7 -7.5z"/><path d="M726.2 458.3l7 7.5l-7 7.5l-7 -7.5z"/><path d="M731.1 458l7 7.5l-7 7.5l-7 -7.5z"/><path d="M735.9 461l7 7.5l-7 7.5l-7 -7.5z"/><path d="M740.6 461.1l7 7.5l-7 7.5l-7 -7.5z"/><path d="M745.2 464.1l7 7.5l-7 7.5l-7 -7.5z"/><path d="M749.8 463.6l7 7.5l-7 7.5l-7 -7.5z"/><path d="M754.4 459l7 7.5l-7 7.5l-7 -7.5z"/><path d="M758.8 464.9l7 7.5l-7 7.5l-7 -7.5z"/><path d="M763.2 467.3l7 7.5l-7 7.5l-7 -7.5z"/><path d="M767.6 467.5l7 7.5l-7 7.5l-7 -7.5z"/><path d="M771.9 470.2l7 7.5l-7 7.5l-7 -7.5z"/><path d="M776.1 468l7 7.5l-7 7.5l-7 -7.5z"/><path d="M780.3 468.6l7 7.5l-7 7.5l-7 -7.5z"/><path d="M784.4 474.3l7 7.5l-7 7.5l-7 -7.5z"/><path d="M788.5 471.2l7 7.5l-7 7.5l-7 -7.5z"/><path d="M792.6 469.9l7 7.5l-7 7.5l-7 -7.5z"/><path d="M796.6 478.3l7 7.5l-7 7.5l-7 -7.5z"/><path d="M800.5 475.3l7 7.5l-7 7.5l-7 -7.5z"/><path d="M804.4 477.2l7 7.5l-7 7.5l-7 -7.5z"/><path d="M808.2 475.7l7 7.5l-7 7.5l-7 -7.5z"/><path d="M812 476.9l7 7.5l-7 7.5l-7 -7.5z"/><path d="M815.8 478.2l7 7.5l-7 7.5l-7 -7.5z"/><path d="M819.5 481l7 7.5l-7 7.5l-7 -7.5z"/><path d="M823.2 483.7l7 7.5l-7 7.5l-7 -7.5z"/><path d="M826.8 478.7l7 7.5l-7 7.5l-7 -7.5z"/><path d="M830.4 486.9l7 7.5l-7 7.5l-7 -7.5z"/><path d="M834 483.6l7 7.5l-7 7.5l-7 -7.5z"/><path d="M837.5 484.9l7 7.5l-7 7.5l-7 -7.5z"/><path d="M841 490.1l7 7.5l-7 7.5l-7 -7.5z"/><path d="M844.4 490.9l7 7.5l-7 7.5l-7 -7.5z"/><path d="M847.9 490l7 7.5l-7 7.5l-7 -7.5z"/><path d="M851.2 500.3l7 7.5l-7 7.5l-7 -7.5z"/><path d="M854.6 496.6l7 7.5l-7 7.5l-7 -7.5z"/><path d="M857.9 501.6l7 7.5l-7 7.5l-7 -7.5z"/><path d="M861.2 503.9l7 7.5l-7 7.5l-7 -7.5z"/><path d="M864.4 509.3l7 7.5l-7 7.5l-7 -7.5z"/><path d="M867.6 507.1l7 7.5l-7 7.5l-7 -7.5z"/><path d="M870.8 513.2l7 7.5l-7 7.5l-7 -7.5z"/><path d="M874 511.3l7 7.5l-7 7.5l-7 -7.5z"/><path d="M877.1 518.4l7 7.5l-7 7.5l-7 -7.5z"/><path d="M880.2 516.1l7 7.5l-7 7.5l-7 -7.5z"/><path d="M883.3 519.5l7 7.5l-7 7.5l-7 -7.5z"/><path d="M886.3 527.7l7 7.5l-7 7.5l-7 -7.5z"/><path d="M889.3 526l7 7.5l-7 7.5l-7 -7.5z"/><path d="M892.3 528.7l7 7.5l-7 7.5l-7 -7.5z"/><path d="M895.3 538.6l7 7.5l-7 7.5l-7 -7.5z"/><path d="M898.2 537.8l7 7.5l-7 7.5l-7 -7.5z"/><path d="M901.1 538.8l7 7.5l-7 7.5l-7 -7.5z"/><path d="M904 547.1l7 7.5l-7 7.5l-7 -7.5z"/><path d="M906.8 546l7 7.5l-7 7.5l-7 -7.5z"/><path d="M909.7 556.4l7 7.5l-7 7.5l-7 -7.5z"/><path d="M912.5 560.7l7 7.5l-7 7.5l-7 -7.5z"/><path d="M915.3 559.7l7 7.5l-7 7.5l-7 -7.5z"/><path d="M918 563.5l7 7.5l-7 7.5l-7 -7.5z"/><path d="M920.8 569.1l7 7.5l-7 7.5l-7 -7.5z"/><path d="M923.5 571.2l7 7.5l-7 7.5l-7 -7.5z"/><path d="M926.2 570.9l7 7.5l-7 7.5l-7 -7.5z"/><path d="M928.9 577.9l7 7.5l-7 7.5l-7 -7.5z"/><path d="M931.5 572.7l7 7.5l-7 7.5l-7 -7.5z"/><path d="M934.1 579.9l7 7.5l-7 7.5l-7 -7.5z"/><path d="M936.8 582.5l7 7.5l-7 7.5l-7 -7.5z"/><path d="M939.3 585.3l7 7.5l-7 7.5l-7 -7.5z"/><path d="M941.9 589.5l7 7.5l-7 7.5l-7 -7.5z"/><path d="M944.5 587.2l7 7.5l-7 7.5l-7 -7.5z"/><path d="M947 595.3l7 7.5l-7 7.5l-7 -7.5z"/><path d="M949.5 595.5l7 7.5l-7 7.5l-7 -7.5z"/><path d="M952 596.5l7 7.5l-7 7.5l-7 -7.5z"/><path d="M954.5 596.7l7 7.5l-7 7.5l-7 -7.5z"/><path d="M956.9 599.7l7 7.5l-7 7.5l-7 -7.5z"/><path d="M959.4 607l7 7.5l-7 7.5l-7 -7.5z"/><path d="M961.8 605.2l7 7.5l-7 7.5l-7 -7.5z"/><path d="M964.2 610.9l7 7.5l-7 7.5l-7 -7.5z"/><path d="M966.6 616.5l7 7.5l-7 7.5l-7 -7.5z"/><path d="M969 618.4l7 7.5l-7 7.5l-7 -7.5z"/><path d="M971.3 622l7 7.5l-7 7.5l-7 -7.5z"/><path d="M973.6 617.8l7 7.5l-7 7.5l-7 -7.5z"/><path d="M976 617l7 7.5l-7 7.5l-7 -7.5z"/><path d="M978.3 625.8l7 7.5l-7 7.5l-7 -7.5z"/><path d="M980.6 625.2l7 7.5l-7 7.5l-7 -7.5z"/><path d="M982.8 629.7l7 7.5l-7 7.5l-7 -7.5z"/><path d="M985.1 627.8l7 7.5l-7 7.5l-7 -7.5z"/><path d="M987.3 633.6l7 7.5l-7 7.5l-7 -7.5z"/><path d="M989.5 634.2l7 7.5l-7 7.5l-7 -7.5z"/><path d="M991.8 635.5l7 7.5l-7 7.5l-7 -7.5z"/><path d="M994 636.5l7 7.5l-7 7.5l-7 -7.5z"/><path d="M996.1 637.8l7 7.5l-7 7.5l-7 -7.5z"/><path d="M998.3 639l7 7.5l-7 7.5l-7 -7.5z"/><path d="M1000.5 640.7l7 7.5l-7 7.5l-7 -7.5z"/><path d="M1002.6 645.5l7 7.5l-7 7.5l-7 -7.5z"/><path d="M1004.7 642.2l7 7.5l-7 7.5l-7 -7.5z"/><path d="M1006.8 652.3l7 7.5l-7 7.5l-7 -7.5z"/><path d="M1008.9 647.7l7 7.5l-7 7.5l-7 -7.5z"/><path d="M1011 653.7l7 7.5l-7 7.5l-7 -7.5z"/><path d="M1013.1 651.8l7 7.5l-7 7.5l-7 -7.5z"/><path d="M1015.2 653.2l7 7.5l-7 7.5l-7 -7.5z"/><path d="M1017.2 663.5l7 7.5l-7 7.5l-7 -7.5z"/><path d="M1019.3 656.8l7 7.5l-7 7.5l-7 -7.5z"/><path d="M1021.3 655.2l7 7.5l-7 7.5l-7 -7.5z"/><path d="M1023.3 659.2l7 7.5l-7 7.5l-7 -7.5z"/><path d="M1025.3 662.6l7 7.5l-7 7.5l-7 -7.5z"/><path d="M1027.3 673.9l7 7.5l-7 7.5l-7 -7.5z"/><path d="M1029.2 668.4l7 7.5l-7 7.5l-7 -7.5z"/><path d="M1031.2 673.1l7 7.5l-7 7.5l-7 -7.5z"/><path d="M1033.2 667.5l7 7.5l-7 7.5l-7 -7.5z"/><path d="M1035.1 674.6l7 7.5l-7 7.5l-7 -7.5z"/><path d="M1037 677.7l7 7.5l-7 7.5l-7 -7.5z"/><path d="M1039 684l7 7.5l-7 7.5l-7 -7.5z"/><path d="M1040.9 676l7 7.5l-7 7.5l-7 -7.5z"/><path d="M1042.8 682.9l7 7.5l-7 7.5l-7 -7.5z"/><path d="M1044.6 683l7 7.5l-7 7.5l-7 -7.5z"/><path d="M1046.5 678.9l7 7.5l-7 7.5l-7 -7.5z"/><path d="M1048.4 684.1l7 7.5l-7 7.5l-7 -7.5z"/><path d="M1050.2 684.4l7 7.5l-7 7.5l-7 -7.5z"/><path d="M1052.1 677.2l7 7.5l-7 7.5l-7 -7.5z"/><path d="M1053.9 690.3l7 7.5l-7 7.5l-7 -7.5z"/><path d="M1055.7 691.3l7 7.5l-7 7.5l-7 -7.5z"/><path d="M1057.6 688.4l7 7.5l-7 7.5l-7 -7.5z"/><path d="M1059.4 685.8l7 7.5l-7 7.5l-7 -7.5z"/><path d="M1061.2 698.8l7 7.5l-7 7.5l-7 -7.5z"/><path d="M1062.9 694.9l7 7.5l-7 7.5l-7 -7.5z"/><path d="M1064.7 699.2l7 7.5l-7 7.5l-7 -7.5z"/><path d="M1066.5 702l7 7.5l-7 7.5l-7 -7.5z"/><path d="M1068.2 695l7 7.5l-7 7.5l-7 -7.5z"/><path d="M1070 701.8l7 7.5l-7 7.5l-7 -7.5z"/><path d="M1071.7 698.5l7 7.5l-7 7.5l-7 -7.5z"/><path d="M1073.5 700.3l7 7.5l-7 7.5l-7 -7.5z"/><path d="M1075.2 701.4l7 7.5l-7 7.5l-7 -7.5z"/><path d="M1076.9 702.9l7 7.5l-7 7.5l-7 -7.5z"/><path d="M1078.6 708.8l7 7.5l-7 7.5l-7 -7.5z"/><path d="M1080.3 705.6l7 7.5l-7 7.5l-7 -7.5z"/><path d="M1082 705.5l7 7.5l-7 7.5l-7 -7.5z"/><path d="M1083.6 706.1l7 7.5l-7 7.5l-7 -7.5z"/><path d="M1085.3 709.9l7 7.5l-7 7.5l-7 -7.5z"/><path d="M1087 705.3l7 7.5l-7 7.5l-7 -7.5z"/><path d="M1088.6 707.8l7 7.5l-7 7.5l-7 -7.5z"/><path d="M1090.3 710.7l7 7.5l-7 7.5l-7 -7.5z"/><path d="M1091.9 709.2l7 7.5l-7 7.5l-7 -7.5z"/><path d="M1093.5 712l7 7.5l-7 7.5l-7 -7.5z"/><path d="M1095.2 710.6l7 7.5l-7 7.5l-7 -7.5z"/><path d="M1096.8 723.4l7 7.5l-7 7.5l-7 -7.5z"/><path d="M1098.4 721.1l7 7.5l-7 7.5l-7 -7.5z"/><path d="M1100 717.9l7 7.5l-7 7.5l-7 -7.5z"/><path d="M1101.6 716.4l7 7.5l-7 7.5l-7 -7.5z"/><path d="M1103.1 727.6l7 7.5l-7 7.5l-7 -7.5z"/><path d="M1104.7 719.8l7 7.5l-7 7.5l-7 -7.5z"/><path d="M1106.3 718.7l7 7.5l-7 7.5l-7 -7.5z"/><path d="M1107.8 721.3l7 7.5l-7 7.5l-7 -7.5z"/><path d="M1109.4 722.1l7 7.5l-7 7.5l-7 -7.5z"/><path d="M1110.9 728.1l7 7.5l-7 7.5l-7 -7.5z"/><path d="M1112.5 722.1l7 7.5l-7 7.5l-7 -7.5z"/><path d="M1114 733l7 7.5l-7 7.5l-7 -7.5z"/><path d="M1115.5 719.6l7 7.5l-7 7.5l-7 -7.5z"/><path d="M1117 727.9l7 7.5l-7 7.5l-7 -7.5z"/><path d="M1118.6 720.5l7 7.5l-7 7.5l-7 -7.5z"/><path d="M1120.1 734.8l7 7.5l-7 7.5l-7 -7.5z"/><path d="M1121.5 725.2l7 7.5l-7 7.5l-7 -7.5z"/><path d="M1123 727.3l7 7.5l-7 7.5l-7 -7.5z"/><path d="M1124.5 732.9l7 7.5l-7 7.5l-7 -7.5z"/><path d="M1126 735.2l7 7.5l-7 7.5l-7 -7.5z"/><path d="M1127.5 724.4l7 7.5l-7 7.5l-7 -7.5z"/><path d="M1128.9 728.9l7 7.5l-7 7.5l-7 -7.5z"/><path d="M1130.4 724.5l7 7.5l-7 7.5l-7 -7.5z"/><path d="M1131.8 732.8l7 7.5l-7 7.5l-7 -7.5z"/><path d="M1133.3 732.3l7 7.5l-7 7.5l-7 -7.5z"/><path d="M1134.7 731.8l7 7.5l-7 7.5l-7 -7.5z"/><path d="M1136.2 730.8l7 7.5l-7 7.5l-7 -7.5z"/><path d="M1137.6 733.1l7 7.5l-7 7.5l-7 -7.5z"/><path d="M1139 732l7 7.5l-7 7.5l-7 -7.5z"/><path d="M1140.4 739.1l7 7.5l-7 7.5l-7 -7.5z"/><path d="M1141.8 744.8l7 7.5l-7 7.5l-7 -7.5z"/><path d="M1143.2 728.1l7 7.5l-7 7.5l-7 -7.5z"/><path d="M1144.6 738.1l7 7.5l-7 7.5l-7 -7.5z"/><path d="M1146 737.3l7 7.5l-7 7.5l-7 -7.5z"/><path d="M1147.4 742.7l7 7.5l-7 7.5l-7 -7.5z"/><path d="M1148.8 736l7 7.5l-7 7.5l-7 -7.5z"/><path d="M1150.1 740.9l7 7.5l-7 7.5l-7 -7.5z"/><path d="M1151.5 737l7 7.5l-7 7.5l-7 -7.5z"/><path d="M1152.9 746.7l7 7.5l-7 7.5l-7 -7.5z"/><path d="M1154.2 744.3l7 7.5l-7 7.5l-7 -7.5z"/><path d="M1155.6 743.7l7 7.5l-7 7.5l-7 -7.5z"/><path d="M1156.9 747.2l7 7.5l-7 7.5l-7 -7.5z"/><path d="M1158.3 744.7l7 7.5l-7 7.5l-7 -7.5z"/><path d="M1159.6 738.5l7 7.5l-7 7.5l-7 -7.5z"/><path d="M1160.9 750.6l7 7.5l-7 7.5l-7 -7.5z"/><path d="M1162.2 749.7l7 7.5l-7 7.5l-7 -7.5z"/><path d="M1163.6 748l7 7.5l-7 7.5l-7 -7.5z"/><path d="M1164.9 754.8l7 7.5l-7 7.5l-7 -7.5z"/><path d="M1166.2 756.8l7 7.5l-7 7.5l-7 -7.5z"/><path d="M1167.5 745.1l7 7.5l-7 7.5l-7 -7.5z"/><path d="M1168.8 747.5l7 7.5l-7 7.5l-7 -7.5z"/><path d="M1170.1 760.7l7 7.5l-7 7.5l-7 -7.5z"/><path d="M1171.4 760.7l7 7.5l-7 7.5l-7 -7.5z"/><path d="M1172.7 749.8l7 7.5l-7 7.5l-7 -7.5z"/><path d="M1173.9 748l7 7.5l-7 7.5l-7 -7.5z"/><path d="M1175.2 751.7l7 7.5l-7 7.5l-7 -7.5z"/><path d="M1176.5 753.1l7 7.5l-7 7.5l-7 -7.5z"/><path d="M1177.7 747.8l7 7.5l-7 7.5l-7 -7.5z"/><path d="M1179 757.3l7 7.5l-7 7.5l-7 -7.5z"/><path d="M1180.2 750.8l7 7.5l-7 7.5l-7 -7.5z"/><path d="M1181.5 751.9l7 7.5l-7 7.5l-7 -7.5z"/><path d="M1182.7 764.2l7 7.5l-7 7.5l-7 -7.5z"/><path d="M1184 756.1l7 7.5l-7 7.5l-7 -7.5z"/><path d="M1185.2 760.1l7 7.5l-7 7.5l-7 -7.5z"/><path d="M1186.4 764.7l7 7.5l-7 7.5l-7 -7.5z"/><path d="M1187.7 766.4l7 7.5l-7 7.5l-7 -7.5z"/><path d="M1188.9 760.6l7 7.5l-7 7.5l-7 -7.5z"/><path d="M1190.1 763.4l7 7.5l-7 7.5l-7 -7.5z"/><path d="M1191.3 759.2l7 7.5l-7 7.5l-7 -7.5z"/><path d="M1192.5 774.3l7 7.5l-7 7.5l-7 -7.5z"/><path d="M1193.7 768.8l7 7.5l-7 7.5l-7 -7.5z"/><path d="M1194.9 759.5l7 7.5l-7 7.5l-7 -7.5z"/><path d="M1196.1 766.4l7 7.5l-7 7.5l-7 -7.5z"/><path d="M1197.3 771.1l7 7.5l-7 7.5l-7 -7.5z"/><path d="M1198.5 770.4l7 7.5l-7 7.5l-7 -7.5z"/><path d="M1199.7 778.8l7 7.5l-7 7.5l-7 -7.5z"/><path d="M1200.9 776.5l7 7.5l-7 7.5l-7 -7.5z"/><path d="M1202 765.9l7 7.5l-7 7.5l-7 -7.5z"/><path d="M1203.2 768.7l7 7.5l-7 7.5l-7 -7.5z"/><path d="M1204.4 762.2l7 7.5l-7 7.5l-7 -7.5z"/><path d="M1205.5 771.2l7 7.5l-7 7.5l-7 -7.5z"/><path d="M1206.7 770.9l7 7.5l-7 7.5l-7 -7.5z"/><path d="M1207.9 786l7 7.5l-7 7.5l-7 -7.5z"/><path d="M1209 771.2l7 7.5l-7 7.5l-7 -7.5z"/><path d="M1210.2 758.7l7 7.5l-7 7.5l-7 -7.5z"/><path d="M1211.3 767.2l7 7.5l-7 7.5l-7 -7.5z"/><path d="M1212.4 772.1l7 7.5l-7 7.5l-7 -7.5z"/><path d="M1213.6 764.3l7 7.5l-7 7.5l-7 -7.5z"/><path d="M1214.7 766.8l7 7.5l-7 7.5l-7 -7.5z"/><path d="M1215.8 770l7 7.5l-7 7.5l-7 -7.5z"/><path d="M1216.9 774.5l7 7.5l-7 7.5l-7 -7.5z"/><path d="M1218.1 771.7l7 7.5l-7 7.5l-7 -7.5z"/><path d="M1219.2 767.7l7 7.5l-7 7.5l-7 -7.5z"/><path d="M1220.3 777.9l7 7.5l-7 7.5l-7 -7.5z"/><path d="M1221.4 770.3l7 7.5l-7 7.5l-7 -7.5z"/><path d="M1222.5 770.8l7 7.5l-7 7.5l-7 -7.5z"/><path d="M1223.6 765.8l7 7.5l-7 7.5l-7 -7.5z"/><path d="M1224.7 769.6l7 7.5l-7 7.5l-7 -7.5z"/><path d="M1225.8 778.4l7 7.5l-7 7.5l-7 -7.5z"/><path d="M1226.9 765.1l7 7.5l-7 7.5l-7 -7.5z"/><path d="M1228 774.6l7 7.5l-7 7.5l-7 -7.5z"/><path d="M1229.1 779.6l7 7.5l-7 7.5l-7 -7.5z"/><path d="M1230.1 773.3l7 7.5l-7 7.5l-7 -7.5z"/><path d="M1231.2 777.2l7 7.5l-7 7.5l-7 -7.5z"/><path d="M1232.3 769.3l7 7.5l-7 7.5l-7 -7.5z"/><path d="M1233.3 784.2l7 7.5l-7 7.5l-7 -7.5z"/><path d="M1234.4 783.2l7 7.5l-7 7.5l-7 -7.5z"/><path d="M1235.5 778.2l7 7.5l-7 7.5l-7 -7.5z"/><path d="M1236.5 766.3l7 7.5l-7 7.5l-7 -7.5z"/><path d="M1237.6 770.9l7 7.5l-7 7.5l-7 -7.5z"/><path d="M1238.6 783.5l7 7.5l-7 7.5l-7 -7.5z"/><path d="M1239.7 788.3l7 7.5l-7 7.5l-7 -7.5z"/><path d="M1240.7 779.8l7 7.5l-7 7.5l-7 -7.5z"/><path d="M1241.8 785.9l7 7.5l-7 7.5l-7 -7.5z"/><path d="M1242.8 774.7l7 7.5l-7 7.5l-7 -7.5z"/><path d="M1243.8 777.6l7 7.5l-7 7.5l-7 -7.5z"/><path d="M1244.9 779l7 7.5l-7 7.5l-7 -7.5z"/><path d="M1245.9 781.8l7 7.5l-7 7.5l-7 -7.5z"/><path d="M1246.9 769.9l7 7.5l-7 7.5l-7 -7.5z"/><path d="M1248 785.6l7 7.5l-7 7.5l-7 -7.5z"/><path d="M1249 788.2l7 7.5l-7 7.5l-7 -7.5z"/><path d="M1250 773l7 7.5l-7 7.5l-7 -7.5z"/><path d="M1251 771.9l7 7.5l-7 7.5l-7 -7.5z"/><path d="M1252 782.8l7 7.5l-7 7.5l-7 -7.5z"/><path d="M1253 776.8l7 7.5l-7 7.5l-7 -7.5z"/><path d="M1254 766.2l7 7.5l-7 7.5l-7 -7.5z"/><path d="M1255 786.4l7 7.5l-7 7.5l-7 -7.5z"/><path d="M1256 782.6l7 7.5l-7 7.5l-7 -7.5z"/><path d="M1257 778.8l7 7.5l-7 7.5l-7 -7.5z"/><path d="M1258 795.4l7 7.5l-7 7.5l-7 -7.5z"/><path d="M1259 783.2l7 7.5l-7 7.5l-7 -7.5z"/><path d="M1260 777.7l7 7.5l-7 7.5l-7 -7.5z"/><path d="M1261 783.2l7 7.5l-7 7.5l-7 -7.5z"/><path d="M1262 776l7 7.5l-7 7.5l-7 -7.5z"/><path d="M1262.9 777.8l7 7.5l-7 7.5l-7 -7.5z"/><path d="M1263.9 785.2l7 7.5l-7 7.5l-7 -7.5z"/><path d="M1264.9 779.2l7 7.5l-7 7.5l-7 -7.5z"/><path d="M1265.9 779.9l7 7.5l-7 7.5l-7 -7.5z"/><path d="M1266.8 793.6l7 7.5l-7 7.5l-7 -7.5z"/><path d="M1267.8 788.5l7 7.5l-7 7.5l-7 -7.5z"/><path d="M1268.7 788.2l7 7.5l-7 7.5l-7 -7.5z"/><path d="M1269.7 786.5l7 7.5l-7 7.5l-7 -7.5z"/><path d="M1270.7 786.3l7 7.5l-7 7.5l-7 -7.5z"/><path d="M1271.6 792.6l7 7.5l-7 7.5l-7 -7.5z"/><path d="M1272.6 783.1l7 7.5l-7 7.5l-7 -7.5z"/><path d="M1273.5 795.4l7 7.5l-7 7.5l-7 -7.5z"/><path d="M1274.4 777.1l7 7.5l-7 7.5l-7 -7.5z"/><path d="M1275.4 781.7l7 7.5l-7 7.5l-7 -7.5z"/><path d="M1276.3 774.4l7 7.5l-7 7.5l-7 -7.5z"/><path d="M1277.3 781.3l7 7.5l-7 7.5l-7 -7.5z"/><path d="M1278.2 787l7 7.5l-7 7.5l-7 -7.5z"/><path d="M1279.1 793.2l7 7.5l-7 7.5l-7 -7.5z"/><path d="M1280.1 779.3l7 7.5l-7 7.5l-7 -7.5z"/><path d="M1281 783.8l7 7.5l-7 7.5l-7 -7.5z"/><path d="M1281.9 781.4l7 7.5l-7 7.5l-7 -7.5z"/><path d="M1282.8 778.9l7 7.5l-7 7.5l-7 -7.5z"/><path d="M1283.7 776l7 7.5l-7 7.5l-7 -7.5z"/><path d="M1284.7 784.3l7 7.5l-7 7.5l-7 -7.5z"/><path d="M1285.6 772.5l7 7.5l-7 7.5l-7 -7.5z"/><path d="M1286.5 784.8l7 7.5l-7 7.5l-7 -7.5z"/><path d="M1287.4 784.2l7 7.5l-7 7.5l-7 -7.5z"/><path d="M1288.3 779.8l7 7.5l-7 7.5l-7 -7.5z"/><path d="M1289.2 777.4l7 7.5l-7 7.5l-7 -7.5z"/><path d="M1290.1 775l7 7.5l-7 7.5l-7 -7.5z"/><path d="M1291 796.9l7 7.5l-7 7.5l-7 -7.5z"/><path d="M1291.9 775.3l7 7.5l-7 7.5l-7 -7.5z"/><path d="M1292.8 794.9l7 7.5l-7 7.5l-7 -7.5z"/><path d="M1293.7 788.5l7 7.5l-7 7.5l-7 -7.5z"/><path d="M1294.6 782.1l7 7.5l-7 7.5l-7 -7.5z"/><path d="M1295.5 776.7l7 7.5l-7 7.5l-7 -7.5z"/><path d="M1296.3 791.7l7 7.5l-7 7.5l-7 -7.5z"/><path d="M1297.2 796.4l7 7.5l-7 7.5l-7 -7.5z"/><path d="M1298.1 778.4l7 7.5l-7 7.5l-7 -7.5z"/><path d="M1299 782.7l7 7.5l-7 7.5l-7 -7.5z"/><path d="M1299.9 792l7 7.5l-7 7.5l-7 -7.5z"/><path d="M1300.7 787.2l7 7.5l-7 7.5l-7 -7.5z"/><path d="M1301.6 798.6l7 7.5l-7 7.5l-7 -7.5z"/><path d="M1302.5 781.1l7 7.5l-7 7.5l-7 -7.5z"/><path d="M1303.3 788.7l7 7.5l-7 7.5l-7 -7.5z"/><path d="M1304.2 776.5l7 7.5l-7 7.5l-7 -7.5z"/><path d="M1305.1 799.5l7 7.5l-7 7.5l-7 -7.5z"/><path d="M1305.9 780.2l7 7.5l-7 7.5l-7 -7.5z"/><path d="M1306.8 770l7 7.5l-7 7.5l-7 -7.5z"/><path d="M1307.6 784.4l7 7.5l-7 7.5l-7 -7.5z"/><path d="M1308.5 784.4l7 7.5l-7 7.5l-7 -7.5z"/><path d="M1309.3 798.6l7 7.5l-7 7.5l-7 -7.5z"/><path d="M1310.2 783.1l7 7.5l-7 7.5l-7 -7.5z"/><path d="M1311 785.4l7 7.5l-7 7.5l-7 -7.5z"/><path d="M1311.9 789.6l7 7.5l-7 7.5l-7 -7.5z"/><path d="M1312.7 796.6l7 7.5l-7 7.5l-7 -7.5z"/><path d="M1313.6 785.2l7 7.5l-7 7.5l-7 -7.5z"/><path d="M1314.4 792.9l7 7.5l-7 7.5l-7 -7.5z"/><path d="M1315.2 789.3l7 7.5l-7 7.5l-7 -7.5z"/><path d="M1316.1 783.7l7 7.5l-7 7.5l-7 -7.5z"/><path d="M1316.9 786.4l7 7.5l-7 7.5l-7 -7.5z"/><path d="M1317.7 786.1l7 7.5l-7 7.5l-7 -7.5z"/><path d="M1318.5 779.5l7 7.5l-7 7.5l-7 -7.5z"/><path d="M1319.4 794.5l7 7.5l-7 7.5l-7 -7.5z"/><path d="M1320.2 776.3l7 7.5l-7 7.5l-7 -7.5z"/><path d="M1321 794.3l7 7.5l-7 7.5l-7 -7.5z"/><path d="M1321.8 792.8l7 7.5l-7 7.5l-7 -7.5z"/><path d="M1322.7 785.5l7 7.5l-7 7.5l-7 -7.5z"/><path d="M1323.5 780.8l7 7.5l-7 7.5l-7 -7.5z"/><path d="M1324.3 784.6l7 7.5l-7 7.5l-7 -7.5z"/><path d="M1325.1 789.6l7 7.5l-7 7.5l-7 -7.5z"/><path d="M1325.9 791.6l7 7.5l-7 7.5l-7 -7.5z"/><path d="M1326.7 788.4l7 7.5l-7 7.5l-7 -7.5z"/><path d="M1327.5 793.5l7 7.5l-7 7.5l-7 -7.5z"/><path d="M1328.3 782.5l7 7.5l-7 7.5l-7 -7.5z"/><path d="M1329.1 788.2l7 7.5l-7 7.5l-7 -7.5z"/><path d="M1329.9 775.4l7 7.5l-7 7.5l-7 -7.5z"/><path d="M1330.7 792.1l7 7.5l-7 7.5l-7 -7.5z"/><path d="M1331.5 787.8l7 7.5l-7 7.5l-7 -7.5z"/><path d="M1332.3 783.7l7 7.5l-7 7.5l-7 -7.5z"/><path d="M1333.1 795.1l7 7.5l-7 7.5l-7 -7.5z"/><path d="M1333.9 791.8l7 7.5l-7 7.5l-7 -7.5z"/><path d="M1334.7 766.6l7 7.5l-7 7.5l-7 -7.5z"/><path d="M1335.5 787.2l7 7.5l-7 7.5l-7 -7.5z"/><path d="M1336.2 776.5l7 7.5l-7 7.5l-7 -7.5z"/><path d="M1337 794.7l7 7.5l-7 7.5l-7 -7.5z"/><path d="M1337.8 805l7 7.5l-7 7.5l-7 -7.5z"/><path d="M1338.6 783.3l7 7.5l-7 7.5l-7 -7.5z"/><path d="M1339.4 787.7l7 7.5l-7 7.5l-7 -7.5z"/><path d="M1340.1 785.3l7 7.5l-7 7.5l-7 -7.5z"/><path d="M1340.9 789.8l7 7.5l-7 7.5l-7 -7.5z"/><path d="M1341.7 791.9l7 7.5l-7 7.5l-7 -7.5z"/><path d="M1342.5 796.7l7 7.5l-7 7.5l-7 -7.5z"/><path d="M1343.2 780.2l7 7.5l-7 7.5l-7 -7.5z"/><path d="M1344 798.9l7 7.5l-7 7.5l-7 -7.5z"/><path d="M1344.8 780.6l7 7.5l-7 7.5l-7 -7.5z"/><path d="M1345.5 789.5l7 7.5l-7 7.5l-7 -7.5z"/><path d="M1346.3 796l7 7.5l-7 7.5l-7 -7.5z"/><path d="M1347 792.8l7 7.5l-7 7.5l-7 -7.5z"/><path d="M1347.8 780.7l7 7.5l-7 7.5l-7 -7.5z"/><path d="M1348.5 782.5l7 7.5l-7 7.5l-7 -7.5z"/><path d="M1349.3 784.3l7 7.5l-7 7.5l-7 -7.5z"/><path d="M1350.1 787.4l7 7.5l-7 7.5l-7 -7.5z"/><path d="M1350.8 796.2l7 7.5l-7 7.5l-7 -7.5z"/><path d="M1351.6 778.3l7 7.5l-7 7.5l-7 -7.5z"/><path d="M1352.3 791.3l7 7.5l-7 7.5l-7 -7.5z"/><path d="M1353 792.4l7 7.5l-7 7.5l-7 -7.5z"/><path d="M1353.8 792.1l7 7.5l-7 7.5l-7 -7.5z"/><path d="M1354.5 791.5l7 7.5l-7 7.5l-7 -7.5z"/><path d="M1355.3 799.3l7 7.5l-7 7.5l-7 -7.5z"/><path d="M1356 791.7l7 7.5l-7 7.5l-7 -7.5z"/><path d="M1356.7 794.5l7 7.5l-7 7.5l-7 -7.5z"/><path d="M1357.5 792.4l7 7.5l-7 7.5l-7 -7.5z"/><path d="M1358.2 801.6l7 7.5l-7 7.5l-7 -7.5z"/><path d="M1359 774.1l7 7.5l-7 7.5l-7 -7.5z"/><path d="M1359.7 797.9l7 7.5l-7 7.5l-7 -7.5z"/><path d="M1360.4 786.4l7 7.5l-7 7.5l-7 -7.5z"/><path d="M1361.1 786.3l7 7.5l-7 7.5l-7 -7.5z"/><path d="M1361.9 781.2l7 7.5l-7 7.5l-7 -7.5z"/><path d="M1362.6 774.5l7 7.5l-7 7.5l-7 -7.5z"/></g>
<g stroke="#000080"><path d="M238.1 207.7l12.3 -6.8v13.5z"/><path d="M258.3 221.3l12.3 -6.8v13.5z"/><path d="M277.3 238l12.3 -6.8v13.5z"/><path d="M295.3 263.3l12.3 -6.8v13.5z"/><path d="M312.3 282.9l12.3 -6.8v13.5z"/><path d="M328.5 296.9l12.3 -6.8v13.5z"/><path d="M344 315.2l12.3 -6.8v13.5z"/><path d="M358.8 332l12.3 -6.8v13.5z"/><path d="M372.9 343.8l12.3 -6.8v13.5z"/><path d="M386.5 355.1l12.3 -6.8v13.5z"/><path d="M399.6 363l12.3 -6.8v13.5z"/><path d="M412.1 370.7l12.3 -6.8v13.5z"/><path d="M424.2 375.1l12.3 -6.8v13.5z"/><path d="M435.9 379.2l12.3 -6.8v13.5z"/><path d="M447.2 386.8l12.3 -6.8v13.5z"/><path d="M458.1 389.9l12.3 -6.8v13.5z"/><path d="M468.6 399.2l12.3 -6.8v13.5z"/><path d="M478.9 401.7l12.3 -6.8v13.5z"/><path d="M488.8 412.8l12.3 -6.8v13.5z"/><path d="M498.5 417.2l12.3 -6.8v13.5z"/><path d="M507.8 420.5l12.3 -6.8v13.5z"/><path d="M516.9 424.1l12.3 -6.8v13.5z"/><path d="M525.8 429.6l12.3 -6.8v13.5z"/><path d="M534.5 434.8l12.3 -6.8v13.5z"/><path d="M542.9 438.6l12.3 -6.8v13.5z"/><path d="M551.1 439.8l12.3 -6.8v13.5z"/><path d="M559.1 443.3l12.3 -6.8v13.5z"/><path d="M566.9 443.1l12.3 -6.8v13.5z"/><path d="M574.6 448.9l12.3 -6.8v13.5z"/><path d="M582.1 457l12.3 -6.8v13.5z"/><path d="M589.4 454.3l12.3 -6.8v13.5z"/><path d="M596.5 452.6l12.3 -6.8v13.5z"/><path d="M603.5 449.5l12.3 -6.8v13.5z"/><path d="M610.4 452l12.3 -6.8v13.5z"/><path d="M617.1 452.7l12.3 -6.8v13.5z"/><path d="M623.7 463.2l12.3 -6.8v13.5z"/><path d="M630.2 459.3l12.3 -6.8v13.5z"/><path d="M636.5 464l12.3 -6.8v13.5z"/><path d="M642.7 463l12.3 -6.8v13.5z"/><path d="M648.8 467.2l12.3 -6.8v13.5z"/><path d="M654.8 473.5l12.3 -6.8v13.5z"/><path d="M660.7 467.3l12.3 -6.8v13.5z"/><path d="M666.5 470l12.3 -6.8v13.5z"/><path d="M672.2 469.5l12.3 -6.8v13.5z"/><path d="M677.8 476.4l12.3 -6.8v13.5z"/><path d="M683.3 470.1l12.3 -6.8v13.5z"/><path d="M688.7 470.4l12.3 -6.8v13.5z"/><path d="M694 470.8l12.3 -6.8v13.5z"/><path d="M699.3 472.5l12.3 -6.8v13.5z"/><path d="M704.4 480.1l12.3 -6.8v13.5z"/><path d="M709.5 488.3l12.3 -6.8v13.5z"/><path d="M714.5 475.7l12.3 -6.8v13.5z"/><path d="M719.5 483.3l12.3 -6.8v13.5z"/><path d="M724.3 481.7l12.3 -6.8v13.5z"/><path d="M729.1 478l12.3 -6.8v13.5z"/><path d="M733.8 482.3l12.3 -6.8v13.5z"/><path d="M738.5 483.8l12.3 -6.8v13.5z"/><path d="M743.1 483.4l12.3 -6.8v13.5z"/><path d="M747.6 494.4l12.3 -6.8v13.5z"/><path d="M752.1 481.5l12.3 -6.8v13.5z"/><path d="M756.5 491.2l12.3 -6.8v13.5z"/><path d="M760.8 492.2l12.3 -6.8v13.5z"/><path d="M765.1 490.1l12.3 -6.8v13.5z"/><path d="M769.4 494l12.3 -6.8v13.5z"/><path d="M773.5 497.8l12.3 -6.8v13.5z"/><path d="M777.7 496.3l12.3 -6.8v13.5z"/><path d="M781.8 498.4l12.3 -6.8v13.5z"/><path d="M785.8 500.5l12.3 -6.8v13.5z"/><path d="M789.8 491.6l12.3 -6.8v13.5z"/><path d="M793.7 505.6l12.3 -6.8v13.5z"/><path d="M797.6 510.1l12.3 -6.8v13.5z"/><path d="M801.5 506.8l12.3 -6.8v13.5z"/><path d="M805.3 508.5l12.3 -6.8v13.5z"/><path d="M809 501l12.3 -6.8v13.5z"/><path d="M812.8 507.2l12.3 -6.8v13.5z"/><path d="M816.4 506.1l12.3 -6.8v13.5z"/><path d="M820.1 508.4l12.3 -6.8v13.5z"/><path d="M823.7 515.9l12.3 -6.8v13.5z"/><path d="M827.2 511.3l12.3 -6.8v13.5z"/><path d="M830.7 515.8l12.3 -6.8v13.5z"/><path d="M834.2 511.1l12.3 -6.8v13.5z"/><path d="M837.7 519.5l12.3 -6.8v13.5z"/><path d="M841.1 522.3l12.3 -6.8v13.5z"/><path d="M844.5 521.2l12.3 -6.8v13.5z"/><path d="M847.8 523l12.3 -6.8v13.5z"/><path d="M851.1 534.7l12.3 -6.8v13.5z"/><path d="M854.4 524.9l12.3 -6.8v13.5z"/><path d="M857.7 527.4l12.3 -6.8v13.5z"/><path d="M860.9 530.3l12.3 -6.8v13.5z"/><path d="M864.1 540.1l12.3 -6.8v13.5z"/><path d="M867.2 545.7l12.3 -6.8v13.5z"/><path d="M870.3 540.5l12.3 -6.8v13.5z"/><path d="M873.4 538.2l12.3 -6.8v13.5z"/><path d="M876.5 541.2l12.3 -6.8v13.5z"/><path d="M879.5 549.5l12.3 -6.8v13.5z"/><path d="M882.6 543.7l12.3 -6.8v13.5z"/><path d="M885.5 556.1l12.3 -6.8v13.5z"/><path d="M888.5 558.5l12.3 -6.8v13.5z"/><path d="M891.4 555.1l12.3 -6.8v13.5z"/><path d="M894.3 560.5l12.3 -6.8v13.5z"/><path d="M897.2 564.3l12.3 -6.8v13.5z"/><path d="M900.1 571.2l12.3 -6.8v13.5z"/><path d="M902.9 562.9l12.3 -6.8v13.5z"/><path d="M905.7 576.1l12.3 -6.8v13.5z"/><path d="M908.5 572.3l12.3 -6.8v13.5z"/><path d="M911.3 573.7l12.3 -6.8v13.5z"/><path d="M914 580.4l12.3 -6.8v13.5z"/><path d="M916.7 581.1l12.3 -6.8v13.5z"/><path d="M919.4 579.7l12.3 -6.8v13.5z"/><path d="M922.1 579l12.3 -6.8v13.5z"/><path d="M924.7 584.1l12.3 -6.8v13.5z"/><path d="M927.4 597.6l12.3 -6.8v13.5z"/><path d="M930 602.2l12.3 -6.8v13.5z"/><path d="M932.6 598l12.3 -6.8v13.5z"/><path d="M935.1 602.7l12.3 -6.8v13.5z"/><path d="M937.7 596.5l12.3 -6.8v13.5z"/><path d="M940.2 600.6l12.3 -6.8v13.5z"/><path d="M942.7 604.4l12.3 -6.8v13.5z"/><path d="M945.2 599.7l12.3 -6.8v13.5z"/><path d="M947.7 602.1l12.3 -6.8v13.5z"/><path d="M950.2 609.5l12.3 -6.8v13.5z"/><path d="M952.6 609.4l12.3 -6.8v13.5z"/><path d="M955 607.6l12.3 -6.8v13.5z"/><path d="M957.4 617.1l12.3 -6.8v13.5z"/><path d="M959.8 615.7l12.3 -6.8v13.5z"/><path d="M962.2 624.4l12.3 -6.8v13.5z"/><path d="M964.5 621.1l12.3 -6.8v13.5z"/><path d="M966.9 621.5l12.3 -6.8v13.5z"/><path d="M969.2 625.8l12.3 -6.8v13.5z"/><path d="M971.5 626.1l12.3 -6.8v13.5z"/><path d="M973.8 625.4l12.3 -6.8v13.5z"/><path d="M976.1 628.6l12.3 -6.8v13.5z"/><path d="M978.3 636.6l12.3 -6.8v13.5z"/><path d="M980.6 637.9l12.3 -6.8v13.5z"/><path d="M982.8 643.2l12.3 -6.8v13.5z"/><path d="M985 628.6l12.3 -6.8v13.5z"/><path d="M987.2 637.5l12.3 -6.8v13.5z"/><path d="M989.4 639.2l12.3 -6.8v13.5z"/><path d="M991.5 644.2l12.3 -6.8v13.5z"/><path d="M993.7 642.3l12.3 -6.8v13.5z"/><path d="M995.8 643.4l12.3 -6.8v13.5z"/><path d="M998 652.3l12.3 -6.8v13.5z"/><path d="M1000.1 650.3l12.3 -6.8v13.5z"/><path d="M1002.2 644l12.3 -6.8v13.5z"/><path d="M1004.3 659.9l12.3 -6.8v13.5z"/><path d="M1006.3 659.5l12.3 -6.8v13.5z"/><path d="M1008.4 651.7l12.3 -6.8v13.5z"/><path d="M1010.5 661.4l12.3 -6.8v13.5z"/><path d="M1012.5 653.6l12.3 -6.8v13.5z"/><path d="M1014.5 666.4l12.3 -6.8v13.5z"/><path d="M1016.5 660.2l12.3 -6.8v13.5z"/><path d="M1018.5 658.4l12.3 -6.8v13.5z"/><path d="M1020.5 662.7l12.3 -6.8v13.5z"/><path d="M1022.5 661.8l12.3 -6.8v13.5z"/><path d="M1024.4 669l12.3 -6.8v13.5z"/><path d="M1026.4 670.2l12.3 -6.8v13.5z"/><path d="M1028.3 670.6l12.3 -6.8v13.5z"/><path d="M1030.3 668.2l12.3 -6.8v13.5z"/><path d="M1032.2 650l12.3 -6.8v13.5z"/><path d="M1034.1 674.8l12.3 -6.8v13.5z"/><path d="M1036 663.5l12.3 -6.8v13.5z"/><path d="M1037.9 678.3l12.3 -6.8v13.5z"/><path d="M1039.8 685.3l12.3 -6.8v13.5z"/><path d="M1041.6 681l12.3 -6.8v13.5z"/><path d="M1043.5 678l12.3 -6.8v13.5z"/><path d="M1045.3 680.5l12.3 -6.8v13.5z"/><path d="M1047.2 682.1l12.3 -6.8v13.5z"/><path d="M1049 680.5l12.3 -6.8v13.5z"/><path d="M1050.8 681.5l12.3 -6.8v13.5z"/><path d="M1052.6 680.3l12.3 -6.8v13.5z"/><path d="M1054.4 695.6l12.3 -6.8v13.5z"/><path d="M1056.2 688.6l12.3 -6.8v13.5z"/><path d="M1058 696.3l12.3 -6.8v13.5z"/><path d="M1059.7 689.3l12.3 -6.8v13.5z"/><path d="M1061.5 692.6l12.3 -6.8v13.5z"/><path d="M1063.2 692l12.3 -6.8v13.5z"/><path d="M1065 697.5l12.3 -6.8v13.5z"/><path d="M1066.7 701.1l12.3 -6.8v13.5z"/><path d="M1068.4 698.1l12.3 -6.8v13.5z"/><path d="M1070.1 692.9l12.3 -6.8v13.5z"/><path d="M1071.8 693.2l12.3 -6.8v13.5z"/><path d="M1073.5 711.3l12.3 -6.8v13.5z"/><path d="M1075.2 698.8l12.3 -6.8v13.5z"/><path d="M1076.9 699.8l12.3 -6.8v13.5z"/><path d="M1078.5 713.3l12.3 -6.8v13.5z"/><path d="M1080.2 711.6l12.3 -6.8v13.5z"/><path d="M1081.9 708.6l12.3 -6.8v13.5z"/><path d="M1083.5 702.8l12.3 -6.8v13.5z"/><path d="M1085.1 723.6l12.3 -6.8v13.5z"/><path d="M1086.8 710.4l12.3 -6.8v13.5z"/><path d="M1088.4 712.4l12.3 -6.8v13.5z"/><path d="M1090 708.1l12.3 -6.8v13.5z"/><path d="M1091.6 699.9l12.3 -6.8v13.5z"/><path d="M1093.2 701.3l12.3 -6.8v13.5z"/><path d="M1094.8 715l12.3 -6.8v13.5z"/><path d="M1096.4 715.8l12.3 -6.8v13.5z"/><path d="M1097.9 712l12.3 -6.8v13.5z"/><path d="M1099.5 705.9l12.3 -6.8v13.5z"/><path d="M1101.1 704.7l12.3 -6.8v13.5z"/><path d="M1102.6 713.9l12.3 -6.8v13.5z"/><path d="M1104.2 706.3l12.3 -6.8v13.5z"/><path d="M1105.7 725l12.3 -6.8v13.5z"/><path d="M1107.2 727.8l12.3 -6.8v13.5z"/><path d="M1108.8 741.4l12.3 -6.8v13.5z"/><path d="M1110.3 727.2l12.3 -6.8v13.5z"/><path d="M1111.8 716.7l12.3 -6.8v13.5z"/><path d="M1113.3 715.2l12.3 -6.8v13.5z"/><path d="M1114.8 696l12.3 -6.8v13.5z"/><path d="M1116.3 718.8l12.3 -6.8v13.5z"/><path d="M1117.8 722.8l12.3 -6.8v13.5z"/><path d="M1119.2 732.5l12.3 -6.8v13.5z"/><path d="M1120.7 730.4l12.3 -6.8v13.5z"/><path d="M1122.2 731l12.3 -6.8v13.5z"/><path d="M1123.6 728.7l12.3 -6.8v13.5z"/><path d="M1125.1 733l12.3 -6.8v13.5z"/><path d="M1126.5 740l12.3 -6.8v13.5z"/><path d="M1128 720.7l12.3 -6.8v13.5z"/><path d="M1129.4 726.2l12.3 -6.8v13.5z"/><path d="M1130.8 719.4l12.3 -6.8v13.5z"/><path d="M1132.2 744.3l12.3 -6.8v13.5z"/><path d="M1133.6 742.4l12.3 -6.8v13.5z"/><path d="M1135.1 738.8l12.3 -6.8v13.5z"/><path d="M1136.5 723.6l12.3 -6.8v13.5z"/><path d="M1137.9 735.4l12.3 -6.8v13.5z"/><path d="M1139.2 732.7l12.3 -6.8v13.5z"/><path d="M1140.6 735.9l12.3 -6.8v13.5z"/><path d="M1142 734.3l12.3 -6.8v13.5z"/><path d="M1143.4 740.8l12.3 -6.8v13.5z"/><path d="M1144.7 733.8l12.3 -6.8v13.5z"/><path d="M1146.1 744.8l12.3 -6.8v13.5z"/><path d="M1147.5 740.4l12.3 -6.8v13.5z"/><path d="M1148.8 736.5l12.3 -6.8v13.5z"/><path d="M1150.2 738.6l12.3 -6.8v13.5z"/><path d="M1151.5 736.5l12.3 -6.8v13.5z"/><path d="M1152.8 747.6l12.3 -6.8v13.5z"/><path d="M1154.2 739.1l12.3 -6.8v13.5z"/><path d="M1155.5 744.5l12.3 -6.8v13.5z"/><path d="M1156.8 739.3l12.3 -6.8v13.5z"/><path d="M1158.1 730.6l12.3 -6.8v13.5z"/><path d="M1159.4 751.5l12.3 -6.8v13.5z"/><path d="M1160.7 735.3l12.3 -6.8v13.5z"/><path d="M1162 750.8l12.3 -6.8v13.5z"/><path d="M1163.3 749.2l12.3 -6.8v13.5z"/><path d="M1164.6 731.9l12.3 -6.8v13.5z"/><path d="M1165.9 738.5l12.3 -6.8v13.5z"/><path d="M1167.2 742.8l12.3 -6.8v13.5z"/><path d="M1168.4 740.6l12.3 -6.8v13.5z"/><path d="M1169.7 738l12.3 -6.8v13.5z"/><path d="M1171 755.3l12.3 -6.8v13.5z"/><path d="M1172.2 747.3l12.3 -6.8v13.5z"/><path d="M1173.5 753.3l12.3 -6.8v13.5z"/><path d="M1174.7 746.6l12.3 -6.8v13.5z"/><path d="M1176 753.7l12.3 -6.8v13.5z"/><path d="M1177.2 744.8l12.3 -6.8v13.5z"/><path d="M1178.5 751.8l12.3 -6.8v13.5z"/><path d="M1179.7 757.7l12.3 -6.8v13.5z"/><path d="M1180.9 753.4l12.3 -6.8v13.5z"/><path d="M1182.1 749.5l12.3 -6.8v13.5z"/><path d="M1183.3 744.3l12.3 -6.8v13.5z"/><path d="M1184.6 756.1l12.3 -6.8v13.5z"/><path d="M1185.8 758.2l12.3 -6.8v13.5z"/><path d="M1187 753.3l12.3 -6.8v13.5z"/><path d="M1188.2 749.2l12.3 -6.8v13.5z"/><path d="M1189.4 761.5l12.3 -6.8v13.5z"/><path d="M1190.6 779.7l12.3 -6.8v13.5z"/><path d="M1191.7 754.9l12.3 -6.8v13.5z"/><path d="M1192.9 761.2l12.3 -6.8v13.5z"/><path d="M1194.1 762l12.3 -6.8v13.5z"/><path d="M1195.3 735.4l12.3 -6.8v13.5z"/><path d="M1196.4 760.5l12.3 -6.8v13.5z"/><path d="M1197.6 753.3l12.3 -6.8v13.5z"/><path d="M1198.8 773l12.3 -6.8v13.5z"/><path d="M1199.9 758.3l12.3 -6.8v13.5z"/><path d="M1201.1 753.9l12.3 -6.8v13.5z"/><path d="M1202.2 759.4l12.3 -6.8v13.5z"/><path d="M1203.4 763.4l12.3 -6.8v13.5z"/><path d="M1204.5 757.1l12.3 -6.8v13.5z"/><path d="M1205.7 762.2l12.3 -6.8v13.5z"/><path d="M1206.8 750.4l12.3 -6.8v13.5z"/><path d="M1207.9 761.4l12.3 -6.8v13.5z"/><path d="M1209.1 771.2l12.3 -6.8v13.5z"/><path d="M1210.2 782.9l12.3 -6.8v13.5z"/><path d="M1211.3 771.4l12.3 -6.8v13.5z"/><path d="M1212.4 767.7l12.3 -6.8v13.5z"/><path d="M1213.5 776.8l12.3 -6.8v13.5z"/><path d="M1214.6 775.6l12.3 -6.8v13.5z"/><path d="M1215.7 782.2l12.3 -6.8v13.5z"/><path d="M1216.8 777.1l12.3 -6.8v13.5z"/><path d="M1217.9 766l12.3 -6.8v13.5z"/><path d="M1219 770l12.3 -6.8v13.5z"/><path d="M1220.1 769.6l12.3 -6.8v13.5z"/><path d="M1221.2 771.2l12.3 -6.8v13.5z"/><path d="M1222.3 770.6l12.3 -6.8v13.5z"/><path d="M1223.4 761.5l12.3 -6.8v13.5z"/><path d="M1224.4 749.1l12.3 -6.8v13.5z"/><path d="M1225.5 763.4l12.3 -6.8v13.5z"/><path d="M1226.6 750.6l12.3 -6.8v13.5z"/><path d="M1227.6 771.3l12.3 -6.8v13.5z"/><path d="M1228.7 771.1l12.3 -6.8v13.5z"/><path d="M1229.8 755l12.3 -6.8v13.5z"/><path d="M1230.8 778.5l12.3 -6.8v13.5z"/><path d="M1231.9 780.7l12.3 -6.8v13.5z"/><path d="M1232.9 773.5l12.3 -6.8v13.5z"/><path d="M1234 789.3l12.3 -6.8v13.5z"/><path d="M1235 791.8l12.3 -6.8v13.5z"/><path d="M1236 761.8l12.3 -6.8v13.5z"/><path d="M1237.1 784.3l12.3 -6.8v13.5z"/><path d="M1238.1 778.5l12.3 -6.8v13.5z"/><path d="M1239.1 778.5l12.3 -6.8v13.5z"/><path d="M1240.2 783.8l12.3 -6.8v13.5z"/><path d="M1241.2 767.5l12.3 -6.8v13.5z"/><path d="M1242.2 768.9l12.3 -6.8v13.5z"/><path d="M1243.2 766.7l12.3 -6.8v13.5z"/><path d="M1244.2 767.5l12.3 -6.8v13.5z"/><path d="M1245.3 774.3l12.3 -6.8v13.5z"/><path d="M1246.3 760.8l12.3 -6.8v13.5z"/><path d="M1247.3 765l12.3 -6.8v13.5z"/><path d="M1248.3 781.5l12.3 -6.8v13.5z"/><path d="M1249.3 775.1l12.3 -6.8v13.5z"/><path d="M1250.3 779.9l12.3 -6.8v13.5z"/><path d="M1251.3 757l12.3 -6.8v13.5z"/><path d="M1252.2 768.3l12.3 -6.8v13.5z"/><path d="M1253.2 770.8l12.3 -6.8v13.5z"/><path d="M1254.2 776.9l12.3 -6.8v13.5z"/><path d="M1255.2 770.8l12.3 -6.8v13.5z"/><path d="M1256.2 786.4l12.3 -6.8v13.5z"/><path d="M1257.1 776.4l12.3 -6.8v13.5z"/><path d="M1258.1 777.4l12.3 -6.8v13.5z"/><path d="M1259.1 777.5l12.3 -6.8v13.5z"/><path d="M1260.1 784.8l12.3 -6.8v13.5z"/><path d="M1261 772.8l12.3 -6.8v13.5z"/><path d="M1262 789.4l12.3 -6.8v13.5z"/><path d="M1262.9 782.7l12.3 -6.8v13.5z"/><path d="M1263.9 779.7l12.3 -6.8v13.5z"/><path d="M1264.8 778.6l12.3 -6.8v13.5z"/><path d="M1265.8 783.8l12.3 -6.8v13.5z"/><path d="M1266.7 789.1l12.3 -6.8v13.5z"/><path d="M1267.7 788.5l12.3 -6.8v13.5z"/><path d="M1268.6 782.7l12.3 -6.8v13.5z"/><path d="M1269.6 788.1l12.3 -6.8v13.5z"/><path d="M1270.5 780.3l12.3 -6.8v13.5z"/><path d="M1271.4 792.3l12.3 -6.8v13.5z"/><path d="M1272.4 779l12.3 -6.8v13.5z"/><path d="M1273.3 757.6l12.3 -6.8v13.5z"/><path d="M1274.2 793.7l12.3 -6.8v13.5z"/><path d="M1275.1 780.9l12.3 -6.8v13.5z"/><path d="M1276.1 767.5l12.3 -6.8v13.5z"/><path d="M1277 777.9l12.3 -6.8v13.5z"/><path d="M1277.9 770.8l12.3 -6.8v13.5z"/><path d="M1278.8 802.6l12.3 -6.8v13.5z"/><path d="M1279.7 785.7l12.3 -6.8v13.5z"/><path d="M1280.6 763.8l12.3 -6.8v13.5z"/><path d="M1281.5 786.5l12.3 -6.8v13.5z"/><path d="M1282.4 776.6l12.3 -6.8v13.5z"/><path d="M1283.3 801.5l12.3 -6.8v13.5z"/><path d="M1284.2 769.8l12.3 -6.8v13.5z"/><path d="M1285.1 757.1l12.3 -6.8v13.5z"/><path d="M1286 782.1l12.3 -6.8v13.5z"/><path d="M1286.9 777.8l12.3 -6.8v13.5z"/><path d="M1287.8 777.2l12.3 -6.8v13.5z"/><path d="M1288.7 758.6l12.3 -6.8v13.5z"/><path d="M1289.6 786.5l12.3 -6.8v13.5z"/><path d="M1290.5 800.2l12.3 -6.8v13.5z"/><path d="M1291.3 761.5l12.3 -6.8v13.5z"/><path d="M1292.2 795.1l12.3 -6.8v13.5z"/><path d="M1293.1 776.3l12.3 -6.8v13.5z"/><path d="M1294 808.2l12.3 -6.8v13.5z"/><path d="M1294.8 787.5l12.3 -6.8v13.5z"/><path d="M1295.7 780.8l12.3 -6.8v13.5z"/><path d="M1296.6 795.1l12.3 -6.8v13.5z"/><path d="M1297.4 788.9l12.3 -6.8v13.5z"/><path d="M1298.3 776.7l12.3 -6.8v13.5z"/><path d="M1299.2 791.2l12.3 -6.8v13.5z"/><path d="M1300 777.9l12.3 -6.8v13.5z"/><path d="M1300.9 763.9l12.3 -6.8v13.5z"/><path d="M1301.7 806.2l12.3 -6.8v13.5z"/><path d="M1302.6 780l12.3 -6.8v13.5z"/><path d="M1303.4 777.3l12.3 -6.8v13.5z"/><path d="M1304.3 787.9l12.3 -6.8v13.5z"/><path d="M1305.1 767l12.3 -6.8v13.5z"/><path d="M1306 769.3l12.3 -6.8v13.5z"/><path d="M1306.8 779l12.3 -6.8v13.5z"/><path d="M1307.6 778.9l12.3 -6.8v13.5z"/><path d="M1308.5 785.6l12.3 -6.8v13.5z"/><path d="M1309.3 797.4l12.3 -6.8v13.5z"/><path d="M1310.1 779.7l12.3 -6.8v13.5z"/><path d="M1311 790.7l12.3 -6.8v13.5z"/><path d="M1311.8 792l12.3 -6.8v13.5z"/><path d="M1312.6 773.2l12.3 -6.8v13.5z"/><path d="M1313.4 788.1l12.3 -6.8v13.5z"/><path d="M1314.3 775l12.3 -6.8v13.5z"/><path d="M1315.1 797.8l12.3 -6.8v13.5z"/><path d="M1315.9 791l12.3 -6.8v13.5z"/><path d="M1316.7 786.2l12.3 -6.8v13.5z"/><path d="M1317.5 770.9l12.3 -6.8v13.5z"/><path d="M1318.3 787.5l12.3 -6.8v13.5z"/><path d="M1319.1 777.5l12.3 -6.8v13.5z"/><path d="M1319.9 794.4l12.3 -6.8v13.5z"/><path d="M1320.7 785.1l12.3 -6.8v13.5z"/><path d="M1321.6 777.2l12.3 -6.8v13.5z"/><path d="M1322.4 797.1l12.3 -6.8v13.5z"/><path d="M1323.2 794.9l12.3 -6.8v13.5z"/><path d="M1324 780l12.3 -6.8v13.5z"/><path d="M1324.7 800.1l12.3 -6.8v13.5z"/><path d="M1325.5 783.5l12.3 -6.8v13.5z"/><path d="M1326.3 783.4l12.3 -6.8v13.5z"/><path d="M1327.1 788.5l12.3 -6.8v13.5z"/><path d="M1327.9 778.5l12.3 -6.8v13.5z"/><path d="M1328.7 782.1l12.3 -6.8v13.5z"/><path d="M1329.5 785.4l12.3 -6.8v13.5z"/><path d="M1330.3 805l12.3 -6.8v13.5z"/><path d="M1331 804.8l12.3 -6.8v13.5z"/><path d="M1331.8 784.5l12.3 -6.8v13.5z"/><path d="M1332.6 806.3l12.3 -6.8v13.5z"/><path d="M1333.4 787.2l12.3 -6.8v13.5z"/><path d="M1334.1 792.2l12.3 -6.8v13.5z"/><path d="M1334.9 798.1l12.3 -6.8v13.5z"/><path d="M1335.7 791.3l12.3 -6.8v13.5z"/><path d="M1336.5 816.1l12.3 -6.8v13.5z"/><path d="M1337.2 790.9l12.3 -6.8v13.5z"/><path d="M1338 774.2l12.3 -6.8v13.5z"/><path d="M1338.7 803.5l12.3 -6.8v13.5z"/><path d="M1339.5 783.5l12.3 -6.8v13.5z"/><path d="M1340.3 784.8l12.3 -6.8v13.5z"/><path d="M1341 753.3l12.3 -6.8v13.5z"/><path d="M1341.8 800.3l12.3 -6.8v13.5z"/><path d="M1342.5 798.2l12.3 -6.8v13.5z"/><path d="M1343.3 798.1l12.3 -6.8v13.5z"/><path d="M1344 800.3l12.3 -6.8v13.5z"/><path d="M1344.8 808.8l12.3 -6.8v13.5z"/><path d="M1345.5 788.4l12.3 -6.8v13.5z"/><path d="M1346.3 800.1l12.3 -6.8v13.5z"/><path d="M1347 780.2l12.3 -6.8v13.5z"/><path d="M1347.8 784.9l12.3 -6.8v13.5z"/><path d="M1348.5 801.7l12.3 -6.8v13.5z"/><path d="M1349.2 793.9l12.3 -6.8v13.5z"/><path d="M1350 773.5l12.3 -6.8v13.5z"/><path d="M1350.7 793.7l12.3 -6.8v13.5z"/><path d="M1351.5 787.3l12.3 -6.8v13.5z"/><path d="M1352.2 779.8l12.3 -6.8v13.5z"/><path d="M1352.9 794.8l12.3 -6.8v13.5z"/><path d="M1353.6 784.9l12.3 -6.8v13.5z"/><path d="M1354.4 771l12.3 -6.8v13.5z"/><path d="M1355.1 776.5l12.3 -6.8v13.5z"/><path d="M1355.8 811.1l12.3 -6.8v13.5z"/></g>
</g>
<g clip-path="url(#ca)">
<path d="M242.3 201.3L440 380" stroke="#000" stroke-width="8" stroke-linecap="round"/>
<path d="M252.6 241L491.6 415" stroke="#006400" stroke-width="8" stroke-linecap="round"/>
<path d="M251.3 278.2L431.5 429.4" stroke="#ff0000" stroke-width="8" stroke-linecap="round"/>
<path d="M247.4 193.6L493.6 358.6" stroke="#0000a0" stroke-width="8" stroke-linecap="round"/>
<path d="M255.1 176.9L506.2 309.3" stroke="#000" stroke-width="8" stroke-linecap="round"/>
<path d="M247.6 123.5L533.3 256.4" stroke="#ff00ff" stroke-width="8" stroke-linecap="round"/>
<path d="M817.8 424.9L1001.3 640.3" stroke="#000" stroke-width="8" stroke-linecap="round"/>
</g>
<path d="M195.4 8V958.5M193.5 949.5H1363" stroke="#000" stroke-width="3.8" fill="none" stroke-linecap="round"/>
<path d="M175.4 949.5H195.4M185.4 870.6H195.4M185.4 824.4H195.4M185.4 791.7H195.4M185.4 766.3H195.4M185.4 745.5H195.4M185.4 728H195.4M185.4 712.8H195.4M185.4 699.4H195.4M175.4 687.4H195.4M185.4 608.5H195.4M185.4 562.3H195.4M185.4 529.6H195.4M185.4 504.2H195.4M185.4 483.4H195.4M185.4 465.9H195.4M185.4 450.7H195.4M185.4 437.3H195.4M175.4 425.3H195.4M185.4 346.4H195.4M185.4 300.2H195.4M185.4 267.5H195.4M185.4 242.1H195.4M185.4 221.3H195.4M185.4 203.8H195.4M185.4 188.6H195.4M185.4 175.2H195.4M175.4 163.2H195.4M185.4 84.3H195.4M185.4 38.1H195.4M230.3 949.5V968.5M461.1 949.5V959.5M596.1 949.5V959.5M691.8 949.5V959.5M766.1 949.5V959.5M826.8 949.5V959.5M878.2 949.5V959.5M922.6 949.5V959.5M961.8 949.5V959.5M996.9 949.5V968.5M1227.7 949.5V959.5M1362.7 949.5V959.5" stroke="#000" stroke-width="3.2" fill="none" stroke-linecap="round"/>
<g class="tk" text-anchor="end">
<text x="164.5" y="174.2">100</text>
<text x="164.5" y="436.3">10</text>
<text x="164.5" y="698.4">1</text>
<text x="164.5" y="960.5">0.1</text>
</g><g class="tk" text-anchor="middle">
<text x="230.3" y="1010.8">0.1</text>
<text x="996.9" y="1010.8">1</text>
</g>
<text class="ti" style="font-size:49.7px" transform="translate(92.8 612) rotate(-90)">Intensity (a.u.)</text>
<text class="ti" x="671" y="1066.3">q (nm<tspan font-size="25" dy="-26">-1</tspan><tspan dy="26">)</tspan></text>
<path stroke="#000" fill="none" stroke-width="1.3" d="M1106.7 41.2h10.4v10.4h-10.4z"/>
<text x="1172" y="60.9" class="lg">WCS</text>
<path stroke="#f00" fill="none" stroke-width="1.3" d="M1106.3 101.8a5.6 5.6 0 1 0 11.2 0a5.6 5.6 0 1 0 -11.2 0z"/>
<text x="1172" y="116.3" class="lg">CS</text>
<path stroke="#00f" fill="none" stroke-width="1.3" d="M1111.9 150l6.5 13.3h-13z"/>
<text x="1172" y="171.8" class="lg">HACS 50</text>
<path stroke="#f0f" fill="none" stroke-width="1.3" d="M1104.8 207h14.3l-7.2 12.8z"/>
<text x="1172" y="227.3" class="lg">HACS 60</text>
<path stroke="#008000" fill="none" stroke-width="1.3" d="M1111.9 260.7l7 7.5l-7 7.5l-7 -7.5z"/>
<text x="1172" y="282.7" class="lg">HACS 70</text>
<path stroke="#000080" fill="none" stroke-width="1.3" d="M1105.1 323.6l12.3 -6.8v13.5z"/>
<text x="1172" y="338.1" class="lg">HACS 80</text>
<!-- Panel B -->
<g class="mb" clip-path="url(#cb)">
<g stroke="#000"><path d="M189.8 1935h11.4v11.4h-11.4z"/><path d="M193.6 1962.8h11.4v11.4h-11.4z"/><path d="M197.4 1969h11.4v11.4h-11.4z"/><path d="M201.2 1969.5h11.4v11.4h-11.4z"/><path d="M205 1939.7h11.4v11.4h-11.4z"/><path d="M208.8 1954.1h11.4v11.4h-11.4z"/><path d="M212.6 1961.5h11.4v11.4h-11.4z"/><path d="M216.4 1972.1h11.4v11.4h-11.4z"/><path d="M220.2 1949h11.4v11.4h-11.4z"/><path d="M224 1940.7h11.4v11.4h-11.4z"/><path d="M227.8 1975.3h11.4v11.4h-11.4z"/><path d="M231.6 1977h11.4v11.4h-11.4z"/><path d="M235.4 1965.2h11.4v11.4h-11.4z"/><path d="M239.2 1949.5h11.4v11.4h-11.4z"/><path d="M243.1 1965.8h11.4v11.4h-11.4z"/><path d="M246.9 1961h11.4v11.4h-11.4z"/><path d="M250.7 1972.7h11.4v11.4h-11.4z"/><path d="M254.5 1939.3h11.4v11.4h-11.4z"/><path d="M258.3 1961.1h11.4v11.4h-11.4z"/><path d="M262.1 1956.7h11.4v11.4h-11.4z"/><path d="M265.9 1941.5h11.4v11.4h-11.4z"/><path d="M269.7 1962.7h11.4v11.4h-11.4z"/><path d="M273.5 1959.8h11.4v11.4h-11.4z"/><path d="M277.3 1952.7h11.4v11.4h-11.4z"/><path d="M281.1 1965.6h11.4v11.4h-11.4z"/><path d="M284.9 1936.6h11.4v11.4h-11.4z"/><path d="M288.7 1958.4h11.4v11.4h-11.4z"/><path d="M292.5 1966.2h11.4v11.4h-11.4z"/><path d="M296.3 1963.8h11.4v11.4h-11.4z"/><path d="M300.1 1976.5h11.4v11.4h-11.4z"/><path d="M303.9 1940.1h11.4v11.4h-11.4z"/><path d="M307.7 1935.2h11.4v11.4h-11.4z"/><path d="M311.5 1963.1h11.4v11.4h-11.4z"/><path d="M315.3 1966.6h11.4v11.4h-11.4z"/><path d="M319.2 1993.2h11.4v11.4h-11.4z"/><path d="M323 1969.1h11.4v11.4h-11.4z"/><path d="M326.8 1945.3h11.4v11.4h-11.4z"/><path d="M330.6 1972.2h11.4v11.4h-11.4z"/><path d="M334.4 1945.7h11.4v11.4h-11.4z"/><path d="M338.2 1935.5h11.4v11.4h-11.4z"/><path d="M342 2001h11.4v11.4h-11.4z"/><path d="M345.8 1964.5h11.4v11.4h-11.4z"/><path d="M349.6 1970.7h11.4v11.4h-11.4z"/><path d="M353.4 1968.3h11.4v11.4h-11.4z"/><path d="M357.2 1988.3h11.4v11.4h-11.4z"/><path d="M361 1963.8h11.4v11.4h-11.4z"/><path d="M364.8 1978.8h11.4v11.4h-11.4z"/><path d="M368.6 1942.8h11.4v11.4h-11.4z"/><path d="M372.4 1937h11.4v11.4h-11.4z"/><path d="M376.2 1982.1h11.4v11.4h-11.4z"/><path d="M380 1982.9h11.4v11.4h-11.4z"/><path d="M383.8 1967.5h11.4v11.4h-11.4z"/><path d="M387.6 1962.9h11.4v11.4h-11.4z"/><path d="M391.4 1961.9h11.4v11.4h-11.4z"/><path d="M395.3 1948.2h11.4v11.4h-11.4z"/><path d="M399.1 1983.8h11.4v11.4h-11.4z"/><path d="M402.9 1969.6h11.4v11.4h-11.4z"/><path d="M406.7 1967h11.4v11.4h-11.4z"/><path d="M410.5 1964.8h11.4v11.4h-11.4z"/><path d="M414.3 1975.4h11.4v11.4h-11.4z"/><path d="M418.1 1966.6h11.4v11.4h-11.4z"/><path d="M421.9 1970.4h11.4v11.4h-11.4z"/><path d="M425.7 1939.6h11.4v11.4h-11.4z"/><path d="M429.5 1966.4h11.4v11.4h-11.4z"/><path d="M433.3 1993.1h11.4v11.4h-11.4z"/><path d="M437.1 1949.7h11.4v11.4h-11.4z"/><path d="M440.9 1955.8h11.4v11.4h-11.4z"/><path d="M444.7 1972h11.4v11.4h-11.4z"/><path d="M448.5 1973h11.4v11.4h-11.4z"/><path d="M452.3 1967.5h11.4v11.4h-11.4z"/><path d="M456.1 1931.5h11.4v11.4h-11.4z"/><path d="M459.9 1965.3h11.4v11.4h-11.4z"/><path d="M463.7 1938.3h11.4v11.4h-11.4z"/><path d="M467.6 1943.9h11.4v11.4h-11.4z"/><path d="M471.4 1965.7h11.4v11.4h-11.4z"/><path d="M475.2 1952.1h11.4v11.4h-11.4z"/><path d="M479 1969.7h11.4v11.4h-11.4z"/><path d="M482.8 2007h11.4v11.4h-11.4z"/><path d="M486.6 1968.9h11.4v11.4h-11.4z"/><path d="M490.4 1968h11.4v11.4h-11.4z"/><path d="M494.2 1942h11.4v11.4h-11.4z"/><path d="M498 1945.7h11.4v11.4h-11.4z"/><path d="M501.8 1938.7h11.4v11.4h-11.4z"/><path d="M505.6 1947h11.4v11.4h-11.4z"/><path d="M509.4 1937.8h11.4v11.4h-11.4z"/><path d="M513.2 1944.4h11.4v11.4h-11.4z"/><path d="M517 1951.3h11.4v11.4h-11.4z"/><path d="M520.8 1938.4h11.4v11.4h-11.4z"/><path d="M524.6 1931.5h11.4v11.4h-11.4z"/><path d="M528.4 1932.1h11.4v11.4h-11.4z"/><path d="M532.2 1960.9h11.4v11.4h-11.4z"/><path d="M536 1954.3h11.4v11.4h-11.4z"/><path d="M539.8 1969.5h11.4v11.4h-11.4z"/><path d="M543.7 1969.5h11.4v11.4h-11.4z"/><path d="M547.5 1947.1h11.4v11.4h-11.4z"/><path d="M551.3 1963h11.4v11.4h-11.4z"/><path d="M555.1 1929h11.4v11.4h-11.4z"/><path d="M558.9 1988.3h11.4v11.4h-11.4z"/><path d="M562.7 1970.6h11.4v11.4h-11.4z"/><path d="M566.5 1947.8h11.4v11.4h-11.4z"/><path d="M570.3 1932.3h11.4v11.4h-11.4z"/><path d="M574.1 1956.8h11.4v11.4h-11.4z"/><path d="M577.9 1920.5h11.4v11.4h-11.4z"/><path d="M581.7 1937.7h11.4v11.4h-11.4z"/><path d="M585.5 1961.9h11.4v11.4h-11.4z"/><path d="M589.3 1950.8h11.4v11.4h-11.4z"/><path d="M593.1 1941.5h11.4v11.4h-11.4z"/><path d="M596.9 1964.3h11.4v11.4h-11.4z"/><path d="M600.7 1932.2h11.4v11.4h-11.4z"/><path d="M604.5 1953.1h11.4v11.4h-11.4z"/><path d="M608.3 1940.3h11.4v11.4h-11.4z"/><path d="M612.1 1934.5h11.4v11.4h-11.4z"/><path d="M615.9 1955.2h11.4v11.4h-11.4z"/><path d="M619.8 1931.6h11.4v11.4h-11.4z"/><path d="M623.6 1977.7h11.4v11.4h-11.4z"/><path d="M627.4 1937.6h11.4v11.4h-11.4z"/><path d="M631.2 1978.5h11.4v11.4h-11.4z"/><path d="M635 1928.9h11.4v11.4h-11.4z"/><path d="M638.8 1955.9h11.4v11.4h-11.4z"/><path d="M642.6 1926.7h11.4v11.4h-11.4z"/><path d="M646.4 1924.2h11.4v11.4h-11.4z"/><path d="M650.2 1947.9h11.4v11.4h-11.4z"/><path d="M654 1955.9h11.4v11.4h-11.4z"/><path d="M657.8 1924.4h11.4v11.4h-11.4z"/><path d="M661.6 1963.5h11.4v11.4h-11.4z"/><path d="M665.4 1931.5h11.4v11.4h-11.4z"/><path d="M669.2 1946.1h11.4v11.4h-11.4z"/><path d="M673 1949.8h11.4v11.4h-11.4z"/><path d="M676.8 1953h11.4v11.4h-11.4z"/><path d="M680.6 1914.5h11.4v11.4h-11.4z"/><path d="M684.4 1968.9h11.4v11.4h-11.4z"/><path d="M688.2 1951.7h11.4v11.4h-11.4z"/><path d="M692 1935.6h11.4v11.4h-11.4z"/><path d="M695.9 1926h11.4v11.4h-11.4z"/><path d="M699.7 1915.6h11.4v11.4h-11.4z"/><path d="M703.5 1921.3h11.4v11.4h-11.4z"/><path d="M707.3 1952.1h11.4v11.4h-11.4z"/><path d="M711.1 1938.3h11.4v11.4h-11.4z"/><path d="M714.9 1926h11.4v11.4h-11.4z"/><path d="M718.7 1936h11.4v11.4h-11.4z"/><path d="M722.5 1969.8h11.4v11.4h-11.4z"/><path d="M726.3 1939.8h11.4v11.4h-11.4z"/><path d="M730.1 1936.1h11.4v11.4h-11.4z"/><path d="M733.9 1967.4h11.4v11.4h-11.4z"/><path d="M737.7 1953.5h11.4v11.4h-11.4z"/><path d="M741.5 1947.1h11.4v11.4h-11.4z"/><path d="M745.3 1937h11.4v11.4h-11.4z"/><path d="M749.1 1922.2h11.4v11.4h-11.4z"/><path d="M752.9 1928.7h11.4v11.4h-11.4z"/><path d="M756.7 1940.1h11.4v11.4h-11.4z"/><path d="M760.5 1944.6h11.4v11.4h-11.4z"/><path d="M764.3 1954.1h11.4v11.4h-11.4z"/><path d="M768.2 1957.6h11.4v11.4h-11.4z"/><path d="M772 1952.6h11.4v11.4h-11.4z"/><path d="M775.8 1953.1h11.4v11.4h-11.4z"/><path d="M779.6 1934.3h11.4v11.4h-11.4z"/><path d="M783.4 1916.8h11.4v11.4h-11.4z"/><path d="M787.2 1943.7h11.4v11.4h-11.4z"/><path d="M791 1937.6h11.4v11.4h-11.4z"/><path d="M794.8 1943.2h11.4v11.4h-11.4z"/><path d="M798.6 1950.1h11.4v11.4h-11.4z"/><path d="M802.4 1935.4h11.4v11.4h-11.4z"/><path d="M806.2 1938.4h11.4v11.4h-11.4z"/><path d="M810 1955.3h11.4v11.4h-11.4z"/><path d="M813.8 1959.6h11.4v11.4h-11.4z"/><path d="M817.6 1948.1h11.4v11.4h-11.4z"/><path d="M821.4 1967.4h11.4v11.4h-11.4z"/><path d="M825.2 1956.7h11.4v11.4h-11.4z"/><path d="M829 1944.7h11.4v11.4h-11.4z"/><path d="M832.8 1962.5h11.4v11.4h-11.4z"/><path d="M836.6 1992.8h11.4v11.4h-11.4z"/><path d="M840.4 1952.7h11.4v11.4h-11.4z"/><path d="M844.3 1982.9h11.4v11.4h-11.4z"/><path d="M848.1 1986.7h11.4v11.4h-11.4z"/><path d="M851.9 1989h11.4v11.4h-11.4z"/><path d="M855.7 1952.3h11.4v11.4h-11.4z"/><path d="M859.5 1998h11.4v11.4h-11.4z"/><path d="M863.3 1968h11.4v11.4h-11.4z"/><path d="M867.1 1962.5h11.4v11.4h-11.4z"/><path d="M870.9 1963.3h11.4v11.4h-11.4z"/><path d="M874.7 1976.9h11.4v11.4h-11.4z"/><path d="M878.5 1968.5h11.4v11.4h-11.4z"/><path d="M882.3 1965.3h11.4v11.4h-11.4z"/><path d="M886.1 1989h11.4v11.4h-11.4z"/><path d="M889.9 1957.3h11.4v11.4h-11.4z"/><path d="M893.7 1952.5h11.4v11.4h-11.4z"/><path d="M897.5 1982.1h11.4v11.4h-11.4z"/><path d="M901.3 1980.9h11.4v11.4h-11.4z"/><path d="M905.1 1987.3h11.4v11.4h-11.4z"/><path d="M908.9 1952.9h11.4v11.4h-11.4z"/><path d="M912.7 1987.5h11.4v11.4h-11.4z"/><path d="M916.5 1978.1h11.4v11.4h-11.4z"/><path d="M920.4 1998.8h11.4v11.4h-11.4z"/><path d="M924.2 1950.8h11.4v11.4h-11.4z"/><path d="M928 1974.5h11.4v11.4h-11.4z"/><path d="M931.8 1966.7h11.4v11.4h-11.4z"/><path d="M935.6 1945.9h11.4v11.4h-11.4z"/><path d="M939.4 1960.1h11.4v11.4h-11.4z"/><path d="M943.2 1989.8h11.4v11.4h-11.4z"/><path d="M947 1964.4h11.4v11.4h-11.4z"/><path d="M950.8 1960.5h11.4v11.4h-11.4z"/><path d="M954.6 1986.2h11.4v11.4h-11.4z"/><path d="M958.4 1988.3h11.4v11.4h-11.4z"/><path d="M962.2 1988.5h11.4v11.4h-11.4z"/><path d="M966 1960.2h11.4v11.4h-11.4z"/><path d="M969.8 1972.1h11.4v11.4h-11.4z"/><path d="M973.6 1989.7h11.4v11.4h-11.4z"/><path d="M977.4 1962.9h11.4v11.4h-11.4z"/><path d="M981.2 1961.6h11.4v11.4h-11.4z"/><path d="M985 1987.1h11.4v11.4h-11.4z"/><path d="M988.8 1999h11.4v11.4h-11.4z"/><path d="M992.7 1955.8h11.4v11.4h-11.4z"/><path d="M996.5 1932.9h11.4v11.4h-11.4z"/><path d="M1000.3 1951.6h11.4v11.4h-11.4z"/><path d="M1004.1 1958.9h11.4v11.4h-11.4z"/><path d="M1007.9 1973.2h11.4v11.4h-11.4z"/><path d="M1011.7 1985.5h11.4v11.4h-11.4z"/><path d="M1015.5 1973.6h11.4v11.4h-11.4z"/><path d="M1019.3 1965.1h11.4v11.4h-11.4z"/><path d="M1023.1 1979h11.4v11.4h-11.4z"/><path d="M1026.9 1961.5h11.4v11.4h-11.4z"/><path d="M1030.7 1976.4h11.4v11.4h-11.4z"/><path d="M1034.5 1967.2h11.4v11.4h-11.4z"/><path d="M1038.3 2020.7h11.4v11.4h-11.4z"/><path d="M1042.1 1991.2h11.4v11.4h-11.4z"/><path d="M1045.9 1965.1h11.4v11.4h-11.4z"/><path d="M1049.7 1962.8h11.4v11.4h-11.4z"/><path d="M1053.5 1972h11.4v11.4h-11.4z"/><path d="M1057.3 1953h11.4v11.4h-11.4z"/><path d="M1061.1 1967.9h11.4v11.4h-11.4z"/><path d="M1064.9 1968.1h11.4v11.4h-11.4z"/><path d="M1068.8 1994.4h11.4v11.4h-11.4z"/><path d="M1072.6 1973.7h11.4v11.4h-11.4z"/><path d="M1076.4 1968.2h11.4v11.4h-11.4z"/><path d="M1080.2 1959.7h11.4v11.4h-11.4z"/><path d="M1084 1962.6h11.4v11.4h-11.4z"/><path d="M1087.8 1980.7h11.4v11.4h-11.4z"/><path d="M1091.6 1978.6h11.4v11.4h-11.4z"/><path d="M1095.4 2000.3h11.4v11.4h-11.4z"/><path d="M1099.2 1971.8h11.4v11.4h-11.4z"/><path d="M1103 1998.5h11.4v11.4h-11.4z"/><path d="M1106.8 1985.4h11.4v11.4h-11.4z"/><path d="M1110.6 1980.9h11.4v11.4h-11.4z"/><path d="M1114.4 1948.5h11.4v11.4h-11.4z"/><path d="M1118.2 1959.7h11.4v11.4h-11.4z"/><path d="M1122 1991.9h11.4v11.4h-11.4z"/><path d="M1125.8 2002.1h11.4v11.4h-11.4z"/><path d="M1129.6 1982.8h11.4v11.4h-11.4z"/><path d="M1133.4 1991.3h11.4v11.4h-11.4z"/><path d="M1137.2 1972.3h11.4v11.4h-11.4z"/><path d="M1141 1972.6h11.4v11.4h-11.4z"/><path d="M1144.9 1967.6h11.4v11.4h-11.4z"/><path d="M1148.7 1993.5h11.4v11.4h-11.4z"/><path d="M1152.5 1983.1h11.4v11.4h-11.4z"/><path d="M1156.3 1973.6h11.4v11.4h-11.4z"/><path d="M1160.1 1971.8h11.4v11.4h-11.4z"/><path d="M1163.9 1985.6h11.4v11.4h-11.4z"/><path d="M1167.7 1981.6h11.4v11.4h-11.4z"/><path d="M1171.5 1962.8h11.4v11.4h-11.4z"/><path d="M1175.3 2003.3h11.4v11.4h-11.4z"/><path d="M1179.1 1979.6h11.4v11.4h-11.4z"/><path d="M1182.9 1975.4h11.4v11.4h-11.4z"/><path d="M1186.7 1998.5h11.4v11.4h-11.4z"/><path d="M1190.5 1991h11.4v11.4h-11.4z"/><path d="M1194.3 1972.9h11.4v11.4h-11.4z"/><path d="M1198.1 1982.5h11.4v11.4h-11.4z"/><path d="M1201.9 1956.4h11.4v11.4h-11.4z"/><path d="M1205.7 1962.9h11.4v11.4h-11.4z"/><path d="M1209.5 1936.6h11.4v11.4h-11.4z"/><path d="M1213.3 1991.9h11.4v11.4h-11.4z"/><path d="M1217.1 1941.6h11.4v11.4h-11.4z"/><path d="M1221 1982.5h11.4v11.4h-11.4z"/><path d="M1224.8 1957.9h11.4v11.4h-11.4z"/><path d="M1228.6 1955.2h11.4v11.4h-11.4z"/><path d="M1232.4 1967.4h11.4v11.4h-11.4z"/><path d="M1236.2 1974.4h11.4v11.4h-11.4z"/><path d="M1240 1979.5h11.4v11.4h-11.4z"/><path d="M1243.8 1997.7h11.4v11.4h-11.4z"/><path d="M1247.6 1974.7h11.4v11.4h-11.4z"/><path d="M1251.4 1982.7h11.4v11.4h-11.4z"/><path d="M1255.2 1958.6h11.4v11.4h-11.4z"/><path d="M1259 1979.2h11.4v11.4h-11.4z"/><path d="M1262.8 1969.9h11.4v11.4h-11.4z"/><path d="M1266.6 1959.6h11.4v11.4h-11.4z"/><path d="M1270.4 1965.1h11.4v11.4h-11.4z"/><path d="M1274.2 1965.3h11.4v11.4h-11.4z"/><path d="M1278 1969h11.4v11.4h-11.4z"/><path d="M1281.8 1971.9h11.4v11.4h-11.4z"/><path d="M1285.6 1957h11.4v11.4h-11.4z"/><path d="M1289.4 1952.9h11.4v11.4h-11.4z"/><path d="M1293.3 1976.3h11.4v11.4h-11.4z"/><path d="M1297.1 1936.8h11.4v11.4h-11.4z"/><path d="M1300.9 1953.6h11.4v11.4h-11.4z"/><path d="M1304.7 1987.8h11.4v11.4h-11.4z"/><path d="M1308.5 1919.2h11.4v11.4h-11.4z"/><path d="M1312.3 1950.9h11.4v11.4h-11.4z"/><path d="M1316.1 1972.5h11.4v11.4h-11.4z"/><path d="M1319.9 1934.6h11.4v11.4h-11.4z"/><path d="M1323.7 2002.1h11.4v11.4h-11.4z"/><path d="M1327.5 1918.6h11.4v11.4h-11.4z"/><path d="M1331.3 1982.6h11.4v11.4h-11.4z"/><path d="M1335.1 1984h11.4v11.4h-11.4z"/><path d="M1338.9 1973.3h11.4v11.4h-11.4z"/><path d="M1342.7 1954.6h11.4v11.4h-11.4z"/><path d="M1346.5 1963.4h11.4v11.4h-11.4z"/><path d="M1350.3 1942.8h11.4v11.4h-11.4z"/><path d="M1354.1 1969.6h11.4v11.4h-11.4z"/></g>
<g stroke="#f00"><path d="M189.3 1971a6.2 6.2 0 1 0 12.3 0a6.2 6.2 0 1 0 -12.3 0z"/><path d="M193.1 1985.5a6.2 6.2 0 1 0 12.3 0a6.2 6.2 0 1 0 -12.3 0z"/><path d="M197 2007.3a6.2 6.2 0 1 0 12.3 0a6.2 6.2 0 1 0 -12.3 0z"/><path d="M200.8 1971.6a6.2 6.2 0 1 0 12.3 0a6.2 6.2 0 1 0 -12.3 0z"/><path d="M204.6 1984.6a6.2 6.2 0 1 0 12.3 0a6.2 6.2 0 1 0 -12.3 0z"/><path d="M208.4 1993.7a6.2 6.2 0 1 0 12.3 0a6.2 6.2 0 1 0 -12.3 0z"/><path d="M212.2 1968.3a6.2 6.2 0 1 0 12.3 0a6.2 6.2 0 1 0 -12.3 0z"/><path d="M216 2011.1a6.2 6.2 0 1 0 12.3 0a6.2 6.2 0 1 0 -12.3 0z"/><path d="M219.8 1997.3a6.2 6.2 0 1 0 12.3 0a6.2 6.2 0 1 0 -12.3 0z"/><path d="M223.6 1965.9a6.2 6.2 0 1 0 12.3 0a6.2 6.2 0 1 0 -12.3 0z"/><path d="M227.4 1991a6.2 6.2 0 1 0 12.3 0a6.2 6.2 0 1 0 -12.3 0z"/><path d="M231.2 1978.8a6.2 6.2 0 1 0 12.3 0a6.2 6.2 0 1 0 -12.3 0z"/><path d="M235 1981a6.2 6.2 0 1 0 12.3 0a6.2 6.2 0 1 0 -12.3 0z"/><path d="M238.8 1993.7a6.2 6.2 0 1 0 12.3 0a6.2 6.2 0 1 0 -12.3 0z"/><path d="M242.6 1980.5a6.2 6.2 0 1 0 12.3 0a6.2 6.2 0 1 0 -12.3 0z"/><path d="M246.4 2009.1a6.2 6.2 0 1 0 12.3 0a6.2 6.2 0 1 0 -12.3 0z"/><path d="M250.2 1980.9a6.2 6.2 0 1 0 12.3 0a6.2 6.2 0 1 0 -12.3 0z"/><path d="M254 2009.8a6.2 6.2 0 1 0 12.3 0a6.2 6.2 0 1 0 -12.3 0z"/><path d="M257.8 1992.5a6.2 6.2 0 1 0 12.3 0a6.2 6.2 0 1 0 -12.3 0z"/><path d="M261.6 2008a6.2 6.2 0 1 0 12.3 0a6.2 6.2 0 1 0 -12.3 0z"/><path d="M265.4 1984.4a6.2 6.2 0 1 0 12.3 0a6.2 6.2 0 1 0 -12.3 0z"/><path d="M269.2 1985.2a6.2 6.2 0 1 0 12.3 0a6.2 6.2 0 1 0 -12.3 0z"/><path d="M273.1 1974.4a6.2 6.2 0 1 0 12.3 0a6.2 6.2 0 1 0 -12.3 0z"/><path d="M276.9 2004a6.2 6.2 0 1 0 12.3 0a6.2 6.2 0 1 0 -12.3 0z"/><path d="M280.7 2010.3a6.2 6.2 0 1 0 12.3 0a6.2 6.2 0 1 0 -12.3 0z"/><path d="M284.5 2030.6a6.2 6.2 0 1 0 12.3 0a6.2 6.2 0 1 0 -12.3 0z"/><path d="M288.3 2016.7a6.2 6.2 0 1 0 12.3 0a6.2 6.2 0 1 0 -12.3 0z"/><path d="M292.1 1999.2a6.2 6.2 0 1 0 12.3 0a6.2 6.2 0 1 0 -12.3 0z"/><path d="M295.9 1991.4a6.2 6.2 0 1 0 12.3 0a6.2 6.2 0 1 0 -12.3 0z"/><path d="M299.7 2001.6a6.2 6.2 0 1 0 12.3 0a6.2 6.2 0 1 0 -12.3 0z"/><path d="M303.5 1994.5a6.2 6.2 0 1 0 12.3 0a6.2 6.2 0 1 0 -12.3 0z"/><path d="M307.3 2019.9a6.2 6.2 0 1 0 12.3 0a6.2 6.2 0 1 0 -12.3 0z"/><path d="M311.1 2011a6.2 6.2 0 1 0 12.3 0a6.2 6.2 0 1 0 -12.3 0z"/><path d="M314.9 1980.8a6.2 6.2 0 1 0 12.3 0a6.2 6.2 0 1 0 -12.3 0z"/><path d="M318.7 1983.3a6.2 6.2 0 1 0 12.3 0a6.2 6.2 0 1 0 -12.3 0z"/><path d="M322.5 2018.2a6.2 6.2 0 1 0 12.3 0a6.2 6.2 0 1 0 -12.3 0z"/><path d="M326.3 2000.2a6.2 6.2 0 1 0 12.3 0a6.2 6.2 0 1 0 -12.3 0z"/><path d="M330.1 1991.1a6.2 6.2 0 1 0 12.3 0a6.2 6.2 0 1 0 -12.3 0z"/><path d="M333.9 2015.2a6.2 6.2 0 1 0 12.3 0a6.2 6.2 0 1 0 -12.3 0z"/><path d="M337.7 1988.4a6.2 6.2 0 1 0 12.3 0a6.2 6.2 0 1 0 -12.3 0z"/><path d="M341.5 1990.2a6.2 6.2 0 1 0 12.3 0a6.2 6.2 0 1 0 -12.3 0z"/><path d="M345.3 1987.2a6.2 6.2 0 1 0 12.3 0a6.2 6.2 0 1 0 -12.3 0z"/><path d="M349.2 1961.7a6.2 6.2 0 1 0 12.3 0a6.2 6.2 0 1 0 -12.3 0z"/><path d="M353 2009.7a6.2 6.2 0 1 0 12.3 0a6.2 6.2 0 1 0 -12.3 0z"/><path d="M356.8 1974.4a6.2 6.2 0 1 0 12.3 0a6.2 6.2 0 1 0 -12.3 0z"/><path d="M360.6 1985.3a6.2 6.2 0 1 0 12.3 0a6.2 6.2 0 1 0 -12.3 0z"/><path d="M364.4 1982.4a6.2 6.2 0 1 0 12.3 0a6.2 6.2 0 1 0 -12.3 0z"/><path d="M368.2 2007.4a6.2 6.2 0 1 0 12.3 0a6.2 6.2 0 1 0 -12.3 0z"/><path d="M372 1993.8a6.2 6.2 0 1 0 12.3 0a6.2 6.2 0 1 0 -12.3 0z"/><path d="M375.8 1995.3a6.2 6.2 0 1 0 12.3 0a6.2 6.2 0 1 0 -12.3 0z"/><path d="M379.6 1966.4a6.2 6.2 0 1 0 12.3 0a6.2 6.2 0 1 0 -12.3 0z"/><path d="M383.4 1993.5a6.2 6.2 0 1 0 12.3 0a6.2 6.2 0 1 0 -12.3 0z"/><path d="M387.2 1969.9a6.2 6.2 0 1 0 12.3 0a6.2 6.2 0 1 0 -12.3 0z"/><path d="M391 2000.2a6.2 6.2 0 1 0 12.3 0a6.2 6.2 0 1 0 -12.3 0z"/><path d="M394.8 2001.2a6.2 6.2 0 1 0 12.3 0a6.2 6.2 0 1 0 -12.3 0z"/><path d="M398.6 1994.6a6.2 6.2 0 1 0 12.3 0a6.2 6.2 0 1 0 -12.3 0z"/><path d="M402.4 2029.5a6.2 6.2 0 1 0 12.3 0a6.2 6.2 0 1 0 -12.3 0z"/><path d="M406.2 2003.6a6.2 6.2 0 1 0 12.3 0a6.2 6.2 0 1 0 -12.3 0z"/><path d="M410 2004.6a6.2 6.2 0 1 0 12.3 0a6.2 6.2 0 1 0 -12.3 0z"/><path d="M413.8 1996.8a6.2 6.2 0 1 0 12.3 0a6.2 6.2 0 1 0 -12.3 0z"/><path d="M417.6 1991a6.2 6.2 0 1 0 12.3 0a6.2 6.2 0 1 0 -12.3 0z"/><path d="M421.4 2010.6a6.2 6.2 0 1 0 12.3 0a6.2 6.2 0 1 0 -12.3 0z"/><path d="M425.3 2012.8a6.2 6.2 0 1 0 12.3 0a6.2 6.2 0 1 0 -12.3 0z"/><path d="M429.1 1971.8a6.2 6.2 0 1 0 12.3 0a6.2 6.2 0 1 0 -12.3 0z"/><path d="M432.9 2011.8a6.2 6.2 0 1 0 12.3 0a6.2 6.2 0 1 0 -12.3 0z"/><path d="M436.7 2002.5a6.2 6.2 0 1 0 12.3 0a6.2 6.2 0 1 0 -12.3 0z"/><path d="M440.5 2009.9a6.2 6.2 0 1 0 12.3 0a6.2 6.2 0 1 0 -12.3 0z"/><path d="M444.3 2001.4a6.2 6.2 0 1 0 12.3 0a6.2 6.2 0 1 0 -12.3 0z"/><path d="M448.1 1972.2a6.2 6.2 0 1 0 12.3 0a6.2 6.2 0 1 0 -12.3 0z"/><path d="M451.9 1973.3a6.2 6.2 0 1 0 12.3 0a6.2 6.2 0 1 0 -12.3 0z"/><path d="M455.7 2024.2a6.2 6.2 0 1 0 12.3 0a6.2 6.2 0 1 0 -12.3 0z"/><path d="M459.5 1997.3a6.2 6.2 0 1 0 12.3 0a6.2 6.2 0 1 0 -12.3 0z"/><path d="M463.3 1968.8a6.2 6.2 0 1 0 12.3 0a6.2 6.2 0 1 0 -12.3 0z"/><path d="M467.1 1998.7a6.2 6.2 0 1 0 12.3 0a6.2 6.2 0 1 0 -12.3 0z"/><path d="M470.9 1986.5a6.2 6.2 0 1 0 12.3 0a6.2 6.2 0 1 0 -12.3 0z"/><path d="M474.7 1961.2a6.2 6.2 0 1 0 12.3 0a6.2 6.2 0 1 0 -12.3 0z"/><path d="M478.5 1953.5a6.2 6.2 0 1 0 12.3 0a6.2 6.2 0 1 0 -12.3 0z"/><path d="M482.3 1965.1a6.2 6.2 0 1 0 12.3 0a6.2 6.2 0 1 0 -12.3 0z"/><path d="M486.1 1996.9a6.2 6.2 0 1 0 12.3 0a6.2 6.2 0 1 0 -12.3 0z"/><path d="M489.9 1991.3a6.2 6.2 0 1 0 12.3 0a6.2 6.2 0 1 0 -12.3 0z"/><path d="M493.7 1987.8a6.2 6.2 0 1 0 12.3 0a6.2 6.2 0 1 0 -12.3 0z"/><path d="M497.6 1996.6a6.2 6.2 0 1 0 12.3 0a6.2 6.2 0 1 0 -12.3 0z"/><path d="M501.4 2001.7a6.2 6.2 0 1 0 12.3 0a6.2 6.2 0 1 0 -12.3 0z"/><path d="M505.2 1955.5a6.2 6.2 0 1 0 12.3 0a6.2 6.2 0 1 0 -12.3 0z"/><path d="M509 1985.8a6.2 6.2 0 1 0 12.3 0a6.2 6.2 0 1 0 -12.3 0z"/><path d="M512.8 1976.6a6.2 6.2 0 1 0 12.3 0a6.2 6.2 0 1 0 -12.3 0z"/><path d="M516.6 1969.4a6.2 6.2 0 1 0 12.3 0a6.2 6.2 0 1 0 -12.3 0z"/><path d="M520.4 1980.8a6.2 6.2 0 1 0 12.3 0a6.2 6.2 0 1 0 -12.3 0z"/><path d="M524.2 1987.8a6.2 6.2 0 1 0 12.3 0a6.2 6.2 0 1 0 -12.3 0z"/><path d="M528 1985.1a6.2 6.2 0 1 0 12.3 0a6.2 6.2 0 1 0 -12.3 0z"/><path d="M531.8 1964.6a6.2 6.2 0 1 0 12.3 0a6.2 6.2 0 1 0 -12.3 0z"/><path d="M533.8 2030a6.2 6.2 0 1 0 12.3 0a6.2 6.2 0 1 0 -12.3 0z"/><path d="M535.6 1980.9a6.2 6.2 0 1 0 12.3 0a6.2 6.2 0 1 0 -12.3 0z"/><path d="M539.4 2023.1a6.2 6.2 0 1 0 12.3 0a6.2 6.2 0 1 0 -12.3 0z"/><path d="M543.2 1970.6a6.2 6.2 0 1 0 12.3 0a6.2 6.2 0 1 0 -12.3 0z"/><path d="M547 1959.6a6.2 6.2 0 1 0 12.3 0a6.2 6.2 0 1 0 -12.3 0z"/><path d="M548.8 2040a6.2 6.2 0 1 0 12.3 0a6.2 6.2 0 1 0 -12.3 0z"/><path d="M550.8 1992.7a6.2 6.2 0 1 0 12.3 0a6.2 6.2 0 1 0 -12.3 0z"/><path d="M553.8 2050a6.2 6.2 0 1 0 12.3 0a6.2 6.2 0 1 0 -12.3 0z"/><path d="M554.6 1997.9a6.2 6.2 0 1 0 12.3 0a6.2 6.2 0 1 0 -12.3 0z"/><path d="M556.8 2060a6.2 6.2 0 1 0 12.3 0a6.2 6.2 0 1 0 -12.3 0z"/><path d="M558.4 1995.4a6.2 6.2 0 1 0 12.3 0a6.2 6.2 0 1 0 -12.3 0z"/><path d="M562.2 1968.2a6.2 6.2 0 1 0 12.3 0a6.2 6.2 0 1 0 -12.3 0z"/><path d="M566 2003.9a6.2 6.2 0 1 0 12.3 0a6.2 6.2 0 1 0 -12.3 0z"/><path d="M569.8 1973.3a6.2 6.2 0 1 0 12.3 0a6.2 6.2 0 1 0 -12.3 0z"/><path d="M573.7 1967.1a6.2 6.2 0 1 0 12.3 0a6.2 6.2 0 1 0 -12.3 0z"/><path d="M577.5 1975.8a6.2 6.2 0 1 0 12.3 0a6.2 6.2 0 1 0 -12.3 0z"/><path d="M581.3 1984a6.2 6.2 0 1 0 12.3 0a6.2 6.2 0 1 0 -12.3 0z"/><path d="M585.1 1997.8a6.2 6.2 0 1 0 12.3 0a6.2 6.2 0 1 0 -12.3 0z"/><path d="M588.9 1996a6.2 6.2 0 1 0 12.3 0a6.2 6.2 0 1 0 -12.3 0z"/><path d="M592.7 1984.7a6.2 6.2 0 1 0 12.3 0a6.2 6.2 0 1 0 -12.3 0z"/><path d="M596.5 2000.7a6.2 6.2 0 1 0 12.3 0a6.2 6.2 0 1 0 -12.3 0z"/><path d="M600.3 1985.9a6.2 6.2 0 1 0 12.3 0a6.2 6.2 0 1 0 -12.3 0z"/><path d="M604.1 1999.5a6.2 6.2 0 1 0 12.3 0a6.2 6.2 0 1 0 -12.3 0z"/><path d="M607.9 1960.2a6.2 6.2 0 1 0 12.3 0a6.2 6.2 0 1 0 -12.3 0z"/><path d="M611.7 1957a6.2 6.2 0 1 0 12.3 0a6.2 6.2 0 1 0 -12.3 0z"/><path d="M615.5 1996.7a6.2 6.2 0 1 0 12.3 0a6.2 6.2 0 1 0 -12.3 0z"/><path d="M619.3 1959.6a6.2 6.2 0 1 0 12.3 0a6.2 6.2 0 1 0 -12.3 0z"/><path d="M623.1 1977.8a6.2 6.2 0 1 0 12.3 0a6.2 6.2 0 1 0 -12.3 0z"/><path d="M626.9 1981a6.2 6.2 0 1 0 12.3 0a6.2 6.2 0 1 0 -12.3 0z"/><path d="M630.7 1974.1a6.2 6.2 0 1 0 12.3 0a6.2 6.2 0 1 0 -12.3 0z"/><path d="M634.5 1974.4a6.2 6.2 0 1 0 12.3 0a6.2 6.2 0 1 0 -12.3 0z"/><path d="M638.3 2005.6a6.2 6.2 0 1 0 12.3 0a6.2 6.2 0 1 0 -12.3 0z"/><path d="M638.8 2040a6.2 6.2 0 1 0 12.3 0a6.2 6.2 0 1 0 -12.3 0z"/><path d="M642.1 1938.6a6.2 6.2 0 1 0 12.3 0a6.2 6.2 0 1 0 -12.3 0z"/><path d="M645.9 1996.4a6.2 6.2 0 1 0 12.3 0a6.2 6.2 0 1 0 -12.3 0z"/><path d="M649.8 2020.1a6.2 6.2 0 1 0 12.3 0a6.2 6.2 0 1 0 -12.3 0z"/><path d="M653.6 1981.2a6.2 6.2 0 1 0 12.3 0a6.2 6.2 0 1 0 -12.3 0z"/><path d="M657.4 1980.2a6.2 6.2 0 1 0 12.3 0a6.2 6.2 0 1 0 -12.3 0z"/><path d="M661.2 1992.6a6.2 6.2 0 1 0 12.3 0a6.2 6.2 0 1 0 -12.3 0z"/><path d="M665 2011.1a6.2 6.2 0 1 0 12.3 0a6.2 6.2 0 1 0 -12.3 0z"/><path d="M668.8 1959.6a6.2 6.2 0 1 0 12.3 0a6.2 6.2 0 1 0 -12.3 0z"/><path d="M672.6 1981a6.2 6.2 0 1 0 12.3 0a6.2 6.2 0 1 0 -12.3 0z"/><path d="M676.4 1976.1a6.2 6.2 0 1 0 12.3 0a6.2 6.2 0 1 0 -12.3 0z"/><path d="M680.2 1988.5a6.2 6.2 0 1 0 12.3 0a6.2 6.2 0 1 0 -12.3 0z"/><path d="M684 1981.4a6.2 6.2 0 1 0 12.3 0a6.2 6.2 0 1 0 -12.3 0z"/><path d="M687.8 1989.6a6.2 6.2 0 1 0 12.3 0a6.2 6.2 0 1 0 -12.3 0z"/><path d="M691.6 1971a6.2 6.2 0 1 0 12.3 0a6.2 6.2 0 1 0 -12.3 0z"/><path d="M695.4 1978.7a6.2 6.2 0 1 0 12.3 0a6.2 6.2 0 1 0 -12.3 0z"/><path d="M699.2 1966.2a6.2 6.2 0 1 0 12.3 0a6.2 6.2 0 1 0 -12.3 0z"/><path d="M703 1966a6.2 6.2 0 1 0 12.3 0a6.2 6.2 0 1 0 -12.3 0z"/><path d="M706.8 1974.6a6.2 6.2 0 1 0 12.3 0a6.2 6.2 0 1 0 -12.3 0z"/><path d="M710.6 1974.3a6.2 6.2 0 1 0 12.3 0a6.2 6.2 0 1 0 -12.3 0z"/><path d="M714.4 1956.5a6.2 6.2 0 1 0 12.3 0a6.2 6.2 0 1 0 -12.3 0z"/><path d="M718.2 2002.9a6.2 6.2 0 1 0 12.3 0a6.2 6.2 0 1 0 -12.3 0z"/><path d="M722.1 1973.6a6.2 6.2 0 1 0 12.3 0a6.2 6.2 0 1 0 -12.3 0z"/><path d="M725.9 1952.1a6.2 6.2 0 1 0 12.3 0a6.2 6.2 0 1 0 -12.3 0z"/><path d="M729.7 1994a6.2 6.2 0 1 0 12.3 0a6.2 6.2 0 1 0 -12.3 0z"/><path d="M733.5 1962.3a6.2 6.2 0 1 0 12.3 0a6.2 6.2 0 1 0 -12.3 0z"/><path d="M737.3 1983.4a6.2 6.2 0 1 0 12.3 0a6.2 6.2 0 1 0 -12.3 0z"/><path d="M741.1 1974.2a6.2 6.2 0 1 0 12.3 0a6.2 6.2 0 1 0 -12.3 0z"/><path d="M744.9 1978.4a6.2 6.2 0 1 0 12.3 0a6.2 6.2 0 1 0 -12.3 0z"/><path d="M748.7 1976.8a6.2 6.2 0 1 0 12.3 0a6.2 6.2 0 1 0 -12.3 0z"/><path d="M752.5 1963.8a6.2 6.2 0 1 0 12.3 0a6.2 6.2 0 1 0 -12.3 0z"/><path d="M756.3 1974a6.2 6.2 0 1 0 12.3 0a6.2 6.2 0 1 0 -12.3 0z"/><path d="M760.1 2007.6a6.2 6.2 0 1 0 12.3 0a6.2 6.2 0 1 0 -12.3 0z"/><path d="M763.9 1934.7a6.2 6.2 0 1 0 12.3 0a6.2 6.2 0 1 0 -12.3 0z"/><path d="M767.7 1973.6a6.2 6.2 0 1 0 12.3 0a6.2 6.2 0 1 0 -12.3 0z"/><path d="M771.5 1979.6a6.2 6.2 0 1 0 12.3 0a6.2 6.2 0 1 0 -12.3 0z"/><path d="M775.3 1954.3a6.2 6.2 0 1 0 12.3 0a6.2 6.2 0 1 0 -12.3 0z"/><path d="M779.1 1949.3a6.2 6.2 0 1 0 12.3 0a6.2 6.2 0 1 0 -12.3 0z"/><path d="M782.9 2009.7a6.2 6.2 0 1 0 12.3 0a6.2 6.2 0 1 0 -12.3 0z"/><path d="M786.7 1967.2a6.2 6.2 0 1 0 12.3 0a6.2 6.2 0 1 0 -12.3 0z"/><path d="M790.5 2009.3a6.2 6.2 0 1 0 12.3 0a6.2 6.2 0 1 0 -12.3 0z"/><path d="M794.3 1983.5a6.2 6.2 0 1 0 12.3 0a6.2 6.2 0 1 0 -12.3 0z"/><path d="M798.2 1976.1a6.2 6.2 0 1 0 12.3 0a6.2 6.2 0 1 0 -12.3 0z"/><path d="M802 1983.3a6.2 6.2 0 1 0 12.3 0a6.2 6.2 0 1 0 -12.3 0z"/><path d="M805.8 1986.4a6.2 6.2 0 1 0 12.3 0a6.2 6.2 0 1 0 -12.3 0z"/><path d="M809.6 1996.1a6.2 6.2 0 1 0 12.3 0a6.2 6.2 0 1 0 -12.3 0z"/><path d="M813.4 1983.9a6.2 6.2 0 1 0 12.3 0a6.2 6.2 0 1 0 -12.3 0z"/><path d="M817.2 1979.4a6.2 6.2 0 1 0 12.3 0a6.2 6.2 0 1 0 -12.3 0z"/><path d="M821 1980.4a6.2 6.2 0 1 0 12.3 0a6.2 6.2 0 1 0 -12.3 0z"/><path d="M824.8 2000.8a6.2 6.2 0 1 0 12.3 0a6.2 6.2 0 1 0 -12.3 0z"/><path d="M828.6 1992.1a6.2 6.2 0 1 0 12.3 0a6.2 6.2 0 1 0 -12.3 0z"/><path d="M832.4 1961.7a6.2 6.2 0 1 0 12.3 0a6.2 6.2 0 1 0 -12.3 0z"/><path d="M836.2 1968.3a6.2 6.2 0 1 0 12.3 0a6.2 6.2 0 1 0 -12.3 0z"/><path d="M840 1985.2a6.2 6.2 0 1 0 12.3 0a6.2 6.2 0 1 0 -12.3 0z"/><path d="M843.8 1969.4a6.2 6.2 0 1 0 12.3 0a6.2 6.2 0 1 0 -12.3 0z"/><path d="M843.8 2040a6.2 6.2 0 1 0 12.3 0a6.2 6.2 0 1 0 -12.3 0z"/><path d="M847.6 1973.8a6.2 6.2 0 1 0 12.3 0a6.2 6.2 0 1 0 -12.3 0z"/><path d="M851.4 1964.1a6.2 6.2 0 1 0 12.3 0a6.2 6.2 0 1 0 -12.3 0z"/><path d="M855.2 1976a6.2 6.2 0 1 0 12.3 0a6.2 6.2 0 1 0 -12.3 0z"/><path d="M859 1987.8a6.2 6.2 0 1 0 12.3 0a6.2 6.2 0 1 0 -12.3 0z"/><path d="M862.8 1997.7a6.2 6.2 0 1 0 12.3 0a6.2 6.2 0 1 0 -12.3 0z"/><path d="M866.6 1981.1a6.2 6.2 0 1 0 12.3 0a6.2 6.2 0 1 0 -12.3 0z"/><path d="M870.4 2016.3a6.2 6.2 0 1 0 12.3 0a6.2 6.2 0 1 0 -12.3 0z"/><path d="M874.3 1979.9a6.2 6.2 0 1 0 12.3 0a6.2 6.2 0 1 0 -12.3 0z"/><path d="M878.1 2035.7a6.2 6.2 0 1 0 12.3 0a6.2 6.2 0 1 0 -12.3 0z"/><path d="M881.9 1998.5a6.2 6.2 0 1 0 12.3 0a6.2 6.2 0 1 0 -12.3 0z"/><path d="M885.7 1990.1a6.2 6.2 0 1 0 12.3 0a6.2 6.2 0 1 0 -12.3 0z"/><path d="M889.5 1973.3a6.2 6.2 0 1 0 12.3 0a6.2 6.2 0 1 0 -12.3 0z"/><path d="M893.3 1934a6.2 6.2 0 1 0 12.3 0a6.2 6.2 0 1 0 -12.3 0z"/><path d="M897.1 1979.5a6.2 6.2 0 1 0 12.3 0a6.2 6.2 0 1 0 -12.3 0z"/><path d="M900.9 1985.2a6.2 6.2 0 1 0 12.3 0a6.2 6.2 0 1 0 -12.3 0z"/><path d="M904.7 2015a6.2 6.2 0 1 0 12.3 0a6.2 6.2 0 1 0 -12.3 0z"/><path d="M908.5 1959a6.2 6.2 0 1 0 12.3 0a6.2 6.2 0 1 0 -12.3 0z"/><path d="M912.3 2015a6.2 6.2 0 1 0 12.3 0a6.2 6.2 0 1 0 -12.3 0z"/><path d="M916.1 1978.4a6.2 6.2 0 1 0 12.3 0a6.2 6.2 0 1 0 -12.3 0z"/><path d="M919.9 1995.1a6.2 6.2 0 1 0 12.3 0a6.2 6.2 0 1 0 -12.3 0z"/><path d="M923.7 1939.7a6.2 6.2 0 1 0 12.3 0a6.2 6.2 0 1 0 -12.3 0z"/><path d="M927.5 1985.4a6.2 6.2 0 1 0 12.3 0a6.2 6.2 0 1 0 -12.3 0z"/><path d="M931.3 1977.3a6.2 6.2 0 1 0 12.3 0a6.2 6.2 0 1 0 -12.3 0z"/><path d="M935.1 1994.8a6.2 6.2 0 1 0 12.3 0a6.2 6.2 0 1 0 -12.3 0z"/><path d="M938.9 1984.9a6.2 6.2 0 1 0 12.3 0a6.2 6.2 0 1 0 -12.3 0z"/><path d="M942.7 1964a6.2 6.2 0 1 0 12.3 0a6.2 6.2 0 1 0 -12.3 0z"/><path d="M946.5 1999.7a6.2 6.2 0 1 0 12.3 0a6.2 6.2 0 1 0 -12.3 0z"/><path d="M950.4 1995.5a6.2 6.2 0 1 0 12.3 0a6.2 6.2 0 1 0 -12.3 0z"/><path d="M954.2 1994a6.2 6.2 0 1 0 12.3 0a6.2 6.2 0 1 0 -12.3 0z"/><path d="M958 2001.1a6.2 6.2 0 1 0 12.3 0a6.2 6.2 0 1 0 -12.3 0z"/><path d="M961.8 2002.8a6.2 6.2 0 1 0 12.3 0a6.2 6.2 0 1 0 -12.3 0z"/><path d="M965.6 1983.8a6.2 6.2 0 1 0 12.3 0a6.2 6.2 0 1 0 -12.3 0z"/><path d="M969.4 1961.2a6.2 6.2 0 1 0 12.3 0a6.2 6.2 0 1 0 -12.3 0z"/><path d="M973.2 1960.8a6.2 6.2 0 1 0 12.3 0a6.2 6.2 0 1 0 -12.3 0z"/><path d="M977 2007.4a6.2 6.2 0 1 0 12.3 0a6.2 6.2 0 1 0 -12.3 0z"/><path d="M980.8 1996.7a6.2 6.2 0 1 0 12.3 0a6.2 6.2 0 1 0 -12.3 0z"/><path d="M984.6 1986.5a6.2 6.2 0 1 0 12.3 0a6.2 6.2 0 1 0 -12.3 0z"/><path d="M988.4 1977.4a6.2 6.2 0 1 0 12.3 0a6.2 6.2 0 1 0 -12.3 0z"/><path d="M992.2 1985.5a6.2 6.2 0 1 0 12.3 0a6.2 6.2 0 1 0 -12.3 0z"/><path d="M996 1985.4a6.2 6.2 0 1 0 12.3 0a6.2 6.2 0 1 0 -12.3 0z"/><path d="M999.8 1979.3a6.2 6.2 0 1 0 12.3 0a6.2 6.2 0 1 0 -12.3 0z"/><path d="M1003.6 1973.1a6.2 6.2 0 1 0 12.3 0a6.2 6.2 0 1 0 -12.3 0z"/><path d="M1007.4 2021.8a6.2 6.2 0 1 0 12.3 0a6.2 6.2 0 1 0 -12.3 0z"/><path d="M1011.2 1988.9a6.2 6.2 0 1 0 12.3 0a6.2 6.2 0 1 0 -12.3 0z"/><path d="M1015 1974.7a6.2 6.2 0 1 0 12.3 0a6.2 6.2 0 1 0 -12.3 0z"/><path d="M1018.8 1962.9a6.2 6.2 0 1 0 12.3 0a6.2 6.2 0 1 0 -12.3 0z"/><path d="M1022.7 1972.7a6.2 6.2 0 1 0 12.3 0a6.2 6.2 0 1 0 -12.3 0z"/><path d="M1026.5 1997.2a6.2 6.2 0 1 0 12.3 0a6.2 6.2 0 1 0 -12.3 0z"/><path d="M1030.3 1997.9a6.2 6.2 0 1 0 12.3 0a6.2 6.2 0 1 0 -12.3 0z"/><path d="M1034.1 1981.3a6.2 6.2 0 1 0 12.3 0a6.2 6.2 0 1 0 -12.3 0z"/><path d="M1037.9 1985.9a6.2 6.2 0 1 0 12.3 0a6.2 6.2 0 1 0 -12.3 0z"/><path d="M1041.7 1979.8a6.2 6.2 0 1 0 12.3 0a6.2 6.2 0 1 0 -12.3 0z"/><path d="M1045.5 1966.2a6.2 6.2 0 1 0 12.3 0a6.2 6.2 0 1 0 -12.3 0z"/><path d="M1049.3 2007.1a6.2 6.2 0 1 0 12.3 0a6.2 6.2 0 1 0 -12.3 0z"/><path d="M1053.1 1991.3a6.2 6.2 0 1 0 12.3 0a6.2 6.2 0 1 0 -12.3 0z"/><path d="M1056.9 2027.1a6.2 6.2 0 1 0 12.3 0a6.2 6.2 0 1 0 -12.3 0z"/><path d="M1060.7 1972.1a6.2 6.2 0 1 0 12.3 0a6.2 6.2 0 1 0 -12.3 0z"/><path d="M1064.5 1982.7a6.2 6.2 0 1 0 12.3 0a6.2 6.2 0 1 0 -12.3 0z"/><path d="M1068.3 2000a6.2 6.2 0 1 0 12.3 0a6.2 6.2 0 1 0 -12.3 0z"/><path d="M1072.1 1980.8a6.2 6.2 0 1 0 12.3 0a6.2 6.2 0 1 0 -12.3 0z"/><path d="M1075.9 1961.4a6.2 6.2 0 1 0 12.3 0a6.2 6.2 0 1 0 -12.3 0z"/><path d="M1079.7 1968.9a6.2 6.2 0 1 0 12.3 0a6.2 6.2 0 1 0 -12.3 0z"/><path d="M1083.5 1986.7a6.2 6.2 0 1 0 12.3 0a6.2 6.2 0 1 0 -12.3 0z"/><path d="M1087.3 1990.8a6.2 6.2 0 1 0 12.3 0a6.2 6.2 0 1 0 -12.3 0z"/><path d="M1091.1 1983.4a6.2 6.2 0 1 0 12.3 0a6.2 6.2 0 1 0 -12.3 0z"/><path d="M1094.9 2001.9a6.2 6.2 0 1 0 12.3 0a6.2 6.2 0 1 0 -12.3 0z"/><path d="M1098.8 2001.4a6.2 6.2 0 1 0 12.3 0a6.2 6.2 0 1 0 -12.3 0z"/><path d="M1102.6 1989.6a6.2 6.2 0 1 0 12.3 0a6.2 6.2 0 1 0 -12.3 0z"/><path d="M1106.4 1984.2a6.2 6.2 0 1 0 12.3 0a6.2 6.2 0 1 0 -12.3 0z"/><path d="M1110.2 1979.1a6.2 6.2 0 1 0 12.3 0a6.2 6.2 0 1 0 -12.3 0z"/><path d="M1114 1992.4a6.2 6.2 0 1 0 12.3 0a6.2 6.2 0 1 0 -12.3 0z"/><path d="M1117.8 1998.2a6.2 6.2 0 1 0 12.3 0a6.2 6.2 0 1 0 -12.3 0z"/><path d="M1121.6 1983.3a6.2 6.2 0 1 0 12.3 0a6.2 6.2 0 1 0 -12.3 0z"/><path d="M1125.4 1989.5a6.2 6.2 0 1 0 12.3 0a6.2 6.2 0 1 0 -12.3 0z"/><path d="M1129.2 1976a6.2 6.2 0 1 0 12.3 0a6.2 6.2 0 1 0 -12.3 0z"/><path d="M1133 1957.1a6.2 6.2 0 1 0 12.3 0a6.2 6.2 0 1 0 -12.3 0z"/><path d="M1136.8 1963.7a6.2 6.2 0 1 0 12.3 0a6.2 6.2 0 1 0 -12.3 0z"/><path d="M1140.6 1993.3a6.2 6.2 0 1 0 12.3 0a6.2 6.2 0 1 0 -12.3 0z"/><path d="M1144.4 1987.5a6.2 6.2 0 1 0 12.3 0a6.2 6.2 0 1 0 -12.3 0z"/><path d="M1148.2 2006.6a6.2 6.2 0 1 0 12.3 0a6.2 6.2 0 1 0 -12.3 0z"/><path d="M1152 1980.1a6.2 6.2 0 1 0 12.3 0a6.2 6.2 0 1 0 -12.3 0z"/><path d="M1155.8 1993.5a6.2 6.2 0 1 0 12.3 0a6.2 6.2 0 1 0 -12.3 0z"/><path d="M1159.6 2000.9a6.2 6.2 0 1 0 12.3 0a6.2 6.2 0 1 0 -12.3 0z"/><path d="M1163.4 1994.9a6.2 6.2 0 1 0 12.3 0a6.2 6.2 0 1 0 -12.3 0z"/><path d="M1167.2 1967.3a6.2 6.2 0 1 0 12.3 0a6.2 6.2 0 1 0 -12.3 0z"/><path d="M1171 1974.1a6.2 6.2 0 1 0 12.3 0a6.2 6.2 0 1 0 -12.3 0z"/><path d="M1174.9 1979.1a6.2 6.2 0 1 0 12.3 0a6.2 6.2 0 1 0 -12.3 0z"/><path d="M1178.7 1959.8a6.2 6.2 0 1 0 12.3 0a6.2 6.2 0 1 0 -12.3 0z"/><path d="M1182.5 1984.2a6.2 6.2 0 1 0 12.3 0a6.2 6.2 0 1 0 -12.3 0z"/><path d="M1186.3 1993.2a6.2 6.2 0 1 0 12.3 0a6.2 6.2 0 1 0 -12.3 0z"/><path d="M1190.1 1967.2a6.2 6.2 0 1 0 12.3 0a6.2 6.2 0 1 0 -12.3 0z"/><path d="M1193.9 2008.5a6.2 6.2 0 1 0 12.3 0a6.2 6.2 0 1 0 -12.3 0z"/><path d="M1197.7 1969.5a6.2 6.2 0 1 0 12.3 0a6.2 6.2 0 1 0 -12.3 0z"/><path d="M1201.5 1970.4a6.2 6.2 0 1 0 12.3 0a6.2 6.2 0 1 0 -12.3 0z"/><path d="M1205.3 1969.2a6.2 6.2 0 1 0 12.3 0a6.2 6.2 0 1 0 -12.3 0z"/><path d="M1209.1 1960.7a6.2 6.2 0 1 0 12.3 0a6.2 6.2 0 1 0 -12.3 0z"/><path d="M1212.9 1979.2a6.2 6.2 0 1 0 12.3 0a6.2 6.2 0 1 0 -12.3 0z"/><path d="M1216.7 1971.9a6.2 6.2 0 1 0 12.3 0a6.2 6.2 0 1 0 -12.3 0z"/><path d="M1220.5 1999.2a6.2 6.2 0 1 0 12.3 0a6.2 6.2 0 1 0 -12.3 0z"/><path d="M1224.3 1980.8a6.2 6.2 0 1 0 12.3 0a6.2 6.2 0 1 0 -12.3 0z"/><path d="M1228.1 1979a6.2 6.2 0 1 0 12.3 0a6.2 6.2 0 1 0 -12.3 0z"/><path d="M1231.9 1965.5a6.2 6.2 0 1 0 12.3 0a6.2 6.2 0 1 0 -12.3 0z"/><path d="M1235.7 1944.7a6.2 6.2 0 1 0 12.3 0a6.2 6.2 0 1 0 -12.3 0z"/><path d="M1239.5 1966.6a6.2 6.2 0 1 0 12.3 0a6.2 6.2 0 1 0 -12.3 0z"/><path d="M1243.3 1953.1a6.2 6.2 0 1 0 12.3 0a6.2 6.2 0 1 0 -12.3 0z"/><path d="M1247.2 1983.2a6.2 6.2 0 1 0 12.3 0a6.2 6.2 0 1 0 -12.3 0z"/><path d="M1251 1965.9a6.2 6.2 0 1 0 12.3 0a6.2 6.2 0 1 0 -12.3 0z"/><path d="M1254.8 1994.2a6.2 6.2 0 1 0 12.3 0a6.2 6.2 0 1 0 -12.3 0z"/><path d="M1258.6 1977.8a6.2 6.2 0 1 0 12.3 0a6.2 6.2 0 1 0 -12.3 0z"/><path d="M1262.4 1978.9a6.2 6.2 0 1 0 12.3 0a6.2 6.2 0 1 0 -12.3 0z"/><path d="M1266.2 1968.1a6.2 6.2 0 1 0 12.3 0a6.2 6.2 0 1 0 -12.3 0z"/><path d="M1270 1967.1a6.2 6.2 0 1 0 12.3 0a6.2 6.2 0 1 0 -12.3 0z"/><path d="M1273.8 1974.1a6.2 6.2 0 1 0 12.3 0a6.2 6.2 0 1 0 -12.3 0z"/><path d="M1277.6 1978.1a6.2 6.2 0 1 0 12.3 0a6.2 6.2 0 1 0 -12.3 0z"/><path d="M1281.4 1949.8a6.2 6.2 0 1 0 12.3 0a6.2 6.2 0 1 0 -12.3 0z"/><path d="M1285.2 1969.7a6.2 6.2 0 1 0 12.3 0a6.2 6.2 0 1 0 -12.3 0z"/><path d="M1289 2005.3a6.2 6.2 0 1 0 12.3 0a6.2 6.2 0 1 0 -12.3 0z"/><path d="M1292.8 1958.6a6.2 6.2 0 1 0 12.3 0a6.2 6.2 0 1 0 -12.3 0z"/><path d="M1296.6 1955.6a6.2 6.2 0 1 0 12.3 0a6.2 6.2 0 1 0 -12.3 0z"/><path d="M1300.4 1948a6.2 6.2 0 1 0 12.3 0a6.2 6.2 0 1 0 -12.3 0z"/><path d="M1304.2 1935a6.2 6.2 0 1 0 12.3 0a6.2 6.2 0 1 0 -12.3 0z"/><path d="M1308 1979.8a6.2 6.2 0 1 0 12.3 0a6.2 6.2 0 1 0 -12.3 0z"/><path d="M1311.8 1960.5a6.2 6.2 0 1 0 12.3 0a6.2 6.2 0 1 0 -12.3 0z"/><path d="M1315.6 1964.4a6.2 6.2 0 1 0 12.3 0a6.2 6.2 0 1 0 -12.3 0z"/><path d="M1319.4 1990.5a6.2 6.2 0 1 0 12.3 0a6.2 6.2 0 1 0 -12.3 0z"/><path d="M1323.3 2001.7a6.2 6.2 0 1 0 12.3 0a6.2 6.2 0 1 0 -12.3 0z"/><path d="M1327.1 1943.8a6.2 6.2 0 1 0 12.3 0a6.2 6.2 0 1 0 -12.3 0z"/><path d="M1330.9 1976.8a6.2 6.2 0 1 0 12.3 0a6.2 6.2 0 1 0 -12.3 0z"/><path d="M1334.7 1969.3a6.2 6.2 0 1 0 12.3 0a6.2 6.2 0 1 0 -12.3 0z"/><path d="M1338.5 1965.4a6.2 6.2 0 1 0 12.3 0a6.2 6.2 0 1 0 -12.3 0z"/><path d="M1342.3 1966.6a6.2 6.2 0 1 0 12.3 0a6.2 6.2 0 1 0 -12.3 0z"/><path d="M1346.1 1958a6.2 6.2 0 1 0 12.3 0a6.2 6.2 0 1 0 -12.3 0z"/><path d="M1349.9 1985.3a6.2 6.2 0 1 0 12.3 0a6.2 6.2 0 1 0 -12.3 0z"/><path d="M1353.7 1968.6a6.2 6.2 0 1 0 12.3 0a6.2 6.2 0 1 0 -12.3 0z"/></g>
<g stroke="#00f"><path d="M195.5 1952.3l7.2 14.6h-14.3z"/><path d="M199.3 1955.8l7.2 14.6h-14.3z"/><path d="M203.1 1957.8l7.2 14.6h-14.3z"/><path d="M206.9 1935.6l7.2 14.6h-14.3z"/><path d="M210.7 1958.6l7.2 14.6h-14.3z"/><path d="M214.5 1918.8l7.2 14.6h-14.3z"/><path d="M218.3 1930.9l7.2 14.6h-14.3z"/><path d="M222.1 1906.8l7.2 14.6h-14.3z"/><path d="M225.9 1949.5l7.2 14.6h-14.3z"/><path d="M229.7 1951.8l7.2 14.6h-14.3z"/><path d="M233.6 1924.1l7.2 14.6h-14.3z"/><path d="M237.4 1946.3l7.2 14.6h-14.3z"/><path d="M241.2 1957.8l7.2 14.6h-14.3z"/><path d="M245 1933.8l7.2 14.6h-14.3z"/><path d="M248.8 1936.5l7.2 14.6h-14.3z"/><path d="M252.6 1971.8l7.2 14.6h-14.3z"/><path d="M256.4 1965.4l7.2 14.6h-14.3z"/><path d="M260.2 1913.8l7.2 14.6h-14.3z"/><path d="M264 1940.7l7.2 14.6h-14.3z"/><path d="M267.8 1930.8l7.2 14.6h-14.3z"/><path d="M271.6 1970l7.2 14.6h-14.3z"/><path d="M275.4 1931l7.2 14.6h-14.3z"/><path d="M279.2 1996l7.2 14.6h-14.3z"/><path d="M283 1930.9l7.2 14.6h-14.3z"/><path d="M286.8 1967.2l7.2 14.6h-14.3z"/><path d="M290.6 1909.5l7.2 14.6h-14.3z"/><path d="M294.4 1956.1l7.2 14.6h-14.3z"/><path d="M298.2 1914.1l7.2 14.6h-14.3z"/><path d="M302 1965.2l7.2 14.6h-14.3z"/><path d="M305.8 1916.7l7.2 14.6h-14.3z"/><path d="M309.7 1913.4l7.2 14.6h-14.3z"/><path d="M313.5 1914.6l7.2 14.6h-14.3z"/><path d="M317.3 1905.2l7.2 14.6h-14.3z"/><path d="M321.1 1915.4l7.2 14.6h-14.3z"/><path d="M324.9 2005.7l7.2 14.6h-14.3z"/><path d="M328.7 1932.1l7.2 14.6h-14.3z"/><path d="M332.5 1924.9l7.2 14.6h-14.3z"/><path d="M336.3 1926.9l7.2 14.6h-14.3z"/><path d="M340.1 1926.1l7.2 14.6h-14.3z"/><path d="M343.9 1931.7l7.2 14.6h-14.3z"/><path d="M347.7 1901l7.2 14.6h-14.3z"/><path d="M351.5 1903.4l7.2 14.6h-14.3z"/><path d="M355.3 1935.9l7.2 14.6h-14.3z"/><path d="M359.1 1946.2l7.2 14.6h-14.3z"/><path d="M362.9 1991.3l7.2 14.6h-14.3z"/><path d="M366.7 1948l7.2 14.6h-14.3z"/><path d="M370.5 1925l7.2 14.6h-14.3z"/><path d="M374.3 1918.4l7.2 14.6h-14.3z"/><path d="M378.1 1895.1l7.2 14.6h-14.3z"/><path d="M381.9 1924.2l7.2 14.6h-14.3z"/><path d="M385.8 1924.1l7.2 14.6h-14.3z"/><path d="M389.6 1912.3l7.2 14.6h-14.3z"/><path d="M393.4 1916.7l7.2 14.6h-14.3z"/><path d="M397.2 1965.6l7.2 14.6h-14.3z"/><path d="M401 1908.2l7.2 14.6h-14.3z"/><path d="M404.8 1912.5l7.2 14.6h-14.3z"/><path d="M408.6 1891.4l7.2 14.6h-14.3z"/><path d="M412.4 1919l7.2 14.6h-14.3z"/><path d="M416.2 1906.2l7.2 14.6h-14.3z"/><path d="M420 1919.2l7.2 14.6h-14.3z"/><path d="M423.8 1904.8l7.2 14.6h-14.3z"/><path d="M427.6 1914.3l7.2 14.6h-14.3z"/><path d="M431.4 1840.6l7.2 14.6h-14.3z"/><path d="M435.2 1955.5l7.2 14.6h-14.3z"/><path d="M439 1875l7.2 14.6h-14.3z"/><path d="M442.8 1911.8l7.2 14.6h-14.3z"/><path d="M446.6 1887.4l7.2 14.6h-14.3z"/><path d="M450.4 1898.4l7.2 14.6h-14.3z"/><path d="M454.2 1898.5l7.2 14.6h-14.3z"/><path d="M458 1939.4l7.2 14.6h-14.3z"/><path d="M461.9 1889.9l7.2 14.6h-14.3z"/><path d="M465.7 1845.7l7.2 14.6h-14.3z"/><path d="M469.5 1861.3l7.2 14.6h-14.3z"/><path d="M473.3 1938.9l7.2 14.6h-14.3z"/><path d="M477.1 1904.2l7.2 14.6h-14.3z"/><path d="M480.9 1857.2l7.2 14.6h-14.3z"/><path d="M484.7 1913.7l7.2 14.6h-14.3z"/><path d="M488.5 1882l7.2 14.6h-14.3z"/><path d="M492.3 1824.4l7.2 14.6h-14.3z"/><path d="M496.1 1874.6l7.2 14.6h-14.3z"/><path d="M499.9 1884.6l7.2 14.6h-14.3z"/><path d="M503.7 1878.2l7.2 14.6h-14.3z"/><path d="M507.5 1865.7l7.2 14.6h-14.3z"/><path d="M510.8 1844l7.2 14.6h-14.3z"/><path d="M511.3 1909.3l7.2 14.6h-14.3z"/><path d="M515.1 1893.3l7.2 14.6h-14.3z"/><path d="M518.9 1888.9l7.2 14.6h-14.3z"/><path d="M522.7 1880l7.2 14.6h-14.3z"/><path d="M526.5 1891.6l7.2 14.6h-14.3z"/><path d="M530.3 1843.3l7.2 14.6h-14.3z"/><path d="M534.2 1905.5l7.2 14.6h-14.3z"/><path d="M538 1866.8l7.2 14.6h-14.3z"/><path d="M541.8 1855l7.2 14.6h-14.3z"/><path d="M545.6 1835.6l7.2 14.6h-14.3z"/><path d="M549.4 1875.1l7.2 14.6h-14.3z"/><path d="M553.2 1860.1l7.2 14.6h-14.3z"/><path d="M557 1882.7l7.2 14.6h-14.3z"/><path d="M560.8 1869l7.2 14.6h-14.3z"/><path d="M564.6 1879.6l7.2 14.6h-14.3z"/><path d="M568.4 1846.4l7.2 14.6h-14.3z"/><path d="M571 1835l7.2 14.6h-14.3z"/><path d="M572.2 1841.1l7.2 14.6h-14.3z"/><path d="M576 1878.3l7.2 14.6h-14.3z"/><path d="M579.8 1843.4l7.2 14.6h-14.3z"/><path d="M583.6 1854.4l7.2 14.6h-14.3z"/><path d="M587.4 1867.3l7.2 14.6h-14.3z"/><path d="M591.2 1854.4l7.2 14.6h-14.3z"/><path d="M595 1858.5l7.2 14.6h-14.3z"/><path d="M598.8 1803.7l7.2 14.6h-14.3z"/><path d="M602.6 1869.9l7.2 14.6h-14.3z"/><path d="M606.4 1821.2l7.2 14.6h-14.3z"/><path d="M610.3 1852l7.2 14.6h-14.3z"/><path d="M614.1 1861.4l7.2 14.6h-14.3z"/><path d="M617.9 1798.1l7.2 14.6h-14.3z"/><path d="M621.7 1840.6l7.2 14.6h-14.3z"/><path d="M625.5 1862.1l7.2 14.6h-14.3z"/><path d="M628 1816.8l7.2 14.6h-14.3z"/><path d="M629.3 1819.9l7.2 14.6h-14.3z"/><path d="M633.1 1811l7.2 14.6h-14.3z"/><path d="M636.9 1868.9l7.2 14.6h-14.3z"/><path d="M640.7 1840.5l7.2 14.6h-14.3z"/><path d="M644.5 1834.5l7.2 14.6h-14.3z"/><path d="M648.3 1855.2l7.2 14.6h-14.3z"/><path d="M652.1 1815.3l7.2 14.6h-14.3z"/><path d="M655.9 1854.1l7.2 14.6h-14.3z"/><path d="M659.7 1845.3l7.2 14.6h-14.3z"/><path d="M663.5 1825.2l7.2 14.6h-14.3z"/><path d="M667.3 1837.6l7.2 14.6h-14.3z"/><path d="M671.1 1815.2l7.2 14.6h-14.3z"/><path d="M674.9 1836.6l7.2 14.6h-14.3z"/><path d="M678.7 1835.2l7.2 14.6h-14.3z"/><path d="M680.5 1798.6l7.2 14.6h-14.3z"/><path d="M682.5 1825.1l7.2 14.6h-14.3z"/><path d="M686.4 1845.4l7.2 14.6h-14.3z"/><path d="M690.2 1811.4l7.2 14.6h-14.3z"/><path d="M694 1826.9l7.2 14.6h-14.3z"/><path d="M696.4 1775.8l7.2 14.6h-14.3z"/><path d="M697.8 1821.3l7.2 14.6h-14.3z"/><path d="M701 1794l7.2 14.6h-14.3z"/><path d="M701.6 1837.9l7.2 14.6h-14.3z"/><path d="M704.4 1734.8l7.2 14.6h-14.3z"/><path d="M705.4 1818.6l7.2 14.6h-14.3z"/><path d="M709.2 1775.4l7.2 14.6h-14.3z"/><path d="M713 1828.8l7.2 14.6h-14.3z"/><path d="M716.8 1839.9l7.2 14.6h-14.3z"/><path d="M720.6 1850.2l7.2 14.6h-14.3z"/><path d="M724.4 1817.8l7.2 14.6h-14.3z"/><path d="M728.2 1830.2l7.2 14.6h-14.3z"/><path d="M732 1851.7l7.2 14.6h-14.3z"/><path d="M735.8 1822.3l7.2 14.6h-14.3z"/><path d="M739.6 1849.7l7.2 14.6h-14.3z"/><path d="M743.4 1843.7l7.2 14.6h-14.3z"/><path d="M746.5 1766.7l7.2 14.6h-14.3z"/><path d="M747.2 1853.8l7.2 14.6h-14.3z"/><path d="M751 1823.9l7.2 14.6h-14.3z"/><path d="M753.3 1784.9l7.2 14.6h-14.3z"/><path d="M754.8 1844l7.2 14.6h-14.3z"/><path d="M758.7 1821.2l7.2 14.6h-14.3z"/><path d="M762.5 1878.9l7.2 14.6h-14.3z"/><path d="M766.3 1848.6l7.2 14.6h-14.3z"/><path d="M770.1 1872l7.2 14.6h-14.3z"/><path d="M773.9 1820.6l7.2 14.6h-14.3z"/><path d="M777.7 1847.4l7.2 14.6h-14.3z"/><path d="M781.5 1852.1l7.2 14.6h-14.3z"/><path d="M784 1799.7l7.2 14.6h-14.3z"/><path d="M784.6 1798.6l7.2 14.6h-14.3z"/><path d="M785.3 1827.6l7.2 14.6h-14.3z"/><path d="M789.1 1784.1l7.2 14.6h-14.3z"/><path d="M792.9 1881.3l7.2 14.6h-14.3z"/><path d="M796.7 1855.6l7.2 14.6h-14.3z"/><path d="M800.5 1809.8l7.2 14.6h-14.3z"/><path d="M804.3 1813.4l7.2 14.6h-14.3z"/><path d="M808.1 1851l7.2 14.6h-14.3z"/><path d="M811.9 1830.1l7.2 14.6h-14.3z"/><path d="M815.7 1819.1l7.2 14.6h-14.3z"/><path d="M819.5 1832.8l7.2 14.6h-14.3z"/><path d="M823 1794l7.2 14.6h-14.3z"/><path d="M823.3 1861.9l7.2 14.6h-14.3z"/><path d="M825.6 1823.6l7.2 14.6h-14.3z"/><path d="M827.1 1874.8l7.2 14.6h-14.3z"/><path d="M830 1812l7.2 14.6h-14.3z"/><path d="M830.9 1863.2l7.2 14.6h-14.3z"/><path d="M834.8 1901.8l7.2 14.6h-14.3z"/><path d="M838.6 1879.8l7.2 14.6h-14.3z"/><path d="M842.4 1843.2l7.2 14.6h-14.3z"/><path d="M846.2 1881.3l7.2 14.6h-14.3z"/><path d="M850 1847.6l7.2 14.6h-14.3z"/><path d="M853.8 1860.7l7.2 14.6h-14.3z"/><path d="M857.6 1871.6l7.2 14.6h-14.3z"/><path d="M861.4 1878.2l7.2 14.6h-14.3z"/><path d="M864 1837l7.2 14.6h-14.3z"/><path d="M865.2 1890.9l7.2 14.6h-14.3z"/><path d="M869 1877.3l7.2 14.6h-14.3z"/><path d="M872.8 1852.2l7.2 14.6h-14.3z"/><path d="M875.7 1855.5l7.2 14.6h-14.3z"/><path d="M876.6 1799.4l7.2 14.6h-14.3z"/><path d="M880.4 1874.9l7.2 14.6h-14.3z"/><path d="M884.2 1874.8l7.2 14.6h-14.3z"/><path d="M888 1894.6l7.2 14.6h-14.3z"/><path d="M891.8 1899l7.2 14.6h-14.3z"/><path d="M895.6 1911.4l7.2 14.6h-14.3z"/><path d="M899.4 1884.6l7.2 14.6h-14.3z"/><path d="M903.2 1875.9l7.2 14.6h-14.3z"/><path d="M907 1908.8l7.2 14.6h-14.3z"/><path d="M910.9 1915.6l7.2 14.6h-14.3z"/><path d="M914.7 1902.9l7.2 14.6h-14.3z"/><path d="M918.5 1899.3l7.2 14.6h-14.3z"/><path d="M922.3 1895.8l7.2 14.6h-14.3z"/><path d="M925.8 1857.8l7.2 14.6h-14.3z"/><path d="M926.1 1923.1l7.2 14.6h-14.3z"/><path d="M929.9 1926.9l7.2 14.6h-14.3z"/><path d="M933.7 1916.9l7.2 14.6h-14.3z"/><path d="M937.5 1899.1l7.2 14.6h-14.3z"/><path d="M941.3 1945.2l7.2 14.6h-14.3z"/><path d="M945.1 1898.9l7.2 14.6h-14.3z"/><path d="M948.9 1917.6l7.2 14.6h-14.3z"/><path d="M952.7 1928.7l7.2 14.6h-14.3z"/><path d="M956.5 1945.8l7.2 14.6h-14.3z"/><path d="M960.3 1947.9l7.2 14.6h-14.3z"/><path d="M964.1 1881.2l7.2 14.6h-14.3z"/><path d="M967.9 1917.2l7.2 14.6h-14.3z"/><path d="M971.7 1895l7.2 14.6h-14.3z"/><path d="M975.5 1949.2l7.2 14.6h-14.3z"/><path d="M979.3 1935.5l7.2 14.6h-14.3z"/><path d="M983.1 1965.1l7.2 14.6h-14.3z"/><path d="M987 1913l7.2 14.6h-14.3z"/><path d="M990.8 1922.4l7.2 14.6h-14.3z"/><path d="M994.6 1944.5l7.2 14.6h-14.3z"/><path d="M998.4 1910.1l7.2 14.6h-14.3z"/><path d="M1002.2 1911.1l7.2 14.6h-14.3z"/><path d="M1006 1870l7.2 14.6h-14.3z"/><path d="M1009.8 1903l7.2 14.6h-14.3z"/><path d="M1013.6 1928.5l7.2 14.6h-14.3z"/><path d="M1017.4 1917.8l7.2 14.6h-14.3z"/><path d="M1021.2 1925.8l7.2 14.6h-14.3z"/><path d="M1025 1908.4l7.2 14.6h-14.3z"/><path d="M1028.8 1918l7.2 14.6h-14.3z"/><path d="M1032.6 1951.2l7.2 14.6h-14.3z"/><path d="M1036.4 1917.3l7.2 14.6h-14.3z"/><path d="M1040.2 1919.6l7.2 14.6h-14.3z"/><path d="M1044 1921.6l7.2 14.6h-14.3z"/><path d="M1047.8 1966.7l7.2 14.6h-14.3z"/><path d="M1051.6 1917.2l7.2 14.6h-14.3z"/><path d="M1055.4 1926.6l7.2 14.6h-14.3z"/><path d="M1059.3 1978.9l7.2 14.6h-14.3z"/><path d="M1063.1 1944.4l7.2 14.6h-14.3z"/><path d="M1066.9 1897.7l7.2 14.6h-14.3z"/><path d="M1070.7 1989.7l7.2 14.6h-14.3z"/><path d="M1074.5 1901.8l7.2 14.6h-14.3z"/><path d="M1078.3 1954.3l7.2 14.6h-14.3z"/><path d="M1082 1890l7.2 14.6h-14.3z"/><path d="M1082.1 1914.3l7.2 14.6h-14.3z"/><path d="M1085.9 1890.4l7.2 14.6h-14.3z"/><path d="M1089.7 1904.2l7.2 14.6h-14.3z"/><path d="M1093.5 1919.3l7.2 14.6h-14.3z"/><path d="M1097.3 1956.1l7.2 14.6h-14.3z"/><path d="M1101.1 1927.9l7.2 14.6h-14.3z"/><path d="M1104.9 1976l7.2 14.6h-14.3z"/><path d="M1108.7 1895.7l7.2 14.6h-14.3z"/><path d="M1112.5 1978.7l7.2 14.6h-14.3z"/><path d="M1116.3 1923.1l7.2 14.6h-14.3z"/><path d="M1120.1 1934.3l7.2 14.6h-14.3z"/><path d="M1123.9 1934.3l7.2 14.6h-14.3z"/><path d="M1126 1876l7.2 14.6h-14.3z"/><path d="M1127.7 1934.3l7.2 14.6h-14.3z"/><path d="M1131.5 1942.9l7.2 14.6h-14.3z"/><path d="M1135.4 1934.8l7.2 14.6h-14.3z"/><path d="M1139.2 1929.7l7.2 14.6h-14.3z"/><path d="M1143 1869.6l7.2 14.6h-14.3z"/><path d="M1146.8 1907.2l7.2 14.6h-14.3z"/><path d="M1150.6 1960.4l7.2 14.6h-14.3z"/><path d="M1154.4 1924.9l7.2 14.6h-14.3z"/><path d="M1158.2 1928.1l7.2 14.6h-14.3z"/><path d="M1162 1946.3l7.2 14.6h-14.3z"/><path d="M1165.8 1936.4l7.2 14.6h-14.3z"/><path d="M1169.6 1942.5l7.2 14.6h-14.3z"/><path d="M1173.4 2004.3l7.2 14.6h-14.3z"/><path d="M1176 2019.5l7.2 14.6h-14.3z"/><path d="M1177.2 1950l7.2 14.6h-14.3z"/><path d="M1181 2003.6l7.2 14.6h-14.3z"/><path d="M1181 1900.1l7.2 14.6h-14.3z"/><path d="M1184.8 1953.3l7.2 14.6h-14.3z"/><path d="M1188.6 1901.1l7.2 14.6h-14.3z"/><path d="M1192.4 1924.3l7.2 14.6h-14.3z"/><path d="M1196.2 1904.9l7.2 14.6h-14.3z"/><path d="M1200 1895.5l7.2 14.6h-14.3z"/><path d="M1203.8 1905.3l7.2 14.6h-14.3z"/><path d="M1207.6 1913.7l7.2 14.6h-14.3z"/><path d="M1211.5 1916.8l7.2 14.6h-14.3z"/><path d="M1215.3 1894.6l7.2 14.6h-14.3z"/><path d="M1219.1 1922.8l7.2 14.6h-14.3z"/><path d="M1222.9 1908.7l7.2 14.6h-14.3z"/><path d="M1226.7 1927.2l7.2 14.6h-14.3z"/><path d="M1230.5 1912.2l7.2 14.6h-14.3z"/><path d="M1234.3 1902.8l7.2 14.6h-14.3z"/><path d="M1238.1 1911.4l7.2 14.6h-14.3z"/><path d="M1241.9 1914.7l7.2 14.6h-14.3z"/><path d="M1245.7 1893l7.2 14.6h-14.3z"/><path d="M1249.5 1918.7l7.2 14.6h-14.3z"/><path d="M1253.3 1971.8l7.2 14.6h-14.3z"/><path d="M1257.1 1916.1l7.2 14.6h-14.3z"/><path d="M1260.9 1936.7l7.2 14.6h-14.3z"/><path d="M1264.7 1918.4l7.2 14.6h-14.3z"/><path d="M1265 1878l7.2 14.6h-14.3z"/><path d="M1268.5 1901.4l7.2 14.6h-14.3z"/><path d="M1272.3 1922.3l7.2 14.6h-14.3z"/><path d="M1276.1 1872.1l7.2 14.6h-14.3z"/><path d="M1279.9 1934.9l7.2 14.6h-14.3z"/><path d="M1283.8 1910.6l7.2 14.6h-14.3z"/><path d="M1287.6 1892.8l7.2 14.6h-14.3z"/><path d="M1290 2010l7.2 14.6h-14.3z"/><path d="M1291.4 1860.4l7.2 14.6h-14.3z"/><path d="M1295.2 1862.6l7.2 14.6h-14.3z"/><path d="M1299 1938.2l7.2 14.6h-14.3z"/><path d="M1302.8 1935.5l7.2 14.6h-14.3z"/><path d="M1306.6 1898l7.2 14.6h-14.3z"/><path d="M1310.4 1904.9l7.2 14.6h-14.3z"/><path d="M1313 1862l7.2 14.6h-14.3z"/><path d="M1314.2 1911.7l7.2 14.6h-14.3z"/><path d="M1317 1853l7.2 14.6h-14.3z"/><path d="M1318 1854.2l7.2 14.6h-14.3z"/><path d="M1321.8 1885.6l7.2 14.6h-14.3z"/><path d="M1325.6 1922l7.2 14.6h-14.3z"/><path d="M1329.4 1889.6l7.2 14.6h-14.3z"/><path d="M1333.2 1875.5l7.2 14.6h-14.3z"/><path d="M1337 1899.1l7.2 14.6h-14.3z"/><path d="M1340.8 1878.5l7.2 14.6h-14.3z"/><path d="M1344.6 1912.2l7.2 14.6h-14.3z"/><path d="M1348.4 1901.5l7.2 14.6h-14.3z"/><path d="M1352.2 1874.9l7.2 14.6h-14.3z"/><path d="M1356 1920.8l7.2 14.6h-14.3z"/><path d="M1359.9 1930l7.2 14.6h-14.3z"/></g>
<g stroke="#f0f"><path d="M187.6 1904h15.7l-7.9 14.1z"/><path d="M191.4 1951.3h15.7l-7.9 14.1z"/><path d="M195.2 1929.2h15.7l-7.9 14.1z"/><path d="M199.1 1931.6h15.7l-7.9 14.1z"/><path d="M202.9 1934.6h15.7l-7.9 14.1z"/><path d="M206.7 1941.5h15.7l-7.9 14.1z"/><path d="M210.5 1967.9h15.7l-7.9 14.1z"/><path d="M214.3 1897.9h15.7l-7.9 14.1z"/><path d="M218.1 1936h15.7l-7.9 14.1z"/><path d="M221.9 1921h15.7l-7.9 14.1z"/><path d="M225.7 1958.8h15.7l-7.9 14.1z"/><path d="M229.5 1927.2h15.7l-7.9 14.1z"/><path d="M233.3 1945h15.7l-7.9 14.1z"/><path d="M237.1 1928.1h15.7l-7.9 14.1z"/><path d="M240.9 1949.6h15.7l-7.9 14.1z"/><path d="M244.7 1956.7h15.7l-7.9 14.1z"/><path d="M248.5 1928.6h15.7l-7.9 14.1z"/><path d="M252.3 1937.7h15.7l-7.9 14.1z"/><path d="M256.1 1908.5h15.7l-7.9 14.1z"/><path d="M259.9 1943.2h15.7l-7.9 14.1z"/><path d="M263.7 1954.4h15.7l-7.9 14.1z"/><path d="M267.5 1926.4h15.7l-7.9 14.1z"/><path d="M271.3 1960.1h15.7l-7.9 14.1z"/><path d="M275.2 1896.4h15.7l-7.9 14.1z"/><path d="M279 1901h15.7l-7.9 14.1z"/><path d="M282.8 1910.5h15.7l-7.9 14.1z"/><path d="M286.6 1928.7h15.7l-7.9 14.1z"/><path d="M290.4 1939h15.7l-7.9 14.1z"/><path d="M294.2 1937.1h15.7l-7.9 14.1z"/><path d="M298 1937.3h15.7l-7.9 14.1z"/><path d="M301.8 1953.1h15.7l-7.9 14.1z"/><path d="M305.6 1929.2h15.7l-7.9 14.1z"/><path d="M309.4 1913.4h15.7l-7.9 14.1z"/><path d="M313.2 1913.8h15.7l-7.9 14.1z"/><path d="M317 1980.9h15.7l-7.9 14.1z"/><path d="M320.8 1891.6h15.7l-7.9 14.1z"/><path d="M324.6 1935.1h15.7l-7.9 14.1z"/><path d="M328.4 1967.8h15.7l-7.9 14.1z"/><path d="M332.1 1883.7h15.7l-7.9 14.1z"/><path d="M332.2 1948.3h15.7l-7.9 14.1z"/><path d="M336 1922.1h15.7l-7.9 14.1z"/><path d="M339.8 1938.7h15.7l-7.9 14.1z"/><path d="M343.6 1955.9h15.7l-7.9 14.1z"/><path d="M347.4 1962.8h15.7l-7.9 14.1z"/><path d="M351.3 1920.7h15.7l-7.9 14.1z"/><path d="M355.1 1953.9h15.7l-7.9 14.1z"/><path d="M358.9 1943.7h15.7l-7.9 14.1z"/><path d="M362.7 1960.8h15.7l-7.9 14.1z"/><path d="M366.5 1966.5h15.7l-7.9 14.1z"/><path d="M370.3 1931.8h15.7l-7.9 14.1z"/><path d="M374.1 1909.7h15.7l-7.9 14.1z"/><path d="M377.9 1946.6h15.7l-7.9 14.1z"/><path d="M381.7 1974.2h15.7l-7.9 14.1z"/><path d="M385.5 1952.4h15.7l-7.9 14.1z"/><path d="M389.3 1943.3h15.7l-7.9 14.1z"/><path d="M393.1 1986.6h15.7l-7.9 14.1z"/><path d="M396.9 1917.6h15.7l-7.9 14.1z"/><path d="M400.7 1956.3h15.7l-7.9 14.1z"/><path d="M404.5 1926.6h15.7l-7.9 14.1z"/><path d="M408.3 1938.8h15.7l-7.9 14.1z"/><path d="M412.1 1939.5h15.7l-7.9 14.1z"/><path d="M415.9 1967.8h15.7l-7.9 14.1z"/><path d="M419.7 1918.6h15.7l-7.9 14.1z"/><path d="M423.5 1926.4h15.7l-7.9 14.1z"/><path d="M427.4 1905h15.7l-7.9 14.1z"/><path d="M431.2 1946.5h15.7l-7.9 14.1z"/><path d="M435 1927.4h15.7l-7.9 14.1z"/><path d="M438.8 1944.8h15.7l-7.9 14.1z"/><path d="M442.6 1914.7h15.7l-7.9 14.1z"/><path d="M446.4 1928.8h15.7l-7.9 14.1z"/><path d="M450.2 1956.5h15.7l-7.9 14.1z"/><path d="M454 1932.1h15.7l-7.9 14.1z"/><path d="M457.8 1947.9h15.7l-7.9 14.1z"/><path d="M461.6 1945.8h15.7l-7.9 14.1z"/><path d="M465.4 1927.9h15.7l-7.9 14.1z"/><path d="M469.2 1903.6h15.7l-7.9 14.1z"/><path d="M473 1954.3h15.7l-7.9 14.1z"/><path d="M476.8 1937.8h15.7l-7.9 14.1z"/><path d="M480.6 1953.9h15.7l-7.9 14.1z"/><path d="M484.4 1893.8h15.7l-7.9 14.1z"/><path d="M488.2 1900.8h15.7l-7.9 14.1z"/><path d="M492 1890.8h15.7l-7.9 14.1z"/><path d="M495.8 1915.8h15.7l-7.9 14.1z"/><path d="M499.7 1953.8h15.7l-7.9 14.1z"/><path d="M503.5 1943.9h15.7l-7.9 14.1z"/><path d="M507.3 1931.5h15.7l-7.9 14.1z"/><path d="M511.1 1934.4h15.7l-7.9 14.1z"/><path d="M514.9 1946.6h15.7l-7.9 14.1z"/><path d="M518.7 1925h15.7l-7.9 14.1z"/><path d="M522.5 1938.6h15.7l-7.9 14.1z"/><path d="M526.3 1933h15.7l-7.9 14.1z"/><path d="M530.1 1886.1h15.7l-7.9 14.1z"/><path d="M533.9 1921.8h15.7l-7.9 14.1z"/><path d="M537.7 1956.3h15.7l-7.9 14.1z"/><path d="M541.5 1920.8h15.7l-7.9 14.1z"/><path d="M545.3 1925.5h15.7l-7.9 14.1z"/><path d="M549.1 1915.8h15.7l-7.9 14.1z"/><path d="M552.9 1917.9h15.7l-7.9 14.1z"/><path d="M556.7 1949.7h15.7l-7.9 14.1z"/><path d="M560.5 1921.5h15.7l-7.9 14.1z"/><path d="M564.3 1906h15.7l-7.9 14.1z"/><path d="M568.1 1863.8h15.7l-7.9 14.1z"/><path d="M571.9 1914.2h15.7l-7.9 14.1z"/><path d="M575.8 1886h15.7l-7.9 14.1z"/><path d="M579.6 1888.4h15.7l-7.9 14.1z"/><path d="M582.1 1998.7h15.7l-7.9 14.1z"/><path d="M583.4 1940.4h15.7l-7.9 14.1z"/><path d="M587.2 1938.3h15.7l-7.9 14.1z"/><path d="M591 1885.4h15.7l-7.9 14.1z"/><path d="M594.8 1940.5h15.7l-7.9 14.1z"/><path d="M598.6 1932.3h15.7l-7.9 14.1z"/><path d="M602.4 1907.2h15.7l-7.9 14.1z"/><path d="M606.2 1937.2h15.7l-7.9 14.1z"/><path d="M610 1889.7h15.7l-7.9 14.1z"/><path d="M613.8 1897.8h15.7l-7.9 14.1z"/><path d="M617.6 1892.8h15.7l-7.9 14.1z"/><path d="M621.4 1899.1h15.7l-7.9 14.1z"/><path d="M625.2 1938.6h15.7l-7.9 14.1z"/><path d="M629 1894h15.7l-7.9 14.1z"/><path d="M632.8 1897.4h15.7l-7.9 14.1z"/><path d="M636.6 1901.1h15.7l-7.9 14.1z"/><path d="M640.4 1923.7h15.7l-7.9 14.1z"/><path d="M644.2 1912.7h15.7l-7.9 14.1z"/><path d="M648 1936.4h15.7l-7.9 14.1z"/><path d="M651.9 1904.7h15.7l-7.9 14.1z"/><path d="M655.7 1892.8h15.7l-7.9 14.1z"/><path d="M659.5 1908.2h15.7l-7.9 14.1z"/><path d="M663.3 1918.7h15.7l-7.9 14.1z"/><path d="M667.1 1899h15.7l-7.9 14.1z"/><path d="M670.9 1922.8h15.7l-7.9 14.1z"/><path d="M674.7 1953.3h15.7l-7.9 14.1z"/><path d="M678.5 1905h15.7l-7.9 14.1z"/><path d="M682.3 1917.2h15.7l-7.9 14.1z"/><path d="M686.1 1943h15.7l-7.9 14.1z"/><path d="M689.9 1902.7h15.7l-7.9 14.1z"/><path d="M693.7 1898.7h15.7l-7.9 14.1z"/><path d="M697.5 1894.1h15.7l-7.9 14.1z"/><path d="M701.3 1924.3h15.7l-7.9 14.1z"/><path d="M705.1 1927h15.7l-7.9 14.1z"/><path d="M708.9 1914.1h15.7l-7.9 14.1z"/><path d="M712.7 1918.3h15.7l-7.9 14.1z"/><path d="M716.5 1943.2h15.7l-7.9 14.1z"/><path d="M720.3 1935.5h15.7l-7.9 14.1z"/><path d="M724.2 1890.5h15.7l-7.9 14.1z"/><path d="M728 1918.7h15.7l-7.9 14.1z"/><path d="M731.8 1921.3h15.7l-7.9 14.1z"/><path d="M735.6 1934h15.7l-7.9 14.1z"/><path d="M739.4 1915.5h15.7l-7.9 14.1z"/><path d="M743.2 1907.4h15.7l-7.9 14.1z"/><path d="M747 1911.5h15.7l-7.9 14.1z"/><path d="M750.8 1885.5h15.7l-7.9 14.1z"/><path d="M754.6 1920.9h15.7l-7.9 14.1z"/><path d="M758.4 1909.8h15.7l-7.9 14.1z"/><path d="M762.2 1931.4h15.7l-7.9 14.1z"/><path d="M766 1901.9h15.7l-7.9 14.1z"/><path d="M769.8 1914.1h15.7l-7.9 14.1z"/><path d="M773.6 1903.8h15.7l-7.9 14.1z"/><path d="M777.4 1902.8h15.7l-7.9 14.1z"/><path d="M781.2 1939h15.7l-7.9 14.1z"/><path d="M785 1916.5h15.7l-7.9 14.1z"/><path d="M788.8 1935.4h15.7l-7.9 14.1z"/><path d="M792.6 1905h15.7l-7.9 14.1z"/><path d="M796.4 1930.1h15.7l-7.9 14.1z"/><path d="M800.3 1895.2h15.7l-7.9 14.1z"/><path d="M804.1 1920.2h15.7l-7.9 14.1z"/><path d="M807.9 1920.5h15.7l-7.9 14.1z"/><path d="M811.7 1943h15.7l-7.9 14.1z"/><path d="M815.5 1935.8h15.7l-7.9 14.1z"/><path d="M819.3 1929.5h15.7l-7.9 14.1z"/><path d="M823.1 1950.5h15.7l-7.9 14.1z"/><path d="M826.9 1938.4h15.7l-7.9 14.1z"/><path d="M830.7 1946.1h15.7l-7.9 14.1z"/><path d="M834.5 1951.5h15.7l-7.9 14.1z"/><path d="M838.3 1935.7h15.7l-7.9 14.1z"/><path d="M842.1 1931.9h15.7l-7.9 14.1z"/><path d="M845.9 1945.3h15.7l-7.9 14.1z"/><path d="M849.7 1931.4h15.7l-7.9 14.1z"/><path d="M853.5 1948.5h15.7l-7.9 14.1z"/><path d="M857.3 1963.9h15.7l-7.9 14.1z"/><path d="M861.1 1959.8h15.7l-7.9 14.1z"/><path d="M864.9 1936.1h15.7l-7.9 14.1z"/><path d="M868.7 1919h15.7l-7.9 14.1z"/><path d="M872.5 1944.6h15.7l-7.9 14.1z"/><path d="M876.4 1944.1h15.7l-7.9 14.1z"/><path d="M880.2 1969.7h15.7l-7.9 14.1z"/><path d="M884 1941h15.7l-7.9 14.1z"/><path d="M887.8 1945.4h15.7l-7.9 14.1z"/><path d="M891.6 1965.3h15.7l-7.9 14.1z"/><path d="M895.4 1941.4h15.7l-7.9 14.1z"/><path d="M899.2 1948h15.7l-7.9 14.1z"/><path d="M903 1985.6h15.7l-7.9 14.1z"/><path d="M906.8 1981.4h15.7l-7.9 14.1z"/><path d="M910.6 1964.4h15.7l-7.9 14.1z"/><path d="M914.4 1957.4h15.7l-7.9 14.1z"/><path d="M918.2 1932.9h15.7l-7.9 14.1z"/><path d="M922 1963.7h15.7l-7.9 14.1z"/><path d="M925.8 1953.9h15.7l-7.9 14.1z"/><path d="M929.6 1957.4h15.7l-7.9 14.1z"/><path d="M933.4 1942.8h15.7l-7.9 14.1z"/><path d="M937.2 1953.2h15.7l-7.9 14.1z"/><path d="M941 1950h15.7l-7.9 14.1z"/><path d="M944.8 1960.2h15.7l-7.9 14.1z"/><path d="M948.6 1982.6h15.7l-7.9 14.1z"/><path d="M952.5 1961.6h15.7l-7.9 14.1z"/><path d="M956.3 1921.5h15.7l-7.9 14.1z"/><path d="M960.1 1935.4h15.7l-7.9 14.1z"/><path d="M963.9 1923.4h15.7l-7.9 14.1z"/><path d="M967.7 1939.4h15.7l-7.9 14.1z"/><path d="M971.5 1966.6h15.7l-7.9 14.1z"/><path d="M975.3 1963.7h15.7l-7.9 14.1z"/><path d="M979.1 1944h15.7l-7.9 14.1z"/><path d="M982.9 1961.5h15.7l-7.9 14.1z"/><path d="M986.7 1941.3h15.7l-7.9 14.1z"/><path d="M990.5 1928.3h15.7l-7.9 14.1z"/><path d="M994.3 1928.8h15.7l-7.9 14.1z"/><path d="M998.1 1940h15.7l-7.9 14.1z"/><path d="M1001.9 1985.8h15.7l-7.9 14.1z"/><path d="M1005.7 1931h15.7l-7.9 14.1z"/><path d="M1009.5 1982.9h15.7l-7.9 14.1z"/><path d="M1013.3 1984.9h15.7l-7.9 14.1z"/><path d="M1017.1 1955.1h15.7l-7.9 14.1z"/><path d="M1020.9 1958h15.7l-7.9 14.1z"/><path d="M1024.8 1947.1h15.7l-7.9 14.1z"/><path d="M1028.6 1959.1h15.7l-7.9 14.1z"/><path d="M1032.4 1973h15.7l-7.9 14.1z"/><path d="M1036.2 1960.4h15.7l-7.9 14.1z"/><path d="M1040 1980.4h15.7l-7.9 14.1z"/><path d="M1043.8 1984.5h15.7l-7.9 14.1z"/><path d="M1047.6 1967.9h15.7l-7.9 14.1z"/><path d="M1051.4 1967.9h15.7l-7.9 14.1z"/><path d="M1055.2 1960.5h15.7l-7.9 14.1z"/><path d="M1059 1968.9h15.7l-7.9 14.1z"/><path d="M1062.8 1940.1h15.7l-7.9 14.1z"/><path d="M1066.6 1970.7h15.7l-7.9 14.1z"/><path d="M1070.4 1967h15.7l-7.9 14.1z"/><path d="M1074.2 1946h15.7l-7.9 14.1z"/><path d="M1078 2006.5h15.7l-7.9 14.1z"/><path d="M1081.8 1944.4h15.7l-7.9 14.1z"/><path d="M1085.6 1946.8h15.7l-7.9 14.1z"/><path d="M1089.4 1970h15.7l-7.9 14.1z"/><path d="M1093.2 1926h15.7l-7.9 14.1z"/><path d="M1097 1948.8h15.7l-7.9 14.1z"/><path d="M1100.9 1934.2h15.7l-7.9 14.1z"/><path d="M1104.7 1945.3h15.7l-7.9 14.1z"/><path d="M1108.5 1962h15.7l-7.9 14.1z"/><path d="M1112.3 1971h15.7l-7.9 14.1z"/><path d="M1116.1 1986.6h15.7l-7.9 14.1z"/><path d="M1119.9 1980.7h15.7l-7.9 14.1z"/><path d="M1123.7 1988.2h15.7l-7.9 14.1z"/><path d="M1127.5 1976.3h15.7l-7.9 14.1z"/><path d="M1131.3 1955.2h15.7l-7.9 14.1z"/><path d="M1135.1 1986.9h15.7l-7.9 14.1z"/><path d="M1138.9 1954.8h15.7l-7.9 14.1z"/><path d="M1142.7 1952.3h15.7l-7.9 14.1z"/><path d="M1146.5 1995.1h15.7l-7.9 14.1z"/><path d="M1150.3 1980.3h15.7l-7.9 14.1z"/><path d="M1154.1 1969h15.7l-7.9 14.1z"/><path d="M1157.9 1979.6h15.7l-7.9 14.1z"/><path d="M1161.7 1982.1h15.7l-7.9 14.1z"/><path d="M1165.5 1937.4h15.7l-7.9 14.1z"/><path d="M1169.3 1962.7h15.7l-7.9 14.1z"/><path d="M1173.1 1941h15.7l-7.9 14.1z"/><path d="M1177 1967h15.7l-7.9 14.1z"/><path d="M1180.8 1951.2h15.7l-7.9 14.1z"/><path d="M1184.6 1991.7h15.7l-7.9 14.1z"/><path d="M1188.4 1974.9h15.7l-7.9 14.1z"/><path d="M1192.2 1948.3h15.7l-7.9 14.1z"/><path d="M1196 1964h15.7l-7.9 14.1z"/><path d="M1199.8 1940.1h15.7l-7.9 14.1z"/><path d="M1203.6 1964.9h15.7l-7.9 14.1z"/><path d="M1207.4 1974.9h15.7l-7.9 14.1z"/><path d="M1211.2 1969h15.7l-7.9 14.1z"/><path d="M1214.1 1895.7h15.7l-7.9 14.1z"/><path d="M1215 1925.1h15.7l-7.9 14.1z"/><path d="M1218.8 1956.8h15.7l-7.9 14.1z"/><path d="M1222.6 1973.5h15.7l-7.9 14.1z"/><path d="M1226.4 1969.3h15.7l-7.9 14.1z"/><path d="M1230.2 1986.2h15.7l-7.9 14.1z"/><path d="M1234 1937.2h15.7l-7.9 14.1z"/><path d="M1237.8 1973.2h15.7l-7.9 14.1z"/><path d="M1241.6 1949.5h15.7l-7.9 14.1z"/><path d="M1245.4 1966.3h15.7l-7.9 14.1z"/><path d="M1249.3 1970.4h15.7l-7.9 14.1z"/><path d="M1253.1 1975.8h15.7l-7.9 14.1z"/><path d="M1256.9 1950.4h15.7l-7.9 14.1z"/><path d="M1260.7 1965.5h15.7l-7.9 14.1z"/><path d="M1264.5 1938.3h15.7l-7.9 14.1z"/><path d="M1268.3 1933.3h15.7l-7.9 14.1z"/><path d="M1272.1 1972.4h15.7l-7.9 14.1z"/><path d="M1275.9 1960.1h15.7l-7.9 14.1z"/><path d="M1279.7 1928.7h15.7l-7.9 14.1z"/><path d="M1283.5 1943.9h15.7l-7.9 14.1z"/><path d="M1287.3 1961.1h15.7l-7.9 14.1z"/><path d="M1291.1 1991.6h15.7l-7.9 14.1z"/><path d="M1294.9 1981.1h15.7l-7.9 14.1z"/><path d="M1298.7 1975.8h15.7l-7.9 14.1z"/><path d="M1302.5 1923.8h15.7l-7.9 14.1z"/><path d="M1306.3 1957.2h15.7l-7.9 14.1z"/><path d="M1310.1 1968.3h15.7l-7.9 14.1z"/><path d="M1313.9 1966.3h15.7l-7.9 14.1z"/><path d="M1317.7 1966.4h15.7l-7.9 14.1z"/><path d="M1321.5 1953h15.7l-7.9 14.1z"/><path d="M1325.4 1992.5h15.7l-7.9 14.1z"/><path d="M1329.2 1986.5h15.7l-7.9 14.1z"/><path d="M1333 1954.7h15.7l-7.9 14.1z"/><path d="M1336.8 1936.7h15.7l-7.9 14.1z"/><path d="M1340.6 1996.9h15.7l-7.9 14.1z"/><path d="M1344.4 1944.5h15.7l-7.9 14.1z"/><path d="M1348.1 1911.7h15.7l-7.9 14.1z"/><path d="M1348.2 1979.1h15.7l-7.9 14.1z"/><path d="M1352 1993h15.7l-7.9 14.1z"/></g>
<g stroke="#008000"><path d="M195.5 1934.7l7.7 8.2l-7.7 8.2l-7.7 -8.2z"/><path d="M199.3 1960.4l7.7 8.2l-7.7 8.2l-7.7 -8.2z"/><path d="M203.1 1946.7l7.7 8.2l-7.7 8.2l-7.7 -8.2z"/><path d="M206.9 1964.6l7.7 8.2l-7.7 8.2l-7.7 -8.2z"/><path d="M210.7 1960.3l7.7 8.2l-7.7 8.2l-7.7 -8.2z"/><path d="M214.5 1994.1l7.7 8.2l-7.7 8.2l-7.7 -8.2z"/><path d="M218.3 1965.5l7.7 8.2l-7.7 8.2l-7.7 -8.2z"/><path d="M222.1 1952.6l7.7 8.2l-7.7 8.2l-7.7 -8.2z"/><path d="M225.9 1976.2l7.7 8.2l-7.7 8.2l-7.7 -8.2z"/><path d="M229.7 1946.6l7.7 8.2l-7.7 8.2l-7.7 -8.2z"/><path d="M233.6 1944.4l7.7 8.2l-7.7 8.2l-7.7 -8.2z"/><path d="M237.4 1998.9l7.7 8.2l-7.7 8.2l-7.7 -8.2z"/><path d="M241.2 1934.4l7.7 8.2l-7.7 8.2l-7.7 -8.2z"/><path d="M245 1941.1l7.7 8.2l-7.7 8.2l-7.7 -8.2z"/><path d="M248.8 1952.1l7.7 8.2l-7.7 8.2l-7.7 -8.2z"/><path d="M252.6 1928.7l7.7 8.2l-7.7 8.2l-7.7 -8.2z"/><path d="M256.4 1906.4l7.7 8.2l-7.7 8.2l-7.7 -8.2z"/><path d="M260.2 1972.6l7.7 8.2l-7.7 8.2l-7.7 -8.2z"/><path d="M264 1933.7l7.7 8.2l-7.7 8.2l-7.7 -8.2z"/><path d="M267.8 1938.6l7.7 8.2l-7.7 8.2l-7.7 -8.2z"/><path d="M271.6 1941.9l7.7 8.2l-7.7 8.2l-7.7 -8.2z"/><path d="M275.4 1928.8l7.7 8.2l-7.7 8.2l-7.7 -8.2z"/><path d="M279.2 1926.1l7.7 8.2l-7.7 8.2l-7.7 -8.2z"/><path d="M283 1951.3l7.7 8.2l-7.7 8.2l-7.7 -8.2z"/><path d="M286.8 1997.5l7.7 8.2l-7.7 8.2l-7.7 -8.2z"/><path d="M290.6 1961.9l7.7 8.2l-7.7 8.2l-7.7 -8.2z"/><path d="M294.4 1961.3l7.7 8.2l-7.7 8.2l-7.7 -8.2z"/><path d="M298.2 1913.3l7.7 8.2l-7.7 8.2l-7.7 -8.2z"/><path d="M302 1943.6l7.7 8.2l-7.7 8.2l-7.7 -8.2z"/><path d="M305.8 1918.5l7.7 8.2l-7.7 8.2l-7.7 -8.2z"/><path d="M309.7 1958.8l7.7 8.2l-7.7 8.2l-7.7 -8.2z"/><path d="M313.5 1937l7.7 8.2l-7.7 8.2l-7.7 -8.2z"/><path d="M317.3 1941.9l7.7 8.2l-7.7 8.2l-7.7 -8.2z"/><path d="M321.1 1938.4l7.7 8.2l-7.7 8.2l-7.7 -8.2z"/><path d="M324.9 1927.3l7.7 8.2l-7.7 8.2l-7.7 -8.2z"/><path d="M328.7 1906.8l7.7 8.2l-7.7 8.2l-7.7 -8.2z"/><path d="M332.5 1950.2l7.7 8.2l-7.7 8.2l-7.7 -8.2z"/><path d="M336.3 1908.2l7.7 8.2l-7.7 8.2l-7.7 -8.2z"/><path d="M340.1 1911.7l7.7 8.2l-7.7 8.2l-7.7 -8.2z"/><path d="M343.9 1929.2l7.7 8.2l-7.7 8.2l-7.7 -8.2z"/><path d="M347.7 1919.5l7.7 8.2l-7.7 8.2l-7.7 -8.2z"/><path d="M351.5 1938.8l7.7 8.2l-7.7 8.2l-7.7 -8.2z"/><path d="M355.3 1953.4l7.7 8.2l-7.7 8.2l-7.7 -8.2z"/><path d="M359.1 1936.4l7.7 8.2l-7.7 8.2l-7.7 -8.2z"/><path d="M362.9 1934.2l7.7 8.2l-7.7 8.2l-7.7 -8.2z"/><path d="M366.7 1929.5l7.7 8.2l-7.7 8.2l-7.7 -8.2z"/><path d="M370.5 1945.9l7.7 8.2l-7.7 8.2l-7.7 -8.2z"/><path d="M374.3 1888.1l7.7 8.2l-7.7 8.2l-7.7 -8.2z"/><path d="M378.1 1933.5l7.7 8.2l-7.7 8.2l-7.7 -8.2z"/><path d="M381.9 1905.1l7.7 8.2l-7.7 8.2l-7.7 -8.2z"/><path d="M385.8 1897.8l7.7 8.2l-7.7 8.2l-7.7 -8.2z"/><path d="M389.6 1922.7l7.7 8.2l-7.7 8.2l-7.7 -8.2z"/><path d="M393.4 1913.4l7.7 8.2l-7.7 8.2l-7.7 -8.2z"/><path d="M397.2 1932.7l7.7 8.2l-7.7 8.2l-7.7 -8.2z"/><path d="M401 1942.5l7.7 8.2l-7.7 8.2l-7.7 -8.2z"/><path d="M404.8 1869.4l7.7 8.2l-7.7 8.2l-7.7 -8.2z"/><path d="M408.6 1915.3l7.7 8.2l-7.7 8.2l-7.7 -8.2z"/><path d="M412.4 1956.5l7.7 8.2l-7.7 8.2l-7.7 -8.2z"/><path d="M416.2 1932.2l7.7 8.2l-7.7 8.2l-7.7 -8.2z"/><path d="M420 1943l7.7 8.2l-7.7 8.2l-7.7 -8.2z"/><path d="M423.8 1913.3l7.7 8.2l-7.7 8.2l-7.7 -8.2z"/><path d="M427.6 1879.6l7.7 8.2l-7.7 8.2l-7.7 -8.2z"/><path d="M431.4 1884.8l7.7 8.2l-7.7 8.2l-7.7 -8.2z"/><path d="M435.2 1921.9l7.7 8.2l-7.7 8.2l-7.7 -8.2z"/><path d="M439 1925.7l7.7 8.2l-7.7 8.2l-7.7 -8.2z"/><path d="M442.8 1888.8l7.7 8.2l-7.7 8.2l-7.7 -8.2z"/><path d="M446.6 1897.1l7.7 8.2l-7.7 8.2l-7.7 -8.2z"/><path d="M450.4 1906.9l7.7 8.2l-7.7 8.2l-7.7 -8.2z"/><path d="M454.2 1864.2l7.7 8.2l-7.7 8.2l-7.7 -8.2z"/><path d="M458 1893l7.7 8.2l-7.7 8.2l-7.7 -8.2z"/><path d="M461.9 1933.8l7.7 8.2l-7.7 8.2l-7.7 -8.2z"/><path d="M465.7 1945.2l7.7 8.2l-7.7 8.2l-7.7 -8.2z"/><path d="M469.5 1896.5l7.7 8.2l-7.7 8.2l-7.7 -8.2z"/><path d="M473.3 1936.7l7.7 8.2l-7.7 8.2l-7.7 -8.2z"/><path d="M477.1 1886.7l7.7 8.2l-7.7 8.2l-7.7 -8.2z"/><path d="M480.9 1880.2l7.7 8.2l-7.7 8.2l-7.7 -8.2z"/><path d="M484.7 1849.7l7.7 8.2l-7.7 8.2l-7.7 -8.2z"/><path d="M488.5 1916.2l7.7 8.2l-7.7 8.2l-7.7 -8.2z"/><path d="M492.3 1887.7l7.7 8.2l-7.7 8.2l-7.7 -8.2z"/><path d="M496.1 1944.2l7.7 8.2l-7.7 8.2l-7.7 -8.2z"/><path d="M499.9 1901.5l7.7 8.2l-7.7 8.2l-7.7 -8.2z"/><path d="M503.7 1897.5l7.7 8.2l-7.7 8.2l-7.7 -8.2z"/><path d="M507.5 1854.6l7.7 8.2l-7.7 8.2l-7.7 -8.2z"/><path d="M511.3 1923.1l7.7 8.2l-7.7 8.2l-7.7 -8.2z"/><path d="M515.1 1883l7.7 8.2l-7.7 8.2l-7.7 -8.2z"/><path d="M518.9 1886.2l7.7 8.2l-7.7 8.2l-7.7 -8.2z"/><path d="M522.7 1842.3l7.7 8.2l-7.7 8.2l-7.7 -8.2z"/><path d="M526.5 1907.1l7.7 8.2l-7.7 8.2l-7.7 -8.2z"/><path d="M530.3 1907.4l7.7 8.2l-7.7 8.2l-7.7 -8.2z"/><path d="M534.2 1872.9l7.7 8.2l-7.7 8.2l-7.7 -8.2z"/><path d="M538 1886.6l7.7 8.2l-7.7 8.2l-7.7 -8.2z"/><path d="M541.8 1891.9l7.7 8.2l-7.7 8.2l-7.7 -8.2z"/><path d="M545.6 1902.9l7.7 8.2l-7.7 8.2l-7.7 -8.2z"/><path d="M549.4 1883.9l7.7 8.2l-7.7 8.2l-7.7 -8.2z"/><path d="M553.2 1916.3l7.7 8.2l-7.7 8.2l-7.7 -8.2z"/><path d="M557 1873.3l7.7 8.2l-7.7 8.2l-7.7 -8.2z"/><path d="M560.8 1863.9l7.7 8.2l-7.7 8.2l-7.7 -8.2z"/><path d="M564.6 1865l7.7 8.2l-7.7 8.2l-7.7 -8.2z"/><path d="M568.4 1819.8l7.7 8.2l-7.7 8.2l-7.7 -8.2z"/><path d="M572.2 1854.4l7.7 8.2l-7.7 8.2l-7.7 -8.2z"/><path d="M576 1890.8l7.7 8.2l-7.7 8.2l-7.7 -8.2z"/><path d="M579.8 1873.4l7.7 8.2l-7.7 8.2l-7.7 -8.2z"/><path d="M583.6 1848.9l7.7 8.2l-7.7 8.2l-7.7 -8.2z"/><path d="M587.4 1871.7l7.7 8.2l-7.7 8.2l-7.7 -8.2z"/><path d="M591.2 1820.2l7.7 8.2l-7.7 8.2l-7.7 -8.2z"/><path d="M595 1854.9l7.7 8.2l-7.7 8.2l-7.7 -8.2z"/><path d="M598.8 1870.2l7.7 8.2l-7.7 8.2l-7.7 -8.2z"/><path d="M602.6 1872.8l7.7 8.2l-7.7 8.2l-7.7 -8.2z"/><path d="M606.4 1841.2l7.7 8.2l-7.7 8.2l-7.7 -8.2z"/><path d="M610.3 1875.9l7.7 8.2l-7.7 8.2l-7.7 -8.2z"/><path d="M613 1804.8l7.7 8.2l-7.7 8.2l-7.7 -8.2z"/><path d="M614.1 1895.3l7.7 8.2l-7.7 8.2l-7.7 -8.2z"/><path d="M617.9 1846.4l7.7 8.2l-7.7 8.2l-7.7 -8.2z"/><path d="M621.7 1870.3l7.7 8.2l-7.7 8.2l-7.7 -8.2z"/><path d="M625.5 1821.3l7.7 8.2l-7.7 8.2l-7.7 -8.2z"/><path d="M629.3 1812.1l7.7 8.2l-7.7 8.2l-7.7 -8.2z"/><path d="M633.1 1865.5l7.7 8.2l-7.7 8.2l-7.7 -8.2z"/><path d="M636.9 1852.9l7.7 8.2l-7.7 8.2l-7.7 -8.2z"/><path d="M640.7 1855.5l7.7 8.2l-7.7 8.2l-7.7 -8.2z"/><path d="M644.5 1838.4l7.7 8.2l-7.7 8.2l-7.7 -8.2z"/><path d="M648.3 1843.8l7.7 8.2l-7.7 8.2l-7.7 -8.2z"/><path d="M652.1 1866.5l7.7 8.2l-7.7 8.2l-7.7 -8.2z"/><path d="M655.9 1885.1l7.7 8.2l-7.7 8.2l-7.7 -8.2z"/><path d="M659.7 1844.1l7.7 8.2l-7.7 8.2l-7.7 -8.2z"/><path d="M663.5 1813.6l7.7 8.2l-7.7 8.2l-7.7 -8.2z"/><path d="M667.3 1874.7l7.7 8.2l-7.7 8.2l-7.7 -8.2z"/><path d="M671.1 1860.2l7.7 8.2l-7.7 8.2l-7.7 -8.2z"/><path d="M674.9 1861.5l7.7 8.2l-7.7 8.2l-7.7 -8.2z"/><path d="M678.7 1850.6l7.7 8.2l-7.7 8.2l-7.7 -8.2z"/><path d="M682.5 1895.2l7.7 8.2l-7.7 8.2l-7.7 -8.2z"/><path d="M686.4 1847.6l7.7 8.2l-7.7 8.2l-7.7 -8.2z"/><path d="M690.2 1856.5l7.7 8.2l-7.7 8.2l-7.7 -8.2z"/><path d="M694 1806.3l7.7 8.2l-7.7 8.2l-7.7 -8.2z"/><path d="M697.8 1832.7l7.7 8.2l-7.7 8.2l-7.7 -8.2z"/><path d="M701.6 1830.1l7.7 8.2l-7.7 8.2l-7.7 -8.2z"/><path d="M705.4 1843.7l7.7 8.2l-7.7 8.2l-7.7 -8.2z"/><path d="M707.8 1786.8l7.7 8.2l-7.7 8.2l-7.7 -8.2z"/><path d="M709.2 1851.4l7.7 8.2l-7.7 8.2l-7.7 -8.2z"/><path d="M713 1828.1l7.7 8.2l-7.7 8.2l-7.7 -8.2z"/><path d="M716.8 1880l7.7 8.2l-7.7 8.2l-7.7 -8.2z"/><path d="M720.6 1821.1l7.7 8.2l-7.7 8.2l-7.7 -8.2z"/><path d="M724.4 1833.7l7.7 8.2l-7.7 8.2l-7.7 -8.2z"/><path d="M728.2 1848l7.7 8.2l-7.7 8.2l-7.7 -8.2z"/><path d="M732 1816.5l7.7 8.2l-7.7 8.2l-7.7 -8.2z"/><path d="M735.8 1854.5l7.7 8.2l-7.7 8.2l-7.7 -8.2z"/><path d="M739.6 1855.6l7.7 8.2l-7.7 8.2l-7.7 -8.2z"/><path d="M743.4 1835.9l7.7 8.2l-7.7 8.2l-7.7 -8.2z"/><path d="M747.2 1882l7.7 8.2l-7.7 8.2l-7.7 -8.2z"/><path d="M751 1843.5l7.7 8.2l-7.7 8.2l-7.7 -8.2z"/><path d="M754.8 1847.9l7.7 8.2l-7.7 8.2l-7.7 -8.2z"/><path d="M758.7 1822l7.7 8.2l-7.7 8.2l-7.7 -8.2z"/><path d="M762.5 1807.2l7.7 8.2l-7.7 8.2l-7.7 -8.2z"/><path d="M766.3 1829.4l7.7 8.2l-7.7 8.2l-7.7 -8.2z"/><path d="M770.1 1836.1l7.7 8.2l-7.7 8.2l-7.7 -8.2z"/><path d="M773.9 1833.5l7.7 8.2l-7.7 8.2l-7.7 -8.2z"/><path d="M777.7 1859.5l7.7 8.2l-7.7 8.2l-7.7 -8.2z"/><path d="M781.5 1793.4l7.7 8.2l-7.7 8.2l-7.7 -8.2z"/><path d="M785.3 1820l7.7 8.2l-7.7 8.2l-7.7 -8.2z"/><path d="M789.1 1805.6l7.7 8.2l-7.7 8.2l-7.7 -8.2z"/><path d="M792.9 1872.4l7.7 8.2l-7.7 8.2l-7.7 -8.2z"/><path d="M796.7 1832.6l7.7 8.2l-7.7 8.2l-7.7 -8.2z"/><path d="M800.5 1834.1l7.7 8.2l-7.7 8.2l-7.7 -8.2z"/><path d="M804.3 1823.9l7.7 8.2l-7.7 8.2l-7.7 -8.2z"/><path d="M808.1 1868l7.7 8.2l-7.7 8.2l-7.7 -8.2z"/><path d="M811.9 1842.6l7.7 8.2l-7.7 8.2l-7.7 -8.2z"/><path d="M815.7 1858l7.7 8.2l-7.7 8.2l-7.7 -8.2z"/><path d="M819.5 1812.7l7.7 8.2l-7.7 8.2l-7.7 -8.2z"/><path d="M823.3 1882.1l7.7 8.2l-7.7 8.2l-7.7 -8.2z"/><path d="M827.1 1867.9l7.7 8.2l-7.7 8.2l-7.7 -8.2z"/><path d="M830.9 1873.3l7.7 8.2l-7.7 8.2l-7.7 -8.2z"/><path d="M834.8 1889.8l7.7 8.2l-7.7 8.2l-7.7 -8.2z"/><path d="M838.6 1861.8l7.7 8.2l-7.7 8.2l-7.7 -8.2z"/><path d="M842.4 1864.7l7.7 8.2l-7.7 8.2l-7.7 -8.2z"/><path d="M846.2 1885.6l7.7 8.2l-7.7 8.2l-7.7 -8.2z"/><path d="M850 1881.9l7.7 8.2l-7.7 8.2l-7.7 -8.2z"/><path d="M853.8 1870.2l7.7 8.2l-7.7 8.2l-7.7 -8.2z"/><path d="M857.6 1878.6l7.7 8.2l-7.7 8.2l-7.7 -8.2z"/><path d="M861.4 1869.5l7.7 8.2l-7.7 8.2l-7.7 -8.2z"/><path d="M865.2 1897.5l7.7 8.2l-7.7 8.2l-7.7 -8.2z"/><path d="M869 1904.5l7.7 8.2l-7.7 8.2l-7.7 -8.2z"/><path d="M872.8 1887.3l7.7 8.2l-7.7 8.2l-7.7 -8.2z"/><path d="M876.6 1929.1l7.7 8.2l-7.7 8.2l-7.7 -8.2z"/><path d="M880.4 1859.6l7.7 8.2l-7.7 8.2l-7.7 -8.2z"/><path d="M884.2 1889.2l7.7 8.2l-7.7 8.2l-7.7 -8.2z"/><path d="M888 1932.3l7.7 8.2l-7.7 8.2l-7.7 -8.2z"/><path d="M891.8 1889.7l7.7 8.2l-7.7 8.2l-7.7 -8.2z"/><path d="M895.6 1867.1l7.7 8.2l-7.7 8.2l-7.7 -8.2z"/><path d="M899.4 1932.3l7.7 8.2l-7.7 8.2l-7.7 -8.2z"/><path d="M903.2 1916.6l7.7 8.2l-7.7 8.2l-7.7 -8.2z"/><path d="M907 1882.2l7.7 8.2l-7.7 8.2l-7.7 -8.2z"/><path d="M910.9 1925.8l7.7 8.2l-7.7 8.2l-7.7 -8.2z"/><path d="M914.7 1890.1l7.7 8.2l-7.7 8.2l-7.7 -8.2z"/><path d="M918.5 1885.7l7.7 8.2l-7.7 8.2l-7.7 -8.2z"/><path d="M922.3 1912.2l7.7 8.2l-7.7 8.2l-7.7 -8.2z"/><path d="M926.1 1906.4l7.7 8.2l-7.7 8.2l-7.7 -8.2z"/><path d="M929.9 1894.6l7.7 8.2l-7.7 8.2l-7.7 -8.2z"/><path d="M933.7 1911.2l7.7 8.2l-7.7 8.2l-7.7 -8.2z"/><path d="M937.5 1898.9l7.7 8.2l-7.7 8.2l-7.7 -8.2z"/><path d="M941.3 1922.4l7.7 8.2l-7.7 8.2l-7.7 -8.2z"/><path d="M945.1 1921.8l7.7 8.2l-7.7 8.2l-7.7 -8.2z"/><path d="M948.9 1939.1l7.7 8.2l-7.7 8.2l-7.7 -8.2z"/><path d="M952.7 1915l7.7 8.2l-7.7 8.2l-7.7 -8.2z"/><path d="M956.5 1897.7l7.7 8.2l-7.7 8.2l-7.7 -8.2z"/><path d="M960.3 1899l7.7 8.2l-7.7 8.2l-7.7 -8.2z"/><path d="M964.1 1922.1l7.7 8.2l-7.7 8.2l-7.7 -8.2z"/><path d="M967.9 1960.1l7.7 8.2l-7.7 8.2l-7.7 -8.2z"/><path d="M971.7 1946.1l7.7 8.2l-7.7 8.2l-7.7 -8.2z"/><path d="M975.5 1915.2l7.7 8.2l-7.7 8.2l-7.7 -8.2z"/><path d="M979.3 1949l7.7 8.2l-7.7 8.2l-7.7 -8.2z"/><path d="M983.1 1905.2l7.7 8.2l-7.7 8.2l-7.7 -8.2z"/><path d="M987 1951.5l7.7 8.2l-7.7 8.2l-7.7 -8.2z"/><path d="M990.8 1922.5l7.7 8.2l-7.7 8.2l-7.7 -8.2z"/><path d="M994.6 1947.3l7.7 8.2l-7.7 8.2l-7.7 -8.2z"/><path d="M998.4 1944.7l7.7 8.2l-7.7 8.2l-7.7 -8.2z"/><path d="M1002.2 1926.1l7.7 8.2l-7.7 8.2l-7.7 -8.2z"/><path d="M1006 1939.2l7.7 8.2l-7.7 8.2l-7.7 -8.2z"/><path d="M1009.8 1910.1l7.7 8.2l-7.7 8.2l-7.7 -8.2z"/><path d="M1013.6 1931.3l7.7 8.2l-7.7 8.2l-7.7 -8.2z"/><path d="M1017.4 1956l7.7 8.2l-7.7 8.2l-7.7 -8.2z"/><path d="M1021.2 2019.8l7.7 8.2l-7.7 8.2l-7.7 -8.2z"/><path d="M1025 1948.7l7.7 8.2l-7.7 8.2l-7.7 -8.2z"/><path d="M1028.8 1936l7.7 8.2l-7.7 8.2l-7.7 -8.2z"/><path d="M1032.6 1913.2l7.7 8.2l-7.7 8.2l-7.7 -8.2z"/><path d="M1036.4 1957.1l7.7 8.2l-7.7 8.2l-7.7 -8.2z"/><path d="M1040.2 1900.2l7.7 8.2l-7.7 8.2l-7.7 -8.2z"/><path d="M1044 1918.5l7.7 8.2l-7.7 8.2l-7.7 -8.2z"/><path d="M1047.8 1943.3l7.7 8.2l-7.7 8.2l-7.7 -8.2z"/><path d="M1051.6 1910.7l7.7 8.2l-7.7 8.2l-7.7 -8.2z"/><path d="M1055.4 1968.8l7.7 8.2l-7.7 8.2l-7.7 -8.2z"/><path d="M1059.3 1959.7l7.7 8.2l-7.7 8.2l-7.7 -8.2z"/><path d="M1063.1 1925.2l7.7 8.2l-7.7 8.2l-7.7 -8.2z"/><path d="M1066.9 1925.9l7.7 8.2l-7.7 8.2l-7.7 -8.2z"/><path d="M1070.7 1910.3l7.7 8.2l-7.7 8.2l-7.7 -8.2z"/><path d="M1074.5 1909.1l7.7 8.2l-7.7 8.2l-7.7 -8.2z"/><path d="M1078.3 1948.4l7.7 8.2l-7.7 8.2l-7.7 -8.2z"/><path d="M1082.1 1952.7l7.7 8.2l-7.7 8.2l-7.7 -8.2z"/><path d="M1085.9 1947.4l7.7 8.2l-7.7 8.2l-7.7 -8.2z"/><path d="M1089.7 1946.1l7.7 8.2l-7.7 8.2l-7.7 -8.2z"/><path d="M1093.5 1929.2l7.7 8.2l-7.7 8.2l-7.7 -8.2z"/><path d="M1097.3 1949l7.7 8.2l-7.7 8.2l-7.7 -8.2z"/><path d="M1101.1 1910.8l7.7 8.2l-7.7 8.2l-7.7 -8.2z"/><path d="M1104.9 1942l7.7 8.2l-7.7 8.2l-7.7 -8.2z"/><path d="M1108.7 1972.8l7.7 8.2l-7.7 8.2l-7.7 -8.2z"/><path d="M1112.5 1969.7l7.7 8.2l-7.7 8.2l-7.7 -8.2z"/><path d="M1116.3 1932l7.7 8.2l-7.7 8.2l-7.7 -8.2z"/><path d="M1120.1 1934.7l7.7 8.2l-7.7 8.2l-7.7 -8.2z"/><path d="M1123.9 1970.8l7.7 8.2l-7.7 8.2l-7.7 -8.2z"/><path d="M1127.7 1979.5l7.7 8.2l-7.7 8.2l-7.7 -8.2z"/><path d="M1131.5 1910.2l7.7 8.2l-7.7 8.2l-7.7 -8.2z"/><path d="M1135.4 1932.8l7.7 8.2l-7.7 8.2l-7.7 -8.2z"/><path d="M1139.2 1946.7l7.7 8.2l-7.7 8.2l-7.7 -8.2z"/><path d="M1143 1967.5l7.7 8.2l-7.7 8.2l-7.7 -8.2z"/><path d="M1146.8 1924.1l7.7 8.2l-7.7 8.2l-7.7 -8.2z"/><path d="M1150.6 1955.2l7.7 8.2l-7.7 8.2l-7.7 -8.2z"/><path d="M1154.4 1934.1l7.7 8.2l-7.7 8.2l-7.7 -8.2z"/><path d="M1158.2 1989.4l7.7 8.2l-7.7 8.2l-7.7 -8.2z"/><path d="M1162 1947.3l7.7 8.2l-7.7 8.2l-7.7 -8.2z"/><path d="M1165.8 1934.2l7.7 8.2l-7.7 8.2l-7.7 -8.2z"/><path d="M1169.6 1928.9l7.7 8.2l-7.7 8.2l-7.7 -8.2z"/><path d="M1173.4 1957l7.7 8.2l-7.7 8.2l-7.7 -8.2z"/><path d="M1177.2 1948l7.7 8.2l-7.7 8.2l-7.7 -8.2z"/><path d="M1181 1909.7l7.7 8.2l-7.7 8.2l-7.7 -8.2z"/><path d="M1184.8 1935.9l7.7 8.2l-7.7 8.2l-7.7 -8.2z"/><path d="M1188.6 1902l7.7 8.2l-7.7 8.2l-7.7 -8.2z"/><path d="M1192.4 1913.1l7.7 8.2l-7.7 8.2l-7.7 -8.2z"/><path d="M1196.2 1900.6l7.7 8.2l-7.7 8.2l-7.7 -8.2z"/><path d="M1200 1898.8l7.7 8.2l-7.7 8.2l-7.7 -8.2z"/><path d="M1203.8 1911.6l7.7 8.2l-7.7 8.2l-7.7 -8.2z"/><path d="M1207.6 1904.6l7.7 8.2l-7.7 8.2l-7.7 -8.2z"/><path d="M1211.5 1935.6l7.7 8.2l-7.7 8.2l-7.7 -8.2z"/><path d="M1215.3 1940.6l7.7 8.2l-7.7 8.2l-7.7 -8.2z"/><path d="M1219.1 1918l7.7 8.2l-7.7 8.2l-7.7 -8.2z"/><path d="M1222.9 1898.6l7.7 8.2l-7.7 8.2l-7.7 -8.2z"/><path d="M1226.7 1938.4l7.7 8.2l-7.7 8.2l-7.7 -8.2z"/><path d="M1230.5 1878l7.7 8.2l-7.7 8.2l-7.7 -8.2z"/><path d="M1234.3 1879.2l7.7 8.2l-7.7 8.2l-7.7 -8.2z"/><path d="M1238.1 1934.5l7.7 8.2l-7.7 8.2l-7.7 -8.2z"/><path d="M1241.9 1932.3l7.7 8.2l-7.7 8.2l-7.7 -8.2z"/><path d="M1245.7 1938.2l7.7 8.2l-7.7 8.2l-7.7 -8.2z"/><path d="M1249.5 1912.4l7.7 8.2l-7.7 8.2l-7.7 -8.2z"/><path d="M1253.3 1889.5l7.7 8.2l-7.7 8.2l-7.7 -8.2z"/><path d="M1257.1 1904.6l7.7 8.2l-7.7 8.2l-7.7 -8.2z"/><path d="M1260.9 1926.6l7.7 8.2l-7.7 8.2l-7.7 -8.2z"/><path d="M1264.7 1897.7l7.7 8.2l-7.7 8.2l-7.7 -8.2z"/><path d="M1268.5 1898.3l7.7 8.2l-7.7 8.2l-7.7 -8.2z"/><path d="M1272.3 1882.9l7.7 8.2l-7.7 8.2l-7.7 -8.2z"/><path d="M1274 1993.8l7.7 8.2l-7.7 8.2l-7.7 -8.2z"/><path d="M1276.1 1887l7.7 8.2l-7.7 8.2l-7.7 -8.2z"/><path d="M1279.9 1928.6l7.7 8.2l-7.7 8.2l-7.7 -8.2z"/><path d="M1283.8 1919.6l7.7 8.2l-7.7 8.2l-7.7 -8.2z"/><path d="M1287.6 1884.8l7.7 8.2l-7.7 8.2l-7.7 -8.2z"/><path d="M1291.4 1885.8l7.7 8.2l-7.7 8.2l-7.7 -8.2z"/><path d="M1295.2 1895.9l7.7 8.2l-7.7 8.2l-7.7 -8.2z"/><path d="M1299 1918.6l7.7 8.2l-7.7 8.2l-7.7 -8.2z"/><path d="M1302.8 1881.9l7.7 8.2l-7.7 8.2l-7.7 -8.2z"/><path d="M1306.6 1902.7l7.7 8.2l-7.7 8.2l-7.7 -8.2z"/><path d="M1310.4 1860.8l7.7 8.2l-7.7 8.2l-7.7 -8.2z"/><path d="M1314.2 1879.2l7.7 8.2l-7.7 8.2l-7.7 -8.2z"/><path d="M1318 1914.3l7.7 8.2l-7.7 8.2l-7.7 -8.2z"/><path d="M1321.8 1924l7.7 8.2l-7.7 8.2l-7.7 -8.2z"/><path d="M1325.6 1880.4l7.7 8.2l-7.7 8.2l-7.7 -8.2z"/><path d="M1326 1875.8l7.7 8.2l-7.7 8.2l-7.7 -8.2z"/><path d="M1329.4 1888.2l7.7 8.2l-7.7 8.2l-7.7 -8.2z"/><path d="M1333.2 1921l7.7 8.2l-7.7 8.2l-7.7 -8.2z"/><path d="M1337 1895.6l7.7 8.2l-7.7 8.2l-7.7 -8.2z"/><path d="M1340.8 1892.2l7.7 8.2l-7.7 8.2l-7.7 -8.2z"/><path d="M1344.6 1914.2l7.7 8.2l-7.7 8.2l-7.7 -8.2z"/><path d="M1348.4 1907.1l7.7 8.2l-7.7 8.2l-7.7 -8.2z"/><path d="M1352.2 1926.1l7.7 8.2l-7.7 8.2l-7.7 -8.2z"/><path d="M1356 1919.1l7.7 8.2l-7.7 8.2l-7.7 -8.2z"/><path d="M1359.9 1889.9l7.7 8.2l-7.7 8.2l-7.7 -8.2z"/></g>
<g stroke="#000080"><path d="M188.1 1954.5l13.5 -7.4v14.9z"/><path d="M191.9 1955.5l13.5 -7.4v14.9z"/><path d="M195.7 1928l13.5 -7.4v14.9z"/><path d="M199.5 1935.8l13.5 -7.4v14.9z"/><path d="M203.3 1976.6l13.5 -7.4v14.9z"/><path d="M207.1 1922.4l13.5 -7.4v14.9z"/><path d="M210.9 1976.6l13.5 -7.4v14.9z"/><path d="M214.7 1961.4l13.5 -7.4v14.9z"/><path d="M218.5 1952.2l13.5 -7.4v14.9z"/><path d="M222.3 1966.3l13.5 -7.4v14.9z"/><path d="M226.1 1964.7l13.5 -7.4v14.9z"/><path d="M229.9 1979.9l13.5 -7.4v14.9z"/><path d="M233.7 1945.8l13.5 -7.4v14.9z"/><path d="M237.5 1949.2l13.5 -7.4v14.9z"/><path d="M241.3 1948.6l13.5 -7.4v14.9z"/><path d="M245.1 1993.2l13.5 -7.4v14.9z"/><path d="M248.9 1973.2l13.5 -7.4v14.9z"/><path d="M252.7 1933.6l13.5 -7.4v14.9z"/><path d="M256.5 1945.8l13.5 -7.4v14.9z"/><path d="M260.4 1937.7l13.5 -7.4v14.9z"/><path d="M264.2 1952.6l13.5 -7.4v14.9z"/><path d="M268 1956.6l13.5 -7.4v14.9z"/><path d="M271.8 1999.6l13.5 -7.4v14.9z"/><path d="M275.6 1912.1l13.5 -7.4v14.9z"/><path d="M279.4 1971.4l13.5 -7.4v14.9z"/><path d="M283.2 1958.2l13.5 -7.4v14.9z"/><path d="M287 1933.5l13.5 -7.4v14.9z"/><path d="M290.8 1944.4l13.5 -7.4v14.9z"/><path d="M294.6 1936.3l13.5 -7.4v14.9z"/><path d="M298.4 1947.1l13.5 -7.4v14.9z"/><path d="M302.2 1966.5l13.5 -7.4v14.9z"/><path d="M306 1912.5l13.5 -7.4v14.9z"/><path d="M309.8 1971.4l13.5 -7.4v14.9z"/><path d="M313.6 1935.1l13.5 -7.4v14.9z"/><path d="M317.4 1973.9l13.5 -7.4v14.9z"/><path d="M321.2 1950.1l13.5 -7.4v14.9z"/><path d="M325 1966.7l13.5 -7.4v14.9z"/><path d="M328.8 1951.9l13.5 -7.4v14.9z"/><path d="M332.7 1962.1l13.5 -7.4v14.9z"/><path d="M336.5 1939.3l13.5 -7.4v14.9z"/><path d="M340.3 1919.5l13.5 -7.4v14.9z"/><path d="M344.1 1950.2l13.5 -7.4v14.9z"/><path d="M347.9 1949.9l13.5 -7.4v14.9z"/><path d="M351.7 1978.1l13.5 -7.4v14.9z"/><path d="M355.5 1890.6l13.5 -7.4v14.9z"/><path d="M359.3 1927.6l13.5 -7.4v14.9z"/><path d="M363.1 1953l13.5 -7.4v14.9z"/><path d="M366.9 1903.2l13.5 -7.4v14.9z"/><path d="M370.7 1923.8l13.5 -7.4v14.9z"/><path d="M374.5 1972.1l13.5 -7.4v14.9z"/><path d="M378.3 1956.2l13.5 -7.4v14.9z"/><path d="M382.1 1906.8l13.5 -7.4v14.9z"/><path d="M385.9 1954.3l13.5 -7.4v14.9z"/><path d="M389.7 1948.2l13.5 -7.4v14.9z"/><path d="M393.5 1938.5l13.5 -7.4v14.9z"/><path d="M397.3 1929l13.5 -7.4v14.9z"/><path d="M401.1 1924.6l13.5 -7.4v14.9z"/><path d="M404.9 1899.9l13.5 -7.4v14.9z"/><path d="M408.8 1906l13.5 -7.4v14.9z"/><path d="M412.6 1930.8l13.5 -7.4v14.9z"/><path d="M416.4 1917l13.5 -7.4v14.9z"/><path d="M420.2 1951.5l13.5 -7.4v14.9z"/><path d="M424 1904.2l13.5 -7.4v14.9z"/><path d="M427.8 1859.3l13.5 -7.4v14.9z"/><path d="M431.6 1901.4l13.5 -7.4v14.9z"/><path d="M435.4 1912.9l13.5 -7.4v14.9z"/><path d="M439.2 1913.7l13.5 -7.4v14.9z"/><path d="M443 1905.7l13.5 -7.4v14.9z"/><path d="M446.8 1886.5l13.5 -7.4v14.9z"/><path d="M450.6 1934.7l13.5 -7.4v14.9z"/><path d="M454.4 1888.8l13.5 -7.4v14.9z"/><path d="M458.2 1917.2l13.5 -7.4v14.9z"/><path d="M462 1895.6l13.5 -7.4v14.9z"/><path d="M465.8 1876l13.5 -7.4v14.9z"/><path d="M469.6 1930.4l13.5 -7.4v14.9z"/><path d="M473.4 1847.3l13.5 -7.4v14.9z"/><path d="M477.2 1881.7l13.5 -7.4v14.9z"/><path d="M481 1908.1l13.5 -7.4v14.9z"/><path d="M484.9 1891l13.5 -7.4v14.9z"/><path d="M488.7 1913.8l13.5 -7.4v14.9z"/><path d="M492.5 1895.4l13.5 -7.4v14.9z"/><path d="M496.3 1887l13.5 -7.4v14.9z"/><path d="M500.1 1941l13.5 -7.4v14.9z"/><path d="M503.9 1889.9l13.5 -7.4v14.9z"/><path d="M507.7 1890.2l13.5 -7.4v14.9z"/><path d="M511.5 1869.8l13.5 -7.4v14.9z"/><path d="M515.3 1875.9l13.5 -7.4v14.9z"/><path d="M519.1 1904.3l13.5 -7.4v14.9z"/><path d="M522.9 1901.5l13.5 -7.4v14.9z"/><path d="M526.7 1888.7l13.5 -7.4v14.9z"/><path d="M530.5 1873l13.5 -7.4v14.9z"/><path d="M534.3 1901.1l13.5 -7.4v14.9z"/><path d="M538.1 1849.9l13.5 -7.4v14.9z"/><path d="M541.9 1877.6l13.5 -7.4v14.9z"/><path d="M545.7 1877.8l13.5 -7.4v14.9z"/><path d="M549.5 1863.6l13.5 -7.4v14.9z"/><path d="M553.3 1882.8l13.5 -7.4v14.9z"/><path d="M557.2 1863.9l13.5 -7.4v14.9z"/><path d="M561 1859.3l13.5 -7.4v14.9z"/><path d="M564.8 1912.3l13.5 -7.4v14.9z"/><path d="M568.6 1888.3l13.5 -7.4v14.9z"/><path d="M572.4 1896.1l13.5 -7.4v14.9z"/><path d="M576.2 1870.3l13.5 -7.4v14.9z"/><path d="M580 1887.7l13.5 -7.4v14.9z"/><path d="M583.8 1882.1l13.5 -7.4v14.9z"/><path d="M587.6 1889.5l13.5 -7.4v14.9z"/><path d="M591.4 1912l13.5 -7.4v14.9z"/><path d="M595.2 1856.5l13.5 -7.4v14.9z"/><path d="M599 1866l13.5 -7.4v14.9z"/><path d="M602.8 1858.8l13.5 -7.4v14.9z"/><path d="M606.6 1785.4l13.5 -7.4v14.9z"/><path d="M610.4 1829.2l13.5 -7.4v14.9z"/><path d="M614.2 1858.3l13.5 -7.4v14.9z"/><path d="M618 1870.5l13.5 -7.4v14.9z"/><path d="M621.8 1844.5l13.5 -7.4v14.9z"/><path d="M625.6 1879.7l13.5 -7.4v14.9z"/><path d="M629.4 1882.2l13.5 -7.4v14.9z"/><path d="M633.3 1845.9l13.5 -7.4v14.9z"/><path d="M637.1 1883.8l13.5 -7.4v14.9z"/><path d="M640.9 1890l13.5 -7.4v14.9z"/><path d="M644.7 1862.4l13.5 -7.4v14.9z"/><path d="M648.5 1831.7l13.5 -7.4v14.9z"/><path d="M652.3 1882.8l13.5 -7.4v14.9z"/><path d="M652.6 1806.6l13.5 -7.4v14.9z"/><path d="M656.1 1848.1l13.5 -7.4v14.9z"/><path d="M659.9 1843.3l13.5 -7.4v14.9z"/><path d="M663.7 1853.3l13.5 -7.4v14.9z"/><path d="M667.5 1839.2l13.5 -7.4v14.9z"/><path d="M671.3 1872.6l13.5 -7.4v14.9z"/><path d="M675.1 1866l13.5 -7.4v14.9z"/><path d="M678.9 1874.9l13.5 -7.4v14.9z"/><path d="M682.7 1861.2l13.5 -7.4v14.9z"/><path d="M686.5 1831.9l13.5 -7.4v14.9z"/><path d="M690.3 1844.9l13.5 -7.4v14.9z"/><path d="M694.1 1866.3l13.5 -7.4v14.9z"/><path d="M697.9 1839.1l13.5 -7.4v14.9z"/><path d="M701.7 1908.8l13.5 -7.4v14.9z"/><path d="M705.5 1842.1l13.5 -7.4v14.9z"/><path d="M709.4 1834.7l13.5 -7.4v14.9z"/><path d="M713.2 1870.9l13.5 -7.4v14.9z"/><path d="M717 1862.2l13.5 -7.4v14.9z"/><path d="M720.8 1845.7l13.5 -7.4v14.9z"/><path d="M724.6 1841.2l13.5 -7.4v14.9z"/><path d="M725.6 1806.6l13.5 -7.4v14.9z"/><path d="M728.4 1854.8l13.5 -7.4v14.9z"/><path d="M732.2 1863.2l13.5 -7.4v14.9z"/><path d="M736 1861.4l13.5 -7.4v14.9z"/><path d="M739.8 1838.8l13.5 -7.4v14.9z"/><path d="M743.6 1854.1l13.5 -7.4v14.9z"/><path d="M747.4 1863l13.5 -7.4v14.9z"/><path d="M751.2 1861.6l13.5 -7.4v14.9z"/><path d="M755 1780.9l13.5 -7.4v14.9z"/><path d="M758.8 1827.3l13.5 -7.4v14.9z"/><path d="M762.6 1829.9l13.5 -7.4v14.9z"/><path d="M766.4 1841.6l13.5 -7.4v14.9z"/><path d="M770.2 1850.4l13.5 -7.4v14.9z"/><path d="M774 1866.2l13.5 -7.4v14.9z"/><path d="M777.8 1860.1l13.5 -7.4v14.9z"/><path d="M781.6 1844.7l13.5 -7.4v14.9z"/><path d="M785.5 1848.1l13.5 -7.4v14.9z"/><path d="M789.3 1884.7l13.5 -7.4v14.9z"/><path d="M793.1 1835.4l13.5 -7.4v14.9z"/><path d="M796.9 1856.8l13.5 -7.4v14.9z"/><path d="M800.7 1885.3l13.5 -7.4v14.9z"/><path d="M804.5 1861.8l13.5 -7.4v14.9z"/><path d="M808.3 1813.7l13.5 -7.4v14.9z"/><path d="M812.1 1866.6l13.5 -7.4v14.9z"/><path d="M815.9 1852.7l13.5 -7.4v14.9z"/><path d="M819.7 1860.6l13.5 -7.4v14.9z"/><path d="M823.5 1887.1l13.5 -7.4v14.9z"/><path d="M827.3 1877l13.5 -7.4v14.9z"/><path d="M831.1 1863.7l13.5 -7.4v14.9z"/><path d="M834.9 1890.2l13.5 -7.4v14.9z"/><path d="M838.7 1883l13.5 -7.4v14.9z"/><path d="M842.5 1878.4l13.5 -7.4v14.9z"/><path d="M846.3 1884.9l13.5 -7.4v14.9z"/><path d="M850.1 1886.3l13.5 -7.4v14.9z"/><path d="M853.9 1876.2l13.5 -7.4v14.9z"/><path d="M857.8 1876.1l13.5 -7.4v14.9z"/><path d="M861.6 1888.7l13.5 -7.4v14.9z"/><path d="M865.4 1870.5l13.5 -7.4v14.9z"/><path d="M869.2 1866.4l13.5 -7.4v14.9z"/><path d="M873 1922.6l13.5 -7.4v14.9z"/><path d="M876.8 1892.4l13.5 -7.4v14.9z"/><path d="M880.6 1899.1l13.5 -7.4v14.9z"/><path d="M884.4 1899l13.5 -7.4v14.9z"/><path d="M888.2 1904.5l13.5 -7.4v14.9z"/><path d="M892 1906.7l13.5 -7.4v14.9z"/><path d="M895.8 1909.7l13.5 -7.4v14.9z"/><path d="M899.6 1893.6l13.5 -7.4v14.9z"/><path d="M903.4 1932.3l13.5 -7.4v14.9z"/><path d="M907.2 1900.4l13.5 -7.4v14.9z"/><path d="M911 1938.8l13.5 -7.4v14.9z"/><path d="M914.8 1878.4l13.5 -7.4v14.9z"/><path d="M918.6 1897.5l13.5 -7.4v14.9z"/><path d="M922.4 1941.8l13.5 -7.4v14.9z"/><path d="M926.2 1919l13.5 -7.4v14.9z"/><path d="M930 1909.2l13.5 -7.4v14.9z"/><path d="M933.9 1932.3l13.5 -7.4v14.9z"/><path d="M937.7 1903.6l13.5 -7.4v14.9z"/><path d="M941.5 1928.3l13.5 -7.4v14.9z"/><path d="M945.3 1881.3l13.5 -7.4v14.9z"/><path d="M949.1 1919.5l13.5 -7.4v14.9z"/><path d="M952.9 1916.4l13.5 -7.4v14.9z"/><path d="M956.7 1941.8l13.5 -7.4v14.9z"/><path d="M960.5 1949.4l13.5 -7.4v14.9z"/><path d="M964.3 1913.5l13.5 -7.4v14.9z"/><path d="M968.1 1965.7l13.5 -7.4v14.9z"/><path d="M971.9 1920l13.5 -7.4v14.9z"/><path d="M975.7 1889.7l13.5 -7.4v14.9z"/><path d="M979.5 1883.4l13.5 -7.4v14.9z"/><path d="M983.3 1966.2l13.5 -7.4v14.9z"/><path d="M987.1 1932.5l13.5 -7.4v14.9z"/><path d="M990.9 1921.2l13.5 -7.4v14.9z"/><path d="M994.7 1919.5l13.5 -7.4v14.9z"/><path d="M998.5 1912.6l13.5 -7.4v14.9z"/><path d="M1002.3 1964.2l13.5 -7.4v14.9z"/><path d="M1006.1 1934.4l13.5 -7.4v14.9z"/><path d="M1010 1974l13.5 -7.4v14.9z"/><path d="M1013.8 1932.6l13.5 -7.4v14.9z"/><path d="M1017.6 1887.7l13.5 -7.4v14.9z"/><path d="M1021.4 1955.1l13.5 -7.4v14.9z"/><path d="M1025.2 1930l13.5 -7.4v14.9z"/><path d="M1029 1933.1l13.5 -7.4v14.9z"/><path d="M1032.8 1971.3l13.5 -7.4v14.9z"/><path d="M1036.6 1933.1l13.5 -7.4v14.9z"/><path d="M1040.4 1963.4l13.5 -7.4v14.9z"/><path d="M1044.2 1939.2l13.5 -7.4v14.9z"/><path d="M1048 1923.8l13.5 -7.4v14.9z"/><path d="M1051.8 1950.6l13.5 -7.4v14.9z"/><path d="M1055.6 1927.8l13.5 -7.4v14.9z"/><path d="M1059.4 1966.7l13.5 -7.4v14.9z"/><path d="M1063.2 1961.5l13.5 -7.4v14.9z"/><path d="M1067 1943.1l13.5 -7.4v14.9z"/><path d="M1070.8 1955.1l13.5 -7.4v14.9z"/><path d="M1074.6 1954.6l13.5 -7.4v14.9z"/><path d="M1078.4 1937.4l13.5 -7.4v14.9z"/><path d="M1082.3 1962.5l13.5 -7.4v14.9z"/><path d="M1086.1 1939.4l13.5 -7.4v14.9z"/><path d="M1089.9 1957.6l13.5 -7.4v14.9z"/><path d="M1093.7 1925l13.5 -7.4v14.9z"/><path d="M1097.5 1947.1l13.5 -7.4v14.9z"/><path d="M1101.3 1953.7l13.5 -7.4v14.9z"/><path d="M1105.1 1928.4l13.5 -7.4v14.9z"/><path d="M1108.9 1936.3l13.5 -7.4v14.9z"/><path d="M1112.7 1933.8l13.5 -7.4v14.9z"/><path d="M1116.5 1960.3l13.5 -7.4v14.9z"/><path d="M1118.6 2027.5l13.5 -7.4v14.9z"/><path d="M1118.6 2007l13.5 -7.4v14.9z"/><path d="M1120.3 1929.9l13.5 -7.4v14.9z"/><path d="M1124.1 1954.3l13.5 -7.4v14.9z"/><path d="M1127.9 1977.1l13.5 -7.4v14.9z"/><path d="M1131.7 1952.6l13.5 -7.4v14.9z"/><path d="M1135.5 1911.3l13.5 -7.4v14.9z"/><path d="M1139.3 1947.8l13.5 -7.4v14.9z"/><path d="M1143.1 1966.8l13.5 -7.4v14.9z"/><path d="M1146.9 1937.8l13.5 -7.4v14.9z"/><path d="M1150.7 1966l13.5 -7.4v14.9z"/><path d="M1154.5 1954.5l13.5 -7.4v14.9z"/><path d="M1158.4 1949.3l13.5 -7.4v14.9z"/><path d="M1162.2 1933.8l13.5 -7.4v14.9z"/><path d="M1166 1927.4l13.5 -7.4v14.9z"/><path d="M1169.8 1931.6l13.5 -7.4v14.9z"/><path d="M1173.6 1937.2l13.5 -7.4v14.9z"/><path d="M1177.4 1945.7l13.5 -7.4v14.9z"/><path d="M1181.2 1942.4l13.5 -7.4v14.9z"/><path d="M1185 1926.2l13.5 -7.4v14.9z"/><path d="M1188.8 1932.7l13.5 -7.4v14.9z"/><path d="M1192.6 1938.4l13.5 -7.4v14.9z"/><path d="M1196.4 1895.3l13.5 -7.4v14.9z"/><path d="M1200.2 1912.6l13.5 -7.4v14.9z"/><path d="M1204 1911.2l13.5 -7.4v14.9z"/><path d="M1207.8 1922.9l13.5 -7.4v14.9z"/><path d="M1211.6 1920.7l13.5 -7.4v14.9z"/><path d="M1215.4 1920.3l13.5 -7.4v14.9z"/><path d="M1219.2 1906.6l13.5 -7.4v14.9z"/><path d="M1223 1938.3l13.5 -7.4v14.9z"/><path d="M1223.6 1877l13.5 -7.4v14.9z"/><path d="M1226.8 1929.3l13.5 -7.4v14.9z"/><path d="M1230.6 1888.2l13.5 -7.4v14.9z"/><path d="M1234.5 1922.2l13.5 -7.4v14.9z"/><path d="M1234.6 1868l13.5 -7.4v14.9z"/><path d="M1238.3 1897.5l13.5 -7.4v14.9z"/><path d="M1242.1 1956.2l13.5 -7.4v14.9z"/><path d="M1245.9 1910.1l13.5 -7.4v14.9z"/><path d="M1249.7 1910.6l13.5 -7.4v14.9z"/><path d="M1253.5 1919.9l13.5 -7.4v14.9z"/><path d="M1257.3 1913.2l13.5 -7.4v14.9z"/><path d="M1261.1 1915.4l13.5 -7.4v14.9z"/><path d="M1264.9 1948.4l13.5 -7.4v14.9z"/><path d="M1268.7 1919.9l13.5 -7.4v14.9z"/><path d="M1272.5 1931.9l13.5 -7.4v14.9z"/><path d="M1276.3 1937.3l13.5 -7.4v14.9z"/><path d="M1280.1 1892.4l13.5 -7.4v14.9z"/><path d="M1283.9 1947.6l13.5 -7.4v14.9z"/><path d="M1287.7 1925.8l13.5 -7.4v14.9z"/><path d="M1291.5 1930.7l13.5 -7.4v14.9z"/><path d="M1295.3 1892l13.5 -7.4v14.9z"/><path d="M1299.1 1927l13.5 -7.4v14.9z"/><path d="M1302.9 1918.2l13.5 -7.4v14.9z"/><path d="M1306.7 1898l13.5 -7.4v14.9z"/><path d="M1310.6 1956.9l13.5 -7.4v14.9z"/><path d="M1314.4 1920.6l13.5 -7.4v14.9z"/><path d="M1318.2 1903.3l13.5 -7.4v14.9z"/><path d="M1322 1912.1l13.5 -7.4v14.9z"/><path d="M1325.8 1926.9l13.5 -7.4v14.9z"/><path d="M1329.6 1931.2l13.5 -7.4v14.9z"/><path d="M1333.4 1919.4l13.5 -7.4v14.9z"/><path d="M1337.2 1932.4l13.5 -7.4v14.9z"/><path d="M1337.6 1861l13.5 -7.4v14.9z"/><path d="M1341 1937.4l13.5 -7.4v14.9z"/><path d="M1344.8 1880.3l13.5 -7.4v14.9z"/><path d="M1348.6 1895.8l13.5 -7.4v14.9z"/><path d="M1352.4 1885.9l13.5 -7.4v14.9z"/></g>
</g>
<path d="M195.7 1385V2345.5M193.5 2326.7H1363" stroke="#000" stroke-width="3" fill="none"/>
<path d="M185.5 1385H195.7M175.7 2326.7H195.7M185.7 2134.9H195.7M185.7 2022.7H195.7M185.7 1943.1H195.7M185.7 1881.3H195.7M185.7 1830.9H195.7M185.7 1788.2H195.7M185.7 1751.3H195.7M185.7 1718.7H195.7M175.7 1689.5H195.7M185.7 1497.7H195.7M185.7 1385.5H195.7M195.5 2326.7V2345.7M260.3 2326.7V2336.7M325.2 2326.7V2336.7M390 2326.7V2336.7M454.9 2326.7V2336.7M519.7 2326.7V2336.7M584.6 2326.7V2336.7M649.4 2326.7V2336.7M714.3 2326.7V2336.7M779.1 2326.7V2345.7M843.9 2326.7V2336.7M908.8 2326.7V2336.7M973.6 2326.7V2336.7M1038.5 2326.7V2336.7M1103.3 2326.7V2336.7M1168.2 2326.7V2336.7M1233 2326.7V2336.7M1297.9 2326.7V2336.7M1362.7 2326.7V2345.7" stroke="#000" stroke-width="3" fill="none"/>
<g class="tk" text-anchor="end">
<text x="163" y="1702.0">1</text>
<text x="163" y="2339.2">0.1</text>
</g><g class="tk" text-anchor="middle">
<text x="195.5" y="2388">3</text>
<text x="779.1" y="2388">4</text>
<text x="1362.7" y="2388">5</text>
</g>
<text class="ti" style="font-size:48.7px" transform="translate(102 1983) rotate(-90)">Intensity (a.u.)</text>
<text class="ti" x="671" y="2443">q (nm<tspan font-size="25" dy="-26">-1</tspan><tspan dy="26">)</tspan></text>
<path stroke="#000" fill="none" stroke-width="1.3" d="M1106.7 1429.2h10.4v10.4h-10.4z"/>
<text x="1172" y="1448.9" class="lg">WCS</text>
<path stroke="#f00" fill="none" stroke-width="1.3" d="M1106.3 1502.1a5.6 5.6 0 1 0 11.2 0a5.6 5.6 0 1 0 -11.2 0z"/>
<text x="1172" y="1516.6" class="lg">CS</text>
<path stroke="#00f" fill="none" stroke-width="1.3" d="M1111.9 1562.5l6.5 13.3h-13z"/>
<text x="1172" y="1584.3" class="lg">HACS 50</text>
<path stroke="#f0f" fill="none" stroke-width="1.3" d="M1104.8 1631.7h14.3l-7.2 12.8z"/>
<text x="1172" y="1652.0" class="lg">HACS 60</text>
<path stroke="#008000" fill="none" stroke-width="1.3" d="M1111.9 1697.7l7 7.5l-7 7.5l-7 -7.5z"/>
<text x="1172" y="1719.7" class="lg">HACS 70</text>
<path stroke="#000080" fill="none" stroke-width="1.3" d="M1105.1 1772.9l12.3 -6.8v13.5z"/>
<text x="1172" y="1787.4" class="lg">HACS 80</text>
</svg>
</body></html>
